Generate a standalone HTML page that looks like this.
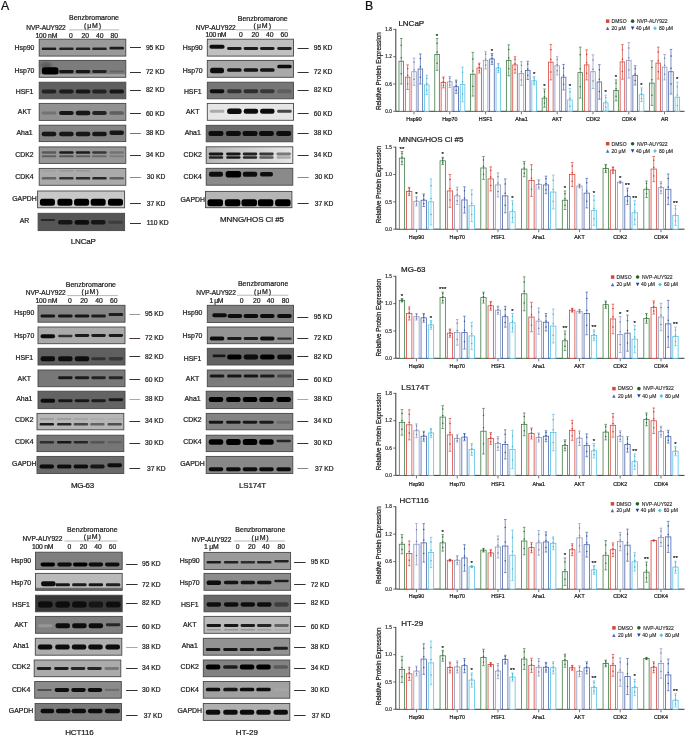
<!DOCTYPE html>
<html><head><meta charset="utf-8"><style>
html,body{margin:0;padding:0;background:#fff;width:685px;height:736px;overflow:hidden}
svg{display:block;font-family:"Liberation Sans", sans-serif;will-change:transform}
</style></head><body>
<svg width="685" height="736" viewBox="0 0 685 736">
<defs><filter id="bl" x="-30%" y="-80%" width="160%" height="260%"><feGaussianBlur stdDeviation="0.65"/></filter>
<filter id="bl2" x="-50%" y="-50%" width="200%" height="200%"><feGaussianBlur stdDeviation="1.6"/></filter>
<filter id="gb" x="0" y="0" width="100%" height="100%"><feGaussianBlur stdDeviation="0.2"/></filter></defs>
<rect width="685" height="736" fill="#fff"/>
<g filter="url(#gb)">
<rect width="685" height="736" fill="#fff"/>
<text x="1.00" y="10.10" font-size="12.3" text-anchor="start" fill="#111" stroke="#111" stroke-width="0.22" >A</text>
<text x="364.90" y="10.10" font-size="12.3" text-anchor="start" fill="#111" stroke="#111" stroke-width="0.22" >B</text>
<text x="69.00" y="19.80" font-size="7" text-anchor="start" fill="#1a1a1a" stroke="#1a1a1a" stroke-width="0.22" textLength="50.0">Benzbromarone</text>
<text x="84.00" y="27.60" font-size="7" text-anchor="start" fill="#1a1a1a" stroke="#1a1a1a" stroke-width="0.22" textLength="17.0">(μM)</text>
<text x="26.30" y="29.50" font-size="6.6" text-anchor="start" fill="#1a1a1a" stroke="#1a1a1a" stroke-width="0.22" textLength="39.4">NVP-AUY922</text>
<line x1="69.00" y1="29.90" x2="119.00" y2="29.90" stroke="#9a9a9a" stroke-width="0.7" />
<text x="35.50" y="37.90" font-size="6.8" text-anchor="start" fill="#1a1a1a" stroke="#1a1a1a" stroke-width="0.22" textLength="21.9">100 nM</text>
<text x="69.00" y="37.90" font-size="6.8" text-anchor="start" fill="#1a1a1a" stroke="#1a1a1a" stroke-width="0.22" >0</text>
<text x="81.60" y="37.90" font-size="6.8" text-anchor="start" fill="#1a1a1a" stroke="#1a1a1a" stroke-width="0.22" >20</text>
<text x="96.00" y="37.90" font-size="6.8" text-anchor="start" fill="#1a1a1a" stroke="#1a1a1a" stroke-width="0.22" >40</text>
<text x="110.50" y="37.90" font-size="6.8" text-anchor="start" fill="#1a1a1a" stroke="#1a1a1a" stroke-width="0.22" >80</text>
<text x="70.80" y="244.10" font-size="8" text-anchor="start" fill="#1a1a1a" stroke="#1a1a1a" stroke-width="0.22" textLength="25.1">LNCaP</text>
<text x="24.50" y="50.30" font-size="6.9" text-anchor="middle" fill="#1a1a1a" stroke="#1a1a1a" stroke-width="0.22" >Hsp90</text>
<text x="145.90" y="49.80" font-size="6.7" text-anchor="start" fill="#1a1a1a" stroke="#1a1a1a" stroke-width="0.22" >95 KD</text>
<line x1="130.00" y1="47.50" x2="140.90" y2="47.50" stroke="#333" stroke-width="1.0" />
<rect x="39.20" y="39.20" width="86.60" height="16.90" fill="#9a9a9a"/>
<rect x="39.20" y="39.20" width="86.60" height="16.90" fill="none" stroke="#474747" stroke-width="0.9"/>
<rect x="41.74" y="47.50" width="14.50" height="2.60" rx="1.18" fill="#1e1e1e" filter="url(#bl)"/>
<rect x="59.14" y="47.50" width="14.50" height="2.60" rx="1.18" fill="#232323" filter="url(#bl)"/>
<rect x="75.77" y="47.50" width="14.50" height="2.60" rx="1.18" fill="#232323" filter="url(#bl)"/>
<rect x="92.22" y="47.50" width="14.50" height="2.60" rx="1.18" fill="#232323" filter="url(#bl)"/>
<rect x="109.46" y="46.80" width="14.50" height="2.60" rx="1.18" fill="#1e1e1e" filter="url(#bl)"/>
<text x="24.50" y="72.60" font-size="6.9" text-anchor="middle" fill="#1a1a1a" stroke="#1a1a1a" stroke-width="0.22" >Hsp70</text>
<text x="145.90" y="74.00" font-size="6.7" text-anchor="start" fill="#1a1a1a" stroke="#1a1a1a" stroke-width="0.22" >72 KD</text>
<line x1="130.00" y1="72.50" x2="140.90" y2="72.50" stroke="#333" stroke-width="1.0" />
<rect x="39.20" y="60.40" width="86.60" height="16.90" fill="#7c7c7c"/>
<rect x="39.20" y="74.30" width="86.60" height="2.50" fill="#a8a8a8" filter="url(#bl)"/>
<ellipse cx="46.00" cy="65.50" rx="6.00" ry="3.50" fill="#3c3c3c" opacity="0.5" filter="url(#bl2)"/>
<rect x="39.20" y="60.40" width="86.60" height="16.90" fill="none" stroke="#474747" stroke-width="0.9"/>
<rect x="41.94" y="67.30" width="16.50" height="7.20" rx="2.50" fill="#060606" filter="url(#bl)"/>
<rect x="59.14" y="70.00" width="14.50" height="3.20" rx="1.45" fill="#161616" filter="url(#bl)"/>
<rect x="75.77" y="70.00" width="14.50" height="3.20" rx="1.45" fill="#191919" filter="url(#bl)"/>
<rect x="92.22" y="70.10" width="14.50" height="3.00" rx="1.36" fill="#232323" filter="url(#bl)"/>
<rect x="109.46" y="70.60" width="14.50" height="2.00" rx="0.91" fill="#646464" filter="url(#bl)"/>
<text x="24.50" y="94.30" font-size="6.9" text-anchor="middle" fill="#1a1a1a" stroke="#1a1a1a" stroke-width="0.22" >HSF1</text>
<text x="145.90" y="92.10" font-size="6.7" text-anchor="start" fill="#1a1a1a" stroke="#1a1a1a" stroke-width="0.22" >82 KD</text>
<line x1="130.00" y1="90.50" x2="140.90" y2="90.50" stroke="#333" stroke-width="1.0" />
<rect x="39.20" y="82.20" width="86.60" height="16.60" fill="#5f5f5f"/>
<rect x="39.20" y="82.20" width="86.60" height="16.60" fill="none" stroke="#474747" stroke-width="0.9"/>
<rect x="41.74" y="89.50" width="14.50" height="4.00" rx="1.82" fill="#232323" filter="url(#bl)"/>
<rect x="59.14" y="89.50" width="14.50" height="4.00" rx="1.82" fill="#1c1c1c" filter="url(#bl)"/>
<rect x="75.77" y="89.50" width="14.50" height="4.00" rx="1.82" fill="#191919" filter="url(#bl)"/>
<rect x="92.22" y="89.50" width="14.50" height="4.00" rx="1.82" fill="#232323" filter="url(#bl)"/>
<rect x="109.46" y="89.50" width="14.50" height="4.00" rx="1.82" fill="#161616" filter="url(#bl)"/>
<text x="24.50" y="113.80" font-size="6.9" text-anchor="middle" fill="#1a1a1a" stroke="#1a1a1a" stroke-width="0.22" >AKT</text>
<text x="145.90" y="115.80" font-size="6.7" text-anchor="start" fill="#1a1a1a" stroke="#1a1a1a" stroke-width="0.22" >60 KD</text>
<line x1="130.00" y1="113.50" x2="140.90" y2="113.50" stroke="#333" stroke-width="1.0" />
<rect x="39.20" y="103.40" width="86.60" height="17.00" fill="#919191"/>
<rect x="39.20" y="103.40" width="86.60" height="17.00" fill="none" stroke="#474747" stroke-width="0.9"/>
<rect x="41.74" y="111.50" width="14.50" height="3.00" rx="1.36" fill="#737373" filter="url(#bl)"/>
<rect x="59.14" y="111.00" width="14.50" height="4.00" rx="1.82" fill="#191919" filter="url(#bl)"/>
<rect x="75.77" y="110.75" width="14.50" height="4.50" rx="2.05" fill="#141414" filter="url(#bl)"/>
<rect x="92.22" y="111.00" width="14.50" height="4.00" rx="1.82" fill="#232323" filter="url(#bl)"/>
<rect x="109.46" y="111.25" width="14.50" height="3.50" rx="1.59" fill="#5f5f5f" filter="url(#bl)"/>
<text x="24.50" y="134.70" font-size="6.9" text-anchor="middle" fill="#1a1a1a" stroke="#1a1a1a" stroke-width="0.22" >Aha1</text>
<text x="145.90" y="134.70" font-size="6.7" text-anchor="start" fill="#1a1a1a" stroke="#1a1a1a" stroke-width="0.22" >38 KD</text>
<line x1="130.00" y1="133.50" x2="140.90" y2="133.50" stroke="#777" stroke-width="1.0" />
<rect x="39.20" y="125.20" width="86.60" height="16.40" fill="#848484"/>
<rect x="39.20" y="125.20" width="86.60" height="16.40" fill="none" stroke="#474747" stroke-width="0.9"/>
<rect x="41.74" y="131.75" width="14.50" height="4.50" rx="2.05" fill="#141414" filter="url(#bl)"/>
<rect x="59.14" y="131.75" width="14.50" height="4.50" rx="2.05" fill="#141414" filter="url(#bl)"/>
<rect x="75.77" y="131.75" width="14.50" height="4.50" rx="2.05" fill="#141414" filter="url(#bl)"/>
<rect x="92.22" y="131.75" width="14.50" height="4.50" rx="2.05" fill="#191919" filter="url(#bl)"/>
<rect x="109.46" y="130.55" width="14.50" height="4.50" rx="2.05" fill="#191919" filter="url(#bl)"/>
<text x="24.50" y="156.70" font-size="6.9" text-anchor="middle" fill="#1a1a1a" stroke="#1a1a1a" stroke-width="0.22" >CDK2</text>
<text x="145.90" y="157.00" font-size="6.7" text-anchor="start" fill="#1a1a1a" stroke="#1a1a1a" stroke-width="0.22" >34 KD</text>
<line x1="130.00" y1="155.50" x2="140.90" y2="155.50" stroke="#333" stroke-width="1.0" />
<rect x="39.20" y="146.90" width="86.60" height="16.50" fill="#969696"/>
<rect x="39.20" y="146.90" width="86.60" height="16.50" fill="none" stroke="#474747" stroke-width="0.9"/>
<rect x="41.74" y="151.20" width="14.50" height="2.60" rx="1.18" fill="#5a5a5a" filter="url(#bl)"/>
<rect x="59.14" y="151.20" width="14.50" height="2.60" rx="1.18" fill="#1e1e1e" filter="url(#bl)"/>
<rect x="75.77" y="151.20" width="14.50" height="2.60" rx="1.18" fill="#1e1e1e" filter="url(#bl)"/>
<rect x="92.22" y="151.20" width="14.50" height="2.60" rx="1.18" fill="#373737" filter="url(#bl)"/>
<rect x="109.46" y="151.20" width="14.50" height="2.60" rx="1.18" fill="#737373" filter="url(#bl)"/>
<rect x="41.74" y="155.30" width="14.50" height="2.00" rx="0.91" fill="#5f5f5f" filter="url(#bl)"/>
<rect x="59.14" y="155.30" width="14.50" height="2.00" rx="0.91" fill="#555555" filter="url(#bl)"/>
<rect x="75.77" y="155.30" width="14.50" height="2.00" rx="0.91" fill="#5f5f5f" filter="url(#bl)"/>
<rect x="92.22" y="155.30" width="14.50" height="2.00" rx="0.91" fill="#696969" filter="url(#bl)"/>
<rect x="109.46" y="155.30" width="14.50" height="2.00" rx="0.91" fill="#7d7d7d" filter="url(#bl)"/>
<text x="24.50" y="179.00" font-size="6.9" text-anchor="middle" fill="#1a1a1a" stroke="#1a1a1a" stroke-width="0.22" >CDK4</text>
<text x="146.70" y="179.00" font-size="6.7" text-anchor="start" fill="#1a1a1a" stroke="#1a1a1a" stroke-width="0.22" >30 KD</text>
<line x1="130.00" y1="177.50" x2="140.90" y2="177.50" stroke="#888" stroke-width="1.0" />
<rect x="39.20" y="168.40" width="86.60" height="16.90" fill="#aaaaaa"/>
<rect x="39.20" y="168.40" width="86.60" height="16.90" fill="none" stroke="#474747" stroke-width="0.9"/>
<rect x="41.74" y="177.00" width="14.50" height="2.60" rx="1.18" fill="#646464" filter="url(#bl)"/>
<rect x="59.14" y="177.00" width="14.50" height="2.60" rx="1.18" fill="#323232" filter="url(#bl)"/>
<rect x="75.77" y="177.00" width="14.50" height="2.60" rx="1.18" fill="#2d2d2d" filter="url(#bl)"/>
<rect x="92.22" y="177.00" width="14.50" height="2.60" rx="1.18" fill="#282828" filter="url(#bl)"/>
<rect x="109.46" y="177.00" width="14.50" height="2.60" rx="1.18" fill="#5f5f5f" filter="url(#bl)"/>
<rect x="41.74" y="170.05" width="14.50" height="1.50" rx="0.68" fill="#a0a0a0" filter="url(#bl)"/>
<rect x="59.14" y="170.05" width="14.50" height="1.50" rx="0.68" fill="#969696" filter="url(#bl)"/>
<rect x="75.77" y="170.05" width="14.50" height="1.50" rx="0.68" fill="#969696" filter="url(#bl)"/>
<text x="24.50" y="201.30" font-size="6.9" text-anchor="middle" fill="#1a1a1a" stroke="#1a1a1a" stroke-width="0.22" >GAPDH</text>
<text x="146.70" y="205.50" font-size="6.7" text-anchor="start" fill="#1a1a1a" stroke="#1a1a1a" stroke-width="0.22" >37 KD</text>
<line x1="130.00" y1="203.50" x2="140.90" y2="203.50" stroke="#333" stroke-width="1.0" />
<rect x="37.60" y="191.00" width="87.00" height="16.80" fill="#c8c8c8"/>
<rect x="37.60" y="191.00" width="87.00" height="16.80" fill="none" stroke="#474747" stroke-width="0.9"/>
<rect x="39.93" y="198.80" width="15.00" height="7.00" rx="2.50" fill="#050505" filter="url(#bl)"/>
<rect x="57.42" y="198.80" width="15.00" height="7.00" rx="2.50" fill="#050505" filter="url(#bl)"/>
<rect x="74.12" y="198.80" width="15.00" height="7.00" rx="2.50" fill="#050505" filter="url(#bl)"/>
<rect x="90.65" y="198.80" width="15.00" height="7.00" rx="2.50" fill="#050505" filter="url(#bl)"/>
<rect x="107.97" y="198.80" width="15.00" height="7.00" rx="2.50" fill="#050505" filter="url(#bl)"/>
<text x="24.50" y="223.30" font-size="6.9" text-anchor="middle" fill="#1a1a1a" stroke="#1a1a1a" stroke-width="0.22" >AR</text>
<text x="146.70" y="225.30" font-size="6.7" text-anchor="start" fill="#1a1a1a" stroke="#1a1a1a" stroke-width="0.22" >110 KD</text>
<line x1="130.00" y1="223.50" x2="140.90" y2="223.50" stroke="#333" stroke-width="1.0" />
<rect x="38.10" y="213.30" width="86.50" height="17.30" fill="#555555"/>
<rect x="38.10" y="213.30" width="86.50" height="17.30" fill="none" stroke="#474747" stroke-width="0.9"/>
<rect x="40.62" y="219.00" width="14.50" height="2.00" rx="0.91" fill="#282828" filter="url(#bl)"/>
<rect x="58.01" y="220.05" width="14.50" height="4.50" rx="2.05" fill="#191919" filter="url(#bl)"/>
<rect x="74.62" y="219.90" width="14.50" height="4.80" rx="2.18" fill="#0f0f0f" filter="url(#bl)"/>
<rect x="91.05" y="220.05" width="14.50" height="4.50" rx="2.05" fill="#141414" filter="url(#bl)"/>
<rect x="108.27" y="220.80" width="14.50" height="3.00" rx="1.36" fill="#3c3c3c" filter="url(#bl)"/>
<text x="237.80" y="20.50" font-size="7" text-anchor="start" fill="#1a1a1a" stroke="#1a1a1a" stroke-width="0.22" textLength="49.9">Benzbromarone</text>
<text x="253.60" y="28.00" font-size="7" text-anchor="start" fill="#1a1a1a" stroke="#1a1a1a" stroke-width="0.22" textLength="17.4">(μM)</text>
<text x="195.80" y="29.70" font-size="6.6" text-anchor="start" fill="#1a1a1a" stroke="#1a1a1a" stroke-width="0.22" textLength="39.9">NVP-AUY922</text>
<line x1="236.00" y1="29.90" x2="288.00" y2="29.90" stroke="#9a9a9a" stroke-width="0.7" />
<text x="205.50" y="37.30" font-size="6.8" text-anchor="start" fill="#1a1a1a" stroke="#1a1a1a" stroke-width="0.22" textLength="21.0">100 nM</text>
<text x="239.00" y="37.30" font-size="6.8" text-anchor="start" fill="#1a1a1a" stroke="#1a1a1a" stroke-width="0.22" >0</text>
<text x="251.50" y="37.30" font-size="6.8" text-anchor="start" fill="#1a1a1a" stroke="#1a1a1a" stroke-width="0.22" >20</text>
<text x="266.00" y="37.30" font-size="6.8" text-anchor="start" fill="#1a1a1a" stroke="#1a1a1a" stroke-width="0.22" >40</text>
<text x="280.50" y="37.30" font-size="6.8" text-anchor="start" fill="#1a1a1a" stroke="#1a1a1a" stroke-width="0.22" >60</text>
<text x="219.90" y="221.90" font-size="8" text-anchor="start" fill="#1a1a1a" stroke="#1a1a1a" stroke-width="0.22" textLength="64.1">MNNG/HOS Cl #5</text>
<text x="192.70" y="50.30" font-size="6.9" text-anchor="middle" fill="#1a1a1a" stroke="#1a1a1a" stroke-width="0.22" >Hsp90</text>
<text x="313.70" y="49.80" font-size="6.7" text-anchor="start" fill="#1a1a1a" stroke="#1a1a1a" stroke-width="0.22" >95 KD</text>
<line x1="297.60" y1="48.50" x2="308.70" y2="48.50" stroke="#333" stroke-width="1.0" />
<rect x="207.30" y="39.20" width="86.20" height="16.90" fill="#c0c0c0"/>
<rect x="207.30" y="39.20" width="86.20" height="16.90" fill="none" stroke="#474747" stroke-width="0.9"/>
<rect x="209.54" y="44.80" width="15.00" height="4.00" rx="1.82" fill="#0f0f0f" filter="url(#bl)"/>
<rect x="227.12" y="46.90" width="14.50" height="3.00" rx="1.36" fill="#1e1e1e" filter="url(#bl)"/>
<rect x="243.67" y="46.90" width="14.50" height="3.00" rx="1.36" fill="#1e1e1e" filter="url(#bl)"/>
<rect x="260.05" y="46.90" width="14.50" height="3.00" rx="1.36" fill="#1e1e1e" filter="url(#bl)"/>
<rect x="277.20" y="46.90" width="14.50" height="3.00" rx="1.36" fill="#232323" filter="url(#bl)"/>
<text x="192.70" y="72.60" font-size="6.9" text-anchor="middle" fill="#1a1a1a" stroke="#1a1a1a" stroke-width="0.22" >Hsp70</text>
<text x="313.70" y="74.00" font-size="6.7" text-anchor="start" fill="#1a1a1a" stroke="#1a1a1a" stroke-width="0.22" >72 KD</text>
<line x1="297.60" y1="72.50" x2="308.70" y2="72.50" stroke="#333" stroke-width="1.0" />
<rect x="207.30" y="60.40" width="86.20" height="16.90" fill="#a9a9a9"/>
<rect x="207.30" y="60.40" width="86.20" height="16.90" fill="none" stroke="#474747" stroke-width="0.9"/>
<rect x="210.04" y="67.65" width="14.00" height="5.50" rx="2.50" fill="#0a0a0a" filter="url(#bl)"/>
<rect x="227.12" y="68.25" width="14.50" height="3.50" rx="1.59" fill="#141414" filter="url(#bl)"/>
<rect x="243.67" y="68.25" width="14.50" height="3.50" rx="1.59" fill="#141414" filter="url(#bl)"/>
<rect x="260.05" y="68.25" width="14.50" height="3.50" rx="1.59" fill="#141414" filter="url(#bl)"/>
<rect x="277.20" y="64.85" width="14.50" height="3.50" rx="1.59" fill="#0f0f0f" filter="url(#bl)"/>
<text x="192.70" y="94.30" font-size="6.9" text-anchor="middle" fill="#1a1a1a" stroke="#1a1a1a" stroke-width="0.22" >HSF1</text>
<text x="313.70" y="92.10" font-size="6.7" text-anchor="start" fill="#1a1a1a" stroke="#1a1a1a" stroke-width="0.22" >82 KD</text>
<line x1="297.60" y1="90.50" x2="308.70" y2="90.50" stroke="#333" stroke-width="1.0" />
<rect x="207.30" y="82.20" width="86.20" height="16.60" fill="#767676"/>
<rect x="207.30" y="82.20" width="86.20" height="16.60" fill="none" stroke="#474747" stroke-width="0.9"/>
<rect x="209.79" y="89.20" width="14.50" height="4.00" rx="1.82" fill="#0f0f0f" filter="url(#bl)"/>
<rect x="227.12" y="89.20" width="14.50" height="4.00" rx="1.82" fill="#323232" filter="url(#bl)"/>
<rect x="243.67" y="89.20" width="14.50" height="4.00" rx="1.82" fill="#2d2d2d" filter="url(#bl)"/>
<rect x="260.05" y="89.20" width="14.50" height="4.00" rx="1.82" fill="#373737" filter="url(#bl)"/>
<rect x="277.20" y="89.20" width="14.50" height="4.00" rx="1.82" fill="#5f5f5f" filter="url(#bl)"/>
<text x="192.70" y="114.40" font-size="6.9" text-anchor="middle" fill="#1a1a1a" stroke="#1a1a1a" stroke-width="0.22" >AKT</text>
<text x="313.70" y="115.80" font-size="6.7" text-anchor="start" fill="#1a1a1a" stroke="#1a1a1a" stroke-width="0.22" >60 KD</text>
<line x1="297.60" y1="113.50" x2="308.70" y2="113.50" stroke="#333" stroke-width="1.0" />
<rect x="207.30" y="103.40" width="86.20" height="16.90" fill="#e6e6e6"/>
<rect x="207.30" y="103.40" width="86.20" height="16.90" fill="none" stroke="#474747" stroke-width="0.9"/>
<rect x="209.79" y="109.80" width="14.50" height="3.00" rx="1.36" fill="#aaaaaa" filter="url(#bl)"/>
<rect x="227.12" y="108.55" width="14.50" height="5.50" rx="2.50" fill="#0a0a0a" filter="url(#bl)"/>
<rect x="243.67" y="108.80" width="14.50" height="5.00" rx="2.27" fill="#0f0f0f" filter="url(#bl)"/>
<rect x="260.05" y="108.80" width="14.50" height="5.00" rx="2.27" fill="#0f0f0f" filter="url(#bl)"/>
<rect x="277.20" y="109.80" width="14.50" height="3.00" rx="1.36" fill="#464646" filter="url(#bl)"/>
<text x="192.70" y="134.70" font-size="6.9" text-anchor="middle" fill="#1a1a1a" stroke="#1a1a1a" stroke-width="0.22" >Aha1</text>
<text x="313.70" y="134.70" font-size="6.7" text-anchor="start" fill="#1a1a1a" stroke="#1a1a1a" stroke-width="0.22" >38 KD</text>
<line x1="297.60" y1="133.50" x2="308.70" y2="133.50" stroke="#333" stroke-width="1.0" />
<rect x="206.20" y="125.30" width="86.60" height="16.50" fill="#6a6a6a"/>
<rect x="206.20" y="125.30" width="86.60" height="16.50" fill="none" stroke="#474747" stroke-width="0.9"/>
<rect x="208.49" y="131.00" width="15.00" height="5.00" rx="2.27" fill="#0a0a0a" filter="url(#bl)"/>
<rect x="225.89" y="131.00" width="15.00" height="5.00" rx="2.27" fill="#0f0f0f" filter="url(#bl)"/>
<rect x="242.52" y="131.00" width="15.00" height="5.00" rx="2.27" fill="#0a0a0a" filter="url(#bl)"/>
<rect x="258.97" y="131.00" width="15.00" height="5.00" rx="2.27" fill="#0f0f0f" filter="url(#bl)"/>
<rect x="276.21" y="131.00" width="15.00" height="5.00" rx="2.27" fill="#0a0a0a" filter="url(#bl)"/>
<text x="192.70" y="156.70" font-size="6.9" text-anchor="middle" fill="#1a1a1a" stroke="#1a1a1a" stroke-width="0.22" >CDK2</text>
<text x="313.70" y="157.00" font-size="6.7" text-anchor="start" fill="#1a1a1a" stroke="#1a1a1a" stroke-width="0.22" >34 KD</text>
<line x1="297.60" y1="155.50" x2="308.70" y2="155.50" stroke="#333" stroke-width="1.0" />
<linearGradient id="gr175" x1="0" y1="0" x2="1" y2="0"><stop offset="0" stop-color="#b6b6b6"/><stop offset="1" stop-color="#e8e8e8"/></linearGradient>
<rect x="206.20" y="146.80" width="86.60" height="16.60" fill="url(#gr175)"/>
<rect x="206.20" y="146.80" width="86.60" height="16.60" fill="none" stroke="#474747" stroke-width="0.9"/>
<rect x="208.74" y="152.40" width="14.50" height="3.00" rx="1.36" fill="#191919" filter="url(#bl)"/>
<rect x="226.14" y="152.40" width="14.50" height="3.00" rx="1.36" fill="#191919" filter="url(#bl)"/>
<rect x="242.77" y="152.40" width="14.50" height="3.00" rx="1.36" fill="#232323" filter="url(#bl)"/>
<rect x="259.22" y="152.40" width="14.50" height="3.00" rx="1.36" fill="#373737" filter="url(#bl)"/>
<rect x="276.46" y="152.40" width="14.50" height="3.00" rx="1.36" fill="#787878" filter="url(#bl)"/>
<rect x="208.74" y="156.25" width="14.50" height="2.50" rx="1.14" fill="#232323" filter="url(#bl)"/>
<rect x="226.14" y="156.25" width="14.50" height="2.50" rx="1.14" fill="#191919" filter="url(#bl)"/>
<rect x="242.77" y="156.25" width="14.50" height="2.50" rx="1.14" fill="#282828" filter="url(#bl)"/>
<rect x="259.22" y="156.25" width="14.50" height="2.50" rx="1.14" fill="#5a5a5a" filter="url(#bl)"/>
<rect x="276.46" y="156.25" width="14.50" height="2.50" rx="1.14" fill="#aaaaaa" filter="url(#bl)"/>
<text x="192.70" y="179.00" font-size="6.9" text-anchor="middle" fill="#1a1a1a" stroke="#1a1a1a" stroke-width="0.22" >CDK4</text>
<text x="314.80" y="179.00" font-size="6.7" text-anchor="start" fill="#1a1a1a" stroke="#1a1a1a" stroke-width="0.22" >30 KD</text>
<line x1="297.60" y1="177.50" x2="308.70" y2="177.50" stroke="#888" stroke-width="1.0" />
<rect x="206.20" y="168.30" width="86.60" height="16.90" fill="#8a8a8a"/>
<rect x="206.20" y="168.30" width="86.60" height="16.90" fill="none" stroke="#474747" stroke-width="0.9"/>
<rect x="208.99" y="171.80" width="14.00" height="5.00" rx="2.27" fill="#0a0a0a" filter="url(#bl)"/>
<rect x="225.64" y="171.05" width="15.50" height="6.50" rx="2.50" fill="#050505" filter="url(#bl)"/>
<rect x="242.77" y="171.80" width="14.50" height="5.00" rx="2.27" fill="#0a0a0a" filter="url(#bl)"/>
<rect x="259.97" y="172.05" width="13.00" height="4.50" rx="2.05" fill="#0f0f0f" filter="url(#bl)"/>
<text x="192.70" y="201.60" font-size="6.9" text-anchor="middle" fill="#1a1a1a" stroke="#1a1a1a" stroke-width="0.22" >GAPDH</text>
<text x="314.80" y="205.50" font-size="6.7" text-anchor="start" fill="#1a1a1a" stroke="#1a1a1a" stroke-width="0.22" >37 KD</text>
<line x1="297.60" y1="203.50" x2="308.70" y2="203.50" stroke="#333" stroke-width="1.0" />
<rect x="205.50" y="191.40" width="86.40" height="16.30" fill="#b5b5b5"/>
<rect x="205.50" y="191.40" width="86.40" height="16.30" fill="none" stroke="#474747" stroke-width="0.9"/>
<rect x="207.51" y="199.30" width="15.50" height="7.00" rx="2.50" fill="#050505" filter="url(#bl)"/>
<rect x="224.88" y="199.30" width="15.50" height="7.00" rx="2.50" fill="#050505" filter="url(#bl)"/>
<rect x="241.47" y="199.30" width="15.50" height="7.00" rx="2.50" fill="#050505" filter="url(#bl)"/>
<rect x="257.88" y="199.30" width="15.50" height="7.00" rx="2.50" fill="#050505" filter="url(#bl)"/>
<rect x="275.08" y="199.30" width="15.50" height="7.00" rx="2.50" fill="#050505" filter="url(#bl)"/>
<text x="65.70" y="286.80" font-size="7" text-anchor="start" fill="#1a1a1a" stroke="#1a1a1a" stroke-width="0.22" textLength="50.3">Benzbromarone</text>
<text x="81.50" y="294.00" font-size="7" text-anchor="start" fill="#1a1a1a" stroke="#1a1a1a" stroke-width="0.22" textLength="17.1">(μM)</text>
<text x="25.80" y="295.30" font-size="6.6" text-anchor="start" fill="#1a1a1a" stroke="#1a1a1a" stroke-width="0.22" textLength="39.9">NVP-AUY922</text>
<line x1="67.00" y1="295.60" x2="118.00" y2="295.60" stroke="#9a9a9a" stroke-width="0.7" />
<text x="35.50" y="303.00" font-size="6.8" text-anchor="start" fill="#1a1a1a" stroke="#1a1a1a" stroke-width="0.22" textLength="21.9">100 nM</text>
<text x="67.90" y="303.00" font-size="6.8" text-anchor="start" fill="#1a1a1a" stroke="#1a1a1a" stroke-width="0.22" >0</text>
<text x="80.30" y="303.00" font-size="6.8" text-anchor="start" fill="#1a1a1a" stroke="#1a1a1a" stroke-width="0.22" >20</text>
<text x="95.30" y="303.00" font-size="6.8" text-anchor="start" fill="#1a1a1a" stroke="#1a1a1a" stroke-width="0.22" >40</text>
<text x="110.00" y="303.00" font-size="6.8" text-anchor="start" fill="#1a1a1a" stroke="#1a1a1a" stroke-width="0.22" >60</text>
<text x="70.90" y="488.00" font-size="8" text-anchor="start" fill="#1a1a1a" stroke="#1a1a1a" stroke-width="0.22" textLength="23.3">MG-63</text>
<text x="24.30" y="315.40" font-size="6.9" text-anchor="middle" fill="#1a1a1a" stroke="#1a1a1a" stroke-width="0.22" >Hsp90</text>
<text x="145.00" y="316.10" font-size="6.7" text-anchor="start" fill="#1a1a1a" stroke="#1a1a1a" stroke-width="0.22" >95 KD</text>
<line x1="129.40" y1="314.50" x2="140.20" y2="314.50" stroke="#999" stroke-width="1.0" />
<rect x="38.00" y="305.30" width="87.00" height="16.90" fill="#858585"/>
<rect x="38.00" y="305.30" width="87.00" height="16.90" fill="none" stroke="#474747" stroke-width="0.9"/>
<rect x="40.58" y="314.50" width="14.50" height="3.00" rx="1.36" fill="#191919" filter="url(#bl)"/>
<rect x="58.07" y="314.50" width="14.50" height="3.00" rx="1.36" fill="#191919" filter="url(#bl)"/>
<rect x="74.77" y="314.50" width="14.50" height="3.00" rx="1.36" fill="#191919" filter="url(#bl)"/>
<rect x="91.30" y="314.50" width="14.50" height="3.00" rx="1.36" fill="#1e1e1e" filter="url(#bl)"/>
<rect x="108.61" y="313.10" width="14.50" height="3.00" rx="1.36" fill="#1e1e1e" filter="url(#bl)"/>
<text x="24.30" y="337.90" font-size="6.9" text-anchor="middle" fill="#1a1a1a" stroke="#1a1a1a" stroke-width="0.22" >Hsp70</text>
<text x="145.00" y="340.40" font-size="6.7" text-anchor="start" fill="#1a1a1a" stroke="#1a1a1a" stroke-width="0.22" >72 KD</text>
<line x1="129.40" y1="338.50" x2="140.20" y2="338.50" stroke="#4a3a3a" stroke-width="1.0" />
<rect x="38.00" y="327.00" width="87.00" height="16.70" fill="#aaaaaa"/>
<rect x="38.00" y="327.00" width="87.00" height="16.70" fill="none" stroke="#474747" stroke-width="0.9"/>
<rect x="40.58" y="334.30" width="14.50" height="4.00" rx="1.82" fill="#0f0f0f" filter="url(#bl)"/>
<rect x="58.07" y="334.75" width="14.50" height="2.50" rx="1.14" fill="#323232" filter="url(#bl)"/>
<rect x="74.77" y="333.90" width="14.50" height="3.00" rx="1.36" fill="#1e1e1e" filter="url(#bl)"/>
<rect x="91.30" y="333.90" width="14.50" height="3.00" rx="1.36" fill="#1e1e1e" filter="url(#bl)"/>
<rect x="108.61" y="333.90" width="14.50" height="3.00" rx="1.36" fill="#1e1e1e" filter="url(#bl)"/>
<text x="24.30" y="360.40" font-size="6.9" text-anchor="middle" fill="#1a1a1a" stroke="#1a1a1a" stroke-width="0.22" >HSF1</text>
<text x="145.00" y="358.70" font-size="6.7" text-anchor="start" fill="#1a1a1a" stroke="#1a1a1a" stroke-width="0.22" >82 KD</text>
<line x1="129.40" y1="356.50" x2="140.20" y2="356.50" stroke="#333" stroke-width="1.0" />
<rect x="38.00" y="348.30" width="87.00" height="16.70" fill="#5e5e5e"/>
<rect x="38.00" y="348.30" width="87.00" height="16.70" fill="none" stroke="#474747" stroke-width="0.9"/>
<rect x="40.58" y="356.20" width="14.50" height="5.00" rx="2.27" fill="#0a0a0a" filter="url(#bl)"/>
<rect x="58.07" y="356.20" width="14.50" height="5.00" rx="2.27" fill="#0f0f0f" filter="url(#bl)"/>
<rect x="74.77" y="356.20" width="14.50" height="5.00" rx="2.27" fill="#0f0f0f" filter="url(#bl)"/>
<rect x="91.30" y="357.20" width="14.50" height="3.00" rx="1.36" fill="#323232" filter="url(#bl)"/>
<rect x="108.61" y="356.95" width="14.50" height="3.50" rx="1.59" fill="#373737" filter="url(#bl)"/>
<text x="24.30" y="380.70" font-size="6.9" text-anchor="middle" fill="#1a1a1a" stroke="#1a1a1a" stroke-width="0.22" >AKT</text>
<text x="145.00" y="381.90" font-size="6.7" text-anchor="start" fill="#1a1a1a" stroke="#1a1a1a" stroke-width="0.22" >60 KD</text>
<line x1="129.40" y1="379.50" x2="140.20" y2="379.50" stroke="#333" stroke-width="1.0" />
<rect x="38.00" y="370.00" width="87.00" height="16.70" fill="#787878"/>
<rect x="38.00" y="370.00" width="87.00" height="16.70" fill="none" stroke="#474747" stroke-width="0.9"/>
<rect x="58.07" y="376.20" width="14.50" height="3.00" rx="1.36" fill="#191919" filter="url(#bl)"/>
<rect x="74.77" y="376.20" width="14.50" height="3.00" rx="1.36" fill="#1e1e1e" filter="url(#bl)"/>
<rect x="91.30" y="376.20" width="14.50" height="3.00" rx="1.36" fill="#232323" filter="url(#bl)"/>
<rect x="108.61" y="376.20" width="14.50" height="3.00" rx="1.36" fill="#282828" filter="url(#bl)"/>
<text x="24.30" y="401.00" font-size="6.9" text-anchor="middle" fill="#1a1a1a" stroke="#1a1a1a" stroke-width="0.22" >Aha1</text>
<text x="145.00" y="401.20" font-size="6.7" text-anchor="start" fill="#1a1a1a" stroke="#1a1a1a" stroke-width="0.22" >38 KD</text>
<line x1="129.40" y1="399.50" x2="140.20" y2="399.50" stroke="#aaa" stroke-width="1.0" />
<rect x="38.00" y="391.20" width="87.00" height="17.40" fill="#646464"/>
<rect x="38.00" y="391.20" width="87.00" height="17.40" fill="none" stroke="#474747" stroke-width="0.9"/>
<rect x="40.58" y="398.70" width="14.50" height="4.00" rx="1.82" fill="#0a0a0a" filter="url(#bl)"/>
<rect x="58.07" y="399.20" width="14.50" height="3.00" rx="1.36" fill="#191919" filter="url(#bl)"/>
<rect x="74.77" y="399.20" width="14.50" height="3.00" rx="1.36" fill="#191919" filter="url(#bl)"/>
<rect x="91.30" y="399.20" width="14.50" height="3.00" rx="1.36" fill="#1e1e1e" filter="url(#bl)"/>
<rect x="108.61" y="398.20" width="14.50" height="3.00" rx="1.36" fill="#191919" filter="url(#bl)"/>
<text x="24.30" y="422.30" font-size="6.9" text-anchor="middle" fill="#1a1a1a" stroke="#1a1a1a" stroke-width="0.22" >CDK2</text>
<text x="145.00" y="423.00" font-size="6.7" text-anchor="start" fill="#1a1a1a" stroke="#1a1a1a" stroke-width="0.22" >34 KD</text>
<line x1="129.40" y1="421.50" x2="140.20" y2="421.50" stroke="#333" stroke-width="1.0" />
<rect x="37.00" y="413.40" width="86.80" height="16.40" fill="#b6b6b6"/>
<rect x="37.00" y="413.40" width="86.80" height="16.40" fill="none" stroke="#474747" stroke-width="0.9"/>
<rect x="39.56" y="418.25" width="14.50" height="1.50" rx="0.68" fill="#969696" filter="url(#bl)"/>
<rect x="57.01" y="418.25" width="14.50" height="1.50" rx="0.68" fill="#969696" filter="url(#bl)"/>
<rect x="73.67" y="418.25" width="14.50" height="1.50" rx="0.68" fill="#a0a0a0" filter="url(#bl)"/>
<rect x="90.16" y="418.25" width="14.50" height="1.50" rx="0.68" fill="#aaaaaa" filter="url(#bl)"/>
<rect x="107.44" y="418.25" width="14.50" height="1.50" rx="0.68" fill="#aaaaaa" filter="url(#bl)"/>
<rect x="39.56" y="423.05" width="14.50" height="2.50" rx="1.14" fill="#1e1e1e" filter="url(#bl)"/>
<rect x="57.01" y="423.05" width="14.50" height="2.50" rx="1.14" fill="#282828" filter="url(#bl)"/>
<rect x="73.67" y="423.05" width="14.50" height="2.50" rx="1.14" fill="#464646" filter="url(#bl)"/>
<rect x="90.16" y="423.05" width="14.50" height="2.50" rx="1.14" fill="#646464" filter="url(#bl)"/>
<rect x="107.44" y="423.05" width="14.50" height="2.50" rx="1.14" fill="#505050" filter="url(#bl)"/>
<text x="24.30" y="444.30" font-size="6.9" text-anchor="middle" fill="#1a1a1a" stroke="#1a1a1a" stroke-width="0.22" >CDK4</text>
<text x="145.00" y="444.80" font-size="6.7" text-anchor="start" fill="#1a1a1a" stroke="#1a1a1a" stroke-width="0.22" >30 KD</text>
<line x1="129.40" y1="443.50" x2="140.20" y2="443.50" stroke="#333" stroke-width="1.0" />
<rect x="37.00" y="435.20" width="86.80" height="16.40" fill="#767676"/>
<rect x="37.00" y="435.20" width="86.80" height="16.40" fill="none" stroke="#474747" stroke-width="0.9"/>
<rect x="39.56" y="441.05" width="14.50" height="2.50" rx="1.14" fill="#2d2d2d" filter="url(#bl)"/>
<rect x="57.01" y="441.05" width="14.50" height="2.50" rx="1.14" fill="#191919" filter="url(#bl)"/>
<rect x="73.67" y="441.05" width="14.50" height="2.50" rx="1.14" fill="#282828" filter="url(#bl)"/>
<rect x="90.16" y="441.05" width="14.50" height="2.50" rx="1.14" fill="#555555" filter="url(#bl)"/>
<rect x="107.44" y="441.05" width="14.50" height="2.50" rx="1.14" fill="#646464" filter="url(#bl)"/>
<text x="24.30" y="465.80" font-size="6.9" text-anchor="middle" fill="#1a1a1a" stroke="#1a1a1a" stroke-width="0.22" >GAPDH</text>
<text x="147.00" y="470.70" font-size="6.7" text-anchor="start" fill="#1a1a1a" stroke="#1a1a1a" stroke-width="0.22" >37 KD</text>
<line x1="129.40" y1="468.50" x2="140.20" y2="468.50" stroke="#333" stroke-width="1.0" />
<rect x="37.00" y="456.40" width="86.80" height="17.10" fill="#6a6a6a"/>
<rect x="37.00" y="456.40" width="86.80" height="17.10" fill="none" stroke="#474747" stroke-width="0.9"/>
<rect x="39.56" y="464.60" width="14.50" height="4.00" rx="1.82" fill="#0a0a0a" filter="url(#bl)"/>
<rect x="57.01" y="464.60" width="14.50" height="4.00" rx="1.82" fill="#0f0f0f" filter="url(#bl)"/>
<rect x="73.67" y="464.60" width="14.50" height="4.00" rx="1.82" fill="#0f0f0f" filter="url(#bl)"/>
<rect x="90.16" y="464.60" width="14.50" height="4.00" rx="1.82" fill="#141414" filter="url(#bl)"/>
<rect x="107.44" y="463.20" width="14.50" height="4.00" rx="1.82" fill="#0a0a0a" filter="url(#bl)"/>
<text x="237.90" y="285.80" font-size="7" text-anchor="start" fill="#1a1a1a" stroke="#1a1a1a" stroke-width="0.22" textLength="50.5">Benzbromarone</text>
<text x="254.00" y="293.70" font-size="7" text-anchor="start" fill="#1a1a1a" stroke="#1a1a1a" stroke-width="0.22" textLength="17.0">(μM)</text>
<text x="196.30" y="295.00" font-size="6.6" text-anchor="start" fill="#1a1a1a" stroke="#1a1a1a" stroke-width="0.22" textLength="39.5">NVP-AUY922</text>
<line x1="237.00" y1="295.20" x2="288.40" y2="295.20" stroke="#9a9a9a" stroke-width="0.7" />
<text x="209.50" y="303.00" font-size="6.8" text-anchor="start" fill="#1a1a1a" stroke="#1a1a1a" stroke-width="0.22" textLength="13.9">1 μM</text>
<text x="239.70" y="303.00" font-size="6.8" text-anchor="start" fill="#1a1a1a" stroke="#1a1a1a" stroke-width="0.22" >0</text>
<text x="252.90" y="303.00" font-size="6.8" text-anchor="start" fill="#1a1a1a" stroke="#1a1a1a" stroke-width="0.22" >20</text>
<text x="266.80" y="303.00" font-size="6.8" text-anchor="start" fill="#1a1a1a" stroke="#1a1a1a" stroke-width="0.22" >40</text>
<text x="281.80" y="303.00" font-size="6.8" text-anchor="start" fill="#1a1a1a" stroke="#1a1a1a" stroke-width="0.22" >80</text>
<text x="238.90" y="488.00" font-size="8" text-anchor="start" fill="#1a1a1a" stroke="#1a1a1a" stroke-width="0.22" textLength="27.3">LS174T</text>
<text x="192.50" y="315.40" font-size="6.9" text-anchor="middle" fill="#1a1a1a" stroke="#1a1a1a" stroke-width="0.22" >Hsp90</text>
<text x="313.70" y="318.80" font-size="6.7" text-anchor="start" fill="#1a1a1a" stroke="#1a1a1a" stroke-width="0.22" >95 KD</text>
<line x1="297.30" y1="317.50" x2="308.30" y2="317.50" stroke="#333" stroke-width="1.0" />
<rect x="207.30" y="305.30" width="86.20" height="17.20" fill="#808080"/>
<rect x="207.30" y="305.30" width="86.20" height="17.20" fill="none" stroke="#474747" stroke-width="0.9"/>
<rect x="212.29" y="313.30" width="14.50" height="4.00" rx="1.82" fill="#0f0f0f" filter="url(#bl)"/>
<rect x="227.62" y="314.00" width="14.50" height="4.00" rx="1.82" fill="#0f0f0f" filter="url(#bl)"/>
<rect x="243.67" y="314.00" width="14.50" height="4.00" rx="1.82" fill="#0a0a0a" filter="url(#bl)"/>
<rect x="260.05" y="314.00" width="14.50" height="4.00" rx="1.82" fill="#0f0f0f" filter="url(#bl)"/>
<rect x="277.20" y="314.00" width="14.50" height="4.00" rx="1.82" fill="#0f0f0f" filter="url(#bl)"/>
<text x="192.50" y="338.40" font-size="6.9" text-anchor="middle" fill="#1a1a1a" stroke="#1a1a1a" stroke-width="0.22" >Hsp70</text>
<text x="313.70" y="339.90" font-size="6.7" text-anchor="start" fill="#1a1a1a" stroke="#1a1a1a" stroke-width="0.22" >72 KD</text>
<line x1="297.30" y1="338.50" x2="308.30" y2="338.50" stroke="#333" stroke-width="1.0" />
<rect x="207.30" y="327.00" width="86.20" height="16.70" fill="#949494"/>
<rect x="207.30" y="327.00" width="86.20" height="16.70" fill="none" stroke="#474747" stroke-width="0.9"/>
<rect x="209.79" y="336.60" width="14.50" height="4.00" rx="1.82" fill="#0f0f0f" filter="url(#bl)"/>
<rect x="227.12" y="337.10" width="14.50" height="3.00" rx="1.36" fill="#1e1e1e" filter="url(#bl)"/>
<rect x="243.67" y="337.10" width="14.50" height="3.00" rx="1.36" fill="#1e1e1e" filter="url(#bl)"/>
<rect x="260.05" y="336.60" width="14.50" height="4.00" rx="1.82" fill="#0f0f0f" filter="url(#bl)"/>
<rect x="277.20" y="337.50" width="14.50" height="2.20" rx="1.00" fill="#323232" filter="url(#bl)"/>
<text x="192.50" y="360.60" font-size="6.9" text-anchor="middle" fill="#1a1a1a" stroke="#1a1a1a" stroke-width="0.22" >HSF1</text>
<text x="313.70" y="358.70" font-size="6.7" text-anchor="start" fill="#1a1a1a" stroke="#1a1a1a" stroke-width="0.22" >82 KD</text>
<line x1="297.30" y1="356.50" x2="308.30" y2="356.50" stroke="#333" stroke-width="1.0" />
<rect x="207.30" y="348.30" width="86.20" height="16.70" fill="#646464"/>
<rect x="207.30" y="348.30" width="86.20" height="16.70" fill="none" stroke="#474747" stroke-width="0.9"/>
<rect x="212.54" y="354.50" width="13.00" height="2.80" rx="1.27" fill="#191919" filter="url(#bl)"/>
<rect x="227.12" y="354.40" width="14.50" height="5.00" rx="2.27" fill="#050505" filter="url(#bl)"/>
<rect x="243.67" y="354.40" width="14.50" height="5.00" rx="2.27" fill="#0a0a0a" filter="url(#bl)"/>
<rect x="260.05" y="354.40" width="14.50" height="5.00" rx="2.27" fill="#050505" filter="url(#bl)"/>
<rect x="277.20" y="354.40" width="14.50" height="5.00" rx="2.27" fill="#0f0f0f" filter="url(#bl)"/>
<text x="192.50" y="380.70" font-size="6.9" text-anchor="middle" fill="#1a1a1a" stroke="#1a1a1a" stroke-width="0.22" >AKT</text>
<text x="313.70" y="381.90" font-size="6.7" text-anchor="start" fill="#1a1a1a" stroke="#1a1a1a" stroke-width="0.22" >60 KD</text>
<line x1="297.30" y1="379.50" x2="308.30" y2="379.50" stroke="#333" stroke-width="1.0" />
<rect x="207.30" y="370.00" width="86.20" height="16.70" fill="#7c7c7c"/>
<rect x="207.30" y="370.00" width="86.20" height="16.70" fill="none" stroke="#474747" stroke-width="0.9"/>
<rect x="209.79" y="374.50" width="14.50" height="3.00" rx="1.36" fill="#191919" filter="url(#bl)"/>
<rect x="227.12" y="374.50" width="14.50" height="3.00" rx="1.36" fill="#191919" filter="url(#bl)"/>
<rect x="243.67" y="374.50" width="14.50" height="3.00" rx="1.36" fill="#191919" filter="url(#bl)"/>
<rect x="260.05" y="374.50" width="14.50" height="3.00" rx="1.36" fill="#1e1e1e" filter="url(#bl)"/>
<rect x="277.20" y="374.50" width="14.50" height="3.00" rx="1.36" fill="#464646" filter="url(#bl)"/>
<rect x="209.79" y="379.05" width="14.50" height="1.50" rx="0.68" fill="#787878" filter="url(#bl)"/>
<rect x="227.12" y="379.05" width="14.50" height="1.50" rx="0.68" fill="#787878" filter="url(#bl)"/>
<rect x="243.67" y="379.05" width="14.50" height="1.50" rx="0.68" fill="#787878" filter="url(#bl)"/>
<rect x="260.05" y="379.05" width="14.50" height="1.50" rx="0.68" fill="#828282" filter="url(#bl)"/>
<text x="192.50" y="401.00" font-size="6.9" text-anchor="middle" fill="#1a1a1a" stroke="#1a1a1a" stroke-width="0.22" >Aha1</text>
<text x="313.70" y="401.20" font-size="6.7" text-anchor="start" fill="#1a1a1a" stroke="#1a1a1a" stroke-width="0.22" >38 KD</text>
<line x1="297.30" y1="399.50" x2="308.30" y2="399.50" stroke="#aaa" stroke-width="1.0" />
<rect x="206.20" y="391.20" width="86.60" height="17.40" fill="#767676"/>
<rect x="206.20" y="391.20" width="86.60" height="17.40" fill="none" stroke="#474747" stroke-width="0.9"/>
<rect x="208.74" y="397.10" width="14.50" height="5.00" rx="2.27" fill="#050505" filter="url(#bl)"/>
<rect x="226.14" y="397.10" width="14.50" height="5.00" rx="2.27" fill="#050505" filter="url(#bl)"/>
<rect x="242.77" y="397.10" width="14.50" height="5.00" rx="2.27" fill="#050505" filter="url(#bl)"/>
<rect x="259.22" y="397.10" width="14.50" height="5.00" rx="2.27" fill="#050505" filter="url(#bl)"/>
<rect x="276.46" y="397.10" width="14.50" height="5.00" rx="2.27" fill="#050505" filter="url(#bl)"/>
<text x="192.50" y="422.30" font-size="6.9" text-anchor="middle" fill="#1a1a1a" stroke="#1a1a1a" stroke-width="0.22" >CDK2</text>
<text x="313.70" y="422.80" font-size="6.7" text-anchor="start" fill="#1a1a1a" stroke="#1a1a1a" stroke-width="0.22" >34 KD</text>
<line x1="297.30" y1="421.50" x2="308.30" y2="421.50" stroke="#333" stroke-width="1.0" />
<rect x="206.20" y="413.40" width="86.60" height="16.40" fill="#838383"/>
<rect x="206.20" y="413.40" width="86.60" height="16.40" fill="none" stroke="#474747" stroke-width="0.9"/>
<rect x="208.74" y="420.70" width="14.50" height="3.00" rx="1.36" fill="#191919" filter="url(#bl)"/>
<rect x="226.14" y="420.70" width="14.50" height="3.00" rx="1.36" fill="#191919" filter="url(#bl)"/>
<rect x="242.77" y="420.70" width="14.50" height="3.00" rx="1.36" fill="#191919" filter="url(#bl)"/>
<rect x="259.22" y="420.70" width="14.50" height="3.00" rx="1.36" fill="#1e1e1e" filter="url(#bl)"/>
<rect x="276.46" y="420.70" width="14.50" height="3.00" rx="1.36" fill="#6e6e6e" filter="url(#bl)"/>
<text x="192.50" y="444.30" font-size="6.9" text-anchor="middle" fill="#1a1a1a" stroke="#1a1a1a" stroke-width="0.22" >CDK4</text>
<text x="313.70" y="444.80" font-size="6.7" text-anchor="start" fill="#1a1a1a" stroke="#1a1a1a" stroke-width="0.22" >30 KD</text>
<line x1="297.30" y1="443.50" x2="308.30" y2="443.50" stroke="#333" stroke-width="1.0" />
<rect x="206.20" y="435.20" width="86.60" height="16.40" fill="#808080"/>
<rect x="206.20" y="435.20" width="86.60" height="16.40" fill="none" stroke="#474747" stroke-width="0.9"/>
<rect x="208.74" y="439.15" width="14.50" height="5.50" rx="2.50" fill="#050505" filter="url(#bl)"/>
<rect x="226.14" y="438.90" width="14.50" height="6.00" rx="2.50" fill="#050505" filter="url(#bl)"/>
<rect x="242.77" y="438.90" width="14.50" height="6.00" rx="2.50" fill="#050505" filter="url(#bl)"/>
<rect x="259.22" y="439.15" width="14.50" height="5.50" rx="2.50" fill="#050505" filter="url(#bl)"/>
<rect x="276.46" y="439.65" width="14.50" height="2.50" rx="1.14" fill="#282828" filter="url(#bl)"/>
<text x="192.50" y="466.30" font-size="6.9" text-anchor="middle" fill="#1a1a1a" stroke="#1a1a1a" stroke-width="0.22" >GAPDH</text>
<text x="315.00" y="470.70" font-size="6.7" text-anchor="start" fill="#1a1a1a" stroke="#1a1a1a" stroke-width="0.22" >37 KD</text>
<line x1="297.30" y1="468.50" x2="308.30" y2="468.50" stroke="#888" stroke-width="1.0" />
<rect x="206.20" y="456.40" width="86.60" height="17.10" fill="#888888"/>
<rect x="206.20" y="456.40" width="86.60" height="17.10" fill="none" stroke="#474747" stroke-width="0.9"/>
<rect x="208.74" y="467.20" width="14.50" height="4.00" rx="1.82" fill="#0a0a0a" filter="url(#bl)"/>
<rect x="226.14" y="467.20" width="14.50" height="4.00" rx="1.82" fill="#0a0a0a" filter="url(#bl)"/>
<rect x="242.77" y="467.20" width="14.50" height="4.00" rx="1.82" fill="#0a0a0a" filter="url(#bl)"/>
<rect x="259.22" y="467.20" width="14.50" height="4.00" rx="1.82" fill="#0a0a0a" filter="url(#bl)"/>
<rect x="276.46" y="467.20" width="14.50" height="4.00" rx="1.82" fill="#0f0f0f" filter="url(#bl)"/>
<text x="67.00" y="531.60" font-size="7" text-anchor="start" fill="#1a1a1a" stroke="#1a1a1a" stroke-width="0.22" textLength="50.6">Benzbromarone</text>
<text x="83.70" y="539.00" font-size="7" text-anchor="start" fill="#1a1a1a" stroke="#1a1a1a" stroke-width="0.22" textLength="17.1">(μM)</text>
<text x="22.40" y="541.30" font-size="6.6" text-anchor="start" fill="#1a1a1a" stroke="#1a1a1a" stroke-width="0.22" textLength="40.0">NVP-AUY922</text>
<line x1="64.50" y1="541.00" x2="117.60" y2="541.00" stroke="#9a9a9a" stroke-width="0.7" />
<text x="32.00" y="548.70" font-size="6.8" text-anchor="start" fill="#1a1a1a" stroke="#1a1a1a" stroke-width="0.22" textLength="21.4">100 nM</text>
<text x="67.60" y="548.70" font-size="6.8" text-anchor="start" fill="#1a1a1a" stroke="#1a1a1a" stroke-width="0.22" >0</text>
<text x="79.70" y="548.70" font-size="6.8" text-anchor="start" fill="#1a1a1a" stroke="#1a1a1a" stroke-width="0.22" >20</text>
<text x="94.20" y="548.70" font-size="6.8" text-anchor="start" fill="#1a1a1a" stroke="#1a1a1a" stroke-width="0.22" >40</text>
<text x="108.70" y="548.70" font-size="6.8" text-anchor="start" fill="#1a1a1a" stroke="#1a1a1a" stroke-width="0.22" >60</text>
<text x="65.20" y="734.60" font-size="8" text-anchor="start" fill="#1a1a1a" stroke="#1a1a1a" stroke-width="0.22" textLength="28.5">HCT116</text>
<text x="21.10" y="562.90" font-size="6.9" text-anchor="middle" fill="#1a1a1a" stroke="#1a1a1a" stroke-width="0.22" >Hsp90</text>
<text x="142.00" y="566.30" font-size="6.7" text-anchor="start" fill="#1a1a1a" stroke="#1a1a1a" stroke-width="0.22" >95 KD</text>
<line x1="126.10" y1="564.50" x2="137.60" y2="564.50" stroke="#333" stroke-width="1.0" />
<rect x="35.50" y="552.20" width="86.70" height="17.30" fill="#7f7f7f"/>
<rect x="35.50" y="552.20" width="86.70" height="17.30" fill="none" stroke="#474747" stroke-width="0.9"/>
<rect x="40.55" y="562.40" width="14.50" height="4.00" rx="1.82" fill="#050505" filter="url(#bl)"/>
<rect x="57.27" y="562.40" width="14.50" height="4.00" rx="1.82" fill="#0a0a0a" filter="url(#bl)"/>
<rect x="73.02" y="562.40" width="14.50" height="4.00" rx="1.82" fill="#050505" filter="url(#bl)"/>
<rect x="88.59" y="562.40" width="14.50" height="4.00" rx="1.82" fill="#0a0a0a" filter="url(#bl)"/>
<rect x="105.05" y="562.40" width="14.50" height="4.00" rx="1.82" fill="#0f0f0f" filter="url(#bl)"/>
<text x="21.10" y="584.90" font-size="6.9" text-anchor="middle" fill="#1a1a1a" stroke="#1a1a1a" stroke-width="0.22" >Hsp70</text>
<text x="142.00" y="586.60" font-size="6.7" text-anchor="start" fill="#1a1a1a" stroke="#1a1a1a" stroke-width="0.22" >72 KD</text>
<line x1="126.10" y1="584.50" x2="137.60" y2="584.50" stroke="#333" stroke-width="1.0" />
<rect x="35.50" y="573.40" width="86.70" height="16.90" fill="#bababa"/>
<rect x="35.50" y="587.80" width="86.70" height="2.50" fill="#696969" filter="url(#bl)"/>
<rect x="35.50" y="573.40" width="86.70" height="16.90" fill="none" stroke="#474747" stroke-width="0.9"/>
<rect x="41.05" y="581.30" width="14.50" height="5.00" rx="2.27" fill="#0a0a0a" filter="url(#bl)"/>
<rect x="55.47" y="583.30" width="14.50" height="3.00" rx="1.36" fill="#191919" filter="url(#bl)"/>
<rect x="72.12" y="583.30" width="14.50" height="3.00" rx="1.36" fill="#1e1e1e" filter="url(#bl)"/>
<rect x="88.59" y="583.30" width="14.50" height="3.00" rx="1.36" fill="#191919" filter="url(#bl)"/>
<rect x="105.85" y="583.30" width="14.50" height="3.00" rx="1.36" fill="#232323" filter="url(#bl)"/>
<text x="21.10" y="606.60" font-size="6.9" text-anchor="middle" fill="#1a1a1a" stroke="#1a1a1a" stroke-width="0.22" >HSF1</text>
<text x="142.00" y="605.40" font-size="6.7" text-anchor="start" fill="#1a1a1a" stroke="#1a1a1a" stroke-width="0.22" >82 KD</text>
<line x1="126.10" y1="603.50" x2="137.60" y2="603.50" stroke="#333" stroke-width="1.0" />
<rect x="35.50" y="595.20" width="86.70" height="16.60" fill="#383838"/>
<rect x="35.50" y="595.20" width="86.70" height="16.60" fill="none" stroke="#474747" stroke-width="0.9"/>
<rect x="38.05" y="601.60" width="14.50" height="6.00" rx="2.50" fill="#0c0c0c" filter="url(#bl)"/>
<rect x="55.47" y="601.60" width="14.50" height="6.00" rx="2.50" fill="#0c0c0c" filter="url(#bl)"/>
<rect x="72.12" y="601.60" width="14.50" height="6.00" rx="2.50" fill="#0c0c0c" filter="url(#bl)"/>
<rect x="88.59" y="601.60" width="14.50" height="6.00" rx="2.50" fill="#141414" filter="url(#bl)"/>
<rect x="105.85" y="601.60" width="14.50" height="6.00" rx="2.50" fill="#101010" filter="url(#bl)"/>
<text x="21.10" y="626.90" font-size="6.9" text-anchor="middle" fill="#1a1a1a" stroke="#1a1a1a" stroke-width="0.22" >AKT</text>
<text x="142.00" y="628.60" font-size="6.7" text-anchor="start" fill="#1a1a1a" stroke="#1a1a1a" stroke-width="0.22" >60 KD</text>
<line x1="126.10" y1="626.50" x2="137.60" y2="626.50" stroke="#333" stroke-width="1.0" />
<rect x="35.50" y="616.40" width="86.70" height="16.90" fill="#808080"/>
<rect x="35.50" y="616.40" width="86.70" height="16.90" fill="none" stroke="#474747" stroke-width="0.9"/>
<rect x="38.05" y="624.20" width="14.50" height="3.00" rx="1.36" fill="#969696" filter="url(#bl)"/>
<rect x="55.47" y="623.20" width="14.50" height="5.00" rx="2.27" fill="#0a0a0a" filter="url(#bl)"/>
<rect x="72.12" y="623.20" width="14.50" height="5.00" rx="2.27" fill="#0a0a0a" filter="url(#bl)"/>
<rect x="88.59" y="623.20" width="14.50" height="5.00" rx="2.27" fill="#0f0f0f" filter="url(#bl)"/>
<rect x="105.85" y="623.20" width="14.50" height="3.00" rx="1.36" fill="#282828" filter="url(#bl)"/>
<text x="21.10" y="647.70" font-size="6.9" text-anchor="middle" fill="#1a1a1a" stroke="#1a1a1a" stroke-width="0.22" >Aha1</text>
<text x="142.00" y="649.40" font-size="6.7" text-anchor="start" fill="#1a1a1a" stroke="#1a1a1a" stroke-width="0.22" >38 KD</text>
<line x1="126.10" y1="647.50" x2="137.60" y2="647.50" stroke="#aaa" stroke-width="1.0" />
<rect x="35.30" y="638.30" width="86.50" height="16.90" fill="#adadad"/>
<rect x="35.30" y="638.30" width="86.50" height="16.90" fill="none" stroke="#474747" stroke-width="0.9"/>
<rect x="37.82" y="644.40" width="14.50" height="5.00" rx="2.27" fill="#0a0a0a" filter="url(#bl)"/>
<rect x="55.21" y="644.40" width="14.50" height="5.00" rx="2.27" fill="#0f0f0f" filter="url(#bl)"/>
<rect x="71.82" y="644.40" width="14.50" height="5.00" rx="2.27" fill="#0a0a0a" filter="url(#bl)"/>
<rect x="88.25" y="644.40" width="14.50" height="5.00" rx="2.27" fill="#0a0a0a" filter="url(#bl)"/>
<rect x="105.47" y="644.40" width="14.50" height="5.00" rx="2.27" fill="#0a0a0a" filter="url(#bl)"/>
<text x="21.10" y="669.00" font-size="6.9" text-anchor="middle" fill="#1a1a1a" stroke="#1a1a1a" stroke-width="0.22" >CDK2</text>
<text x="142.00" y="669.70" font-size="6.7" text-anchor="start" fill="#1a1a1a" stroke="#1a1a1a" stroke-width="0.22" >34 KD</text>
<line x1="126.10" y1="668.50" x2="137.60" y2="668.50" stroke="#333" stroke-width="1.0" />
<rect x="34.20" y="660.00" width="86.60" height="16.70" fill="#ababab"/>
<rect x="34.20" y="660.00" width="86.60" height="16.70" fill="none" stroke="#474747" stroke-width="0.9"/>
<rect x="36.74" y="666.90" width="14.50" height="3.00" rx="1.36" fill="#1e1e1e" filter="url(#bl)"/>
<rect x="54.14" y="666.90" width="14.50" height="3.00" rx="1.36" fill="#1e1e1e" filter="url(#bl)"/>
<rect x="70.77" y="666.90" width="14.50" height="3.00" rx="1.36" fill="#282828" filter="url(#bl)"/>
<rect x="87.22" y="666.90" width="14.50" height="3.00" rx="1.36" fill="#282828" filter="url(#bl)"/>
<rect x="104.46" y="666.90" width="14.50" height="3.00" rx="1.36" fill="#787878" filter="url(#bl)"/>
<text x="21.10" y="691.70" font-size="6.9" text-anchor="middle" fill="#1a1a1a" stroke="#1a1a1a" stroke-width="0.22" >CDK4</text>
<text x="142.00" y="692.20" font-size="6.7" text-anchor="start" fill="#1a1a1a" stroke="#1a1a1a" stroke-width="0.22" >30 KD</text>
<line x1="126.10" y1="690.50" x2="137.60" y2="690.50" stroke="#333" stroke-width="1.0" />
<rect x="34.70" y="681.50" width="86.60" height="16.70" fill="#8b8b8b"/>
<rect x="34.70" y="681.50" width="86.60" height="16.70" fill="none" stroke="#474747" stroke-width="0.9"/>
<rect x="37.24" y="688.90" width="14.50" height="2.00" rx="0.91" fill="#505050" filter="url(#bl)"/>
<rect x="54.64" y="687.90" width="14.50" height="4.00" rx="1.82" fill="#0a0a0a" filter="url(#bl)"/>
<rect x="71.27" y="687.90" width="14.50" height="4.00" rx="1.82" fill="#0f0f0f" filter="url(#bl)"/>
<rect x="87.72" y="687.90" width="14.50" height="4.00" rx="1.82" fill="#0f0f0f" filter="url(#bl)"/>
<rect x="104.96" y="688.80" width="14.50" height="2.20" rx="1.00" fill="#6e6e6e" filter="url(#bl)"/>
<text x="21.10" y="713.30" font-size="6.9" text-anchor="middle" fill="#1a1a1a" stroke="#1a1a1a" stroke-width="0.22" >GAPDH</text>
<text x="143.70" y="717.90" font-size="6.7" text-anchor="start" fill="#1a1a1a" stroke="#1a1a1a" stroke-width="0.22" >37 KD</text>
<line x1="126.10" y1="715.50" x2="137.60" y2="715.50" stroke="#333" stroke-width="1.0" />
<rect x="35.10" y="703.50" width="86.40" height="16.90" fill="#7a7a7a"/>
<rect x="35.10" y="703.50" width="86.40" height="16.90" fill="none" stroke="#474747" stroke-width="0.9"/>
<rect x="40.61" y="708.85" width="13.50" height="4.50" rx="2.05" fill="#0a0a0a" filter="url(#bl)"/>
<rect x="55.98" y="708.85" width="14.50" height="4.50" rx="2.05" fill="#0a0a0a" filter="url(#bl)"/>
<rect x="71.57" y="708.85" width="14.50" height="4.50" rx="2.05" fill="#0f0f0f" filter="url(#bl)"/>
<rect x="87.98" y="708.85" width="14.50" height="4.50" rx="2.05" fill="#0f0f0f" filter="url(#bl)"/>
<rect x="104.93" y="708.85" width="15.00" height="4.50" rx="2.05" fill="#0f0f0f" filter="url(#bl)"/>
<text x="235.30" y="531.60" font-size="7" text-anchor="start" fill="#1a1a1a" stroke="#1a1a1a" stroke-width="0.22" textLength="50.0">Benzbromarone</text>
<text x="251.60" y="539.50" font-size="7" text-anchor="start" fill="#1a1a1a" stroke="#1a1a1a" stroke-width="0.22" textLength="17.1">(μM)</text>
<text x="191.60" y="541.60" font-size="6.6" text-anchor="start" fill="#1a1a1a" stroke="#1a1a1a" stroke-width="0.22" textLength="39.7">NVP-AUY922</text>
<line x1="234.00" y1="541.00" x2="285.00" y2="541.00" stroke="#9a9a9a" stroke-width="0.7" />
<text x="204.00" y="548.70" font-size="6.8" text-anchor="start" fill="#1a1a1a" stroke="#1a1a1a" stroke-width="0.22" textLength="14.7">1 μM</text>
<text x="235.80" y="548.70" font-size="6.8" text-anchor="start" fill="#1a1a1a" stroke="#1a1a1a" stroke-width="0.22" >0</text>
<text x="248.00" y="548.70" font-size="6.8" text-anchor="start" fill="#1a1a1a" stroke="#1a1a1a" stroke-width="0.22" >20</text>
<text x="262.00" y="548.70" font-size="6.8" text-anchor="start" fill="#1a1a1a" stroke="#1a1a1a" stroke-width="0.22" >40</text>
<text x="277.40" y="548.70" font-size="6.8" text-anchor="start" fill="#1a1a1a" stroke="#1a1a1a" stroke-width="0.22" >80</text>
<text x="235.80" y="734.60" font-size="8" text-anchor="start" fill="#1a1a1a" stroke="#1a1a1a" stroke-width="0.22" textLength="22.2">HT-29</text>
<text x="189.70" y="562.90" font-size="6.9" text-anchor="middle" fill="#1a1a1a" stroke="#1a1a1a" stroke-width="0.22" >Hsp90</text>
<text x="310.70" y="564.10" font-size="6.7" text-anchor="start" fill="#1a1a1a" stroke="#1a1a1a" stroke-width="0.22" >95 KD</text>
<line x1="294.10" y1="562.50" x2="305.60" y2="562.50" stroke="#333" stroke-width="1.0" />
<rect x="204.00" y="552.40" width="86.60" height="17.10" fill="#9a9a9a"/>
<rect x="204.00" y="552.40" width="86.60" height="17.10" fill="none" stroke="#474747" stroke-width="0.9"/>
<rect x="206.54" y="561.05" width="14.50" height="2.50" rx="1.14" fill="#1e1e1e" filter="url(#bl)"/>
<rect x="223.94" y="561.05" width="14.50" height="2.50" rx="1.14" fill="#232323" filter="url(#bl)"/>
<rect x="240.57" y="561.05" width="14.50" height="2.50" rx="1.14" fill="#2d2d2d" filter="url(#bl)"/>
<rect x="257.02" y="561.05" width="14.50" height="2.50" rx="1.14" fill="#232323" filter="url(#bl)"/>
<rect x="274.26" y="559.95" width="14.50" height="2.50" rx="1.14" fill="#232323" filter="url(#bl)"/>
<text x="189.70" y="584.90" font-size="6.9" text-anchor="middle" fill="#1a1a1a" stroke="#1a1a1a" stroke-width="0.22" >Hsp70</text>
<text x="310.70" y="586.60" font-size="6.7" text-anchor="start" fill="#1a1a1a" stroke="#1a1a1a" stroke-width="0.22" >72 KD</text>
<line x1="294.10" y1="584.50" x2="305.60" y2="584.50" stroke="#333" stroke-width="1.0" />
<rect x="204.00" y="573.40" width="86.60" height="16.90" fill="#8b8b8b"/>
<rect x="204.00" y="573.40" width="86.60" height="16.90" fill="none" stroke="#474747" stroke-width="0.9"/>
<rect x="206.54" y="580.45" width="14.50" height="4.50" rx="2.05" fill="#0a0a0a" filter="url(#bl)"/>
<rect x="223.94" y="580.65" width="14.50" height="3.50" rx="1.59" fill="#141414" filter="url(#bl)"/>
<rect x="240.57" y="580.65" width="14.50" height="3.50" rx="1.59" fill="#141414" filter="url(#bl)"/>
<rect x="257.02" y="580.65" width="14.50" height="3.50" rx="1.59" fill="#141414" filter="url(#bl)"/>
<rect x="274.26" y="579.65" width="14.50" height="2.50" rx="1.14" fill="#1e1e1e" filter="url(#bl)"/>
<text x="189.70" y="606.60" font-size="6.9" text-anchor="middle" fill="#1a1a1a" stroke="#1a1a1a" stroke-width="0.22" >HSF1</text>
<text x="310.70" y="605.40" font-size="6.7" text-anchor="start" fill="#1a1a1a" stroke="#1a1a1a" stroke-width="0.22" >82 KD</text>
<line x1="294.10" y1="603.50" x2="305.60" y2="603.50" stroke="#333" stroke-width="1.0" />
<rect x="204.00" y="595.20" width="86.60" height="16.60" fill="#686868"/>
<rect x="204.00" y="595.20" width="86.60" height="16.60" fill="none" stroke="#474747" stroke-width="0.9"/>
<rect x="206.54" y="602.15" width="14.50" height="4.50" rx="2.05" fill="#0a0a0a" filter="url(#bl)"/>
<rect x="223.94" y="602.15" width="14.50" height="4.50" rx="2.05" fill="#0f0f0f" filter="url(#bl)"/>
<rect x="240.57" y="602.15" width="14.50" height="4.50" rx="2.05" fill="#0f0f0f" filter="url(#bl)"/>
<rect x="257.02" y="602.15" width="14.50" height="4.50" rx="2.05" fill="#0a0a0a" filter="url(#bl)"/>
<rect x="274.26" y="602.15" width="14.50" height="4.50" rx="2.05" fill="#3c3c3c" filter="url(#bl)"/>
<text x="189.70" y="626.90" font-size="6.9" text-anchor="middle" fill="#1a1a1a" stroke="#1a1a1a" stroke-width="0.22" >AKT</text>
<text x="310.70" y="628.60" font-size="6.7" text-anchor="start" fill="#1a1a1a" stroke="#1a1a1a" stroke-width="0.22" >60 KD</text>
<line x1="294.10" y1="626.50" x2="305.60" y2="626.50" stroke="#333" stroke-width="1.0" />
<rect x="204.00" y="616.40" width="86.60" height="16.90" fill="#bababa"/>
<rect x="204.00" y="616.40" width="86.60" height="16.90" fill="none" stroke="#474747" stroke-width="0.9"/>
<rect x="206.54" y="623.90" width="14.50" height="3.00" rx="1.36" fill="#141414" filter="url(#bl)"/>
<rect x="223.94" y="623.90" width="14.50" height="3.00" rx="1.36" fill="#191919" filter="url(#bl)"/>
<rect x="240.57" y="623.90" width="14.50" height="3.00" rx="1.36" fill="#1e1e1e" filter="url(#bl)"/>
<rect x="257.02" y="623.90" width="14.50" height="3.00" rx="1.36" fill="#282828" filter="url(#bl)"/>
<rect x="274.26" y="623.90" width="14.50" height="3.00" rx="1.36" fill="#646464" filter="url(#bl)"/>
<rect x="206.54" y="629.05" width="14.50" height="1.50" rx="0.68" fill="#969696" filter="url(#bl)"/>
<rect x="223.94" y="629.05" width="14.50" height="1.50" rx="0.68" fill="#969696" filter="url(#bl)"/>
<rect x="240.57" y="629.05" width="14.50" height="1.50" rx="0.68" fill="#969696" filter="url(#bl)"/>
<rect x="257.02" y="629.05" width="14.50" height="1.50" rx="0.68" fill="#a0a0a0" filter="url(#bl)"/>
<rect x="274.26" y="629.05" width="14.50" height="1.50" rx="0.68" fill="#aaaaaa" filter="url(#bl)"/>
<text x="189.70" y="647.70" font-size="6.9" text-anchor="middle" fill="#1a1a1a" stroke="#1a1a1a" stroke-width="0.22" >Aha1</text>
<text x="310.70" y="649.40" font-size="6.7" text-anchor="start" fill="#1a1a1a" stroke="#1a1a1a" stroke-width="0.22" >38 KD</text>
<line x1="294.10" y1="647.50" x2="305.60" y2="647.50" stroke="#333" stroke-width="1.0" />
<rect x="203.30" y="638.30" width="86.50" height="16.90" fill="#929292"/>
<rect x="203.30" y="638.30" width="86.50" height="16.90" fill="none" stroke="#474747" stroke-width="0.9"/>
<rect x="205.82" y="648.10" width="14.50" height="3.00" rx="1.36" fill="#141414" filter="url(#bl)"/>
<rect x="223.21" y="648.10" width="14.50" height="3.00" rx="1.36" fill="#191919" filter="url(#bl)"/>
<rect x="239.82" y="648.10" width="14.50" height="3.00" rx="1.36" fill="#191919" filter="url(#bl)"/>
<rect x="256.25" y="648.10" width="14.50" height="3.00" rx="1.36" fill="#191919" filter="url(#bl)"/>
<rect x="273.47" y="646.80" width="14.50" height="3.00" rx="1.36" fill="#1e1e1e" filter="url(#bl)"/>
<text x="189.70" y="669.00" font-size="6.9" text-anchor="middle" fill="#1a1a1a" stroke="#1a1a1a" stroke-width="0.22" >CDK2</text>
<text x="310.70" y="669.70" font-size="6.7" text-anchor="start" fill="#1a1a1a" stroke="#1a1a1a" stroke-width="0.22" >34 KD</text>
<line x1="294.10" y1="668.50" x2="305.60" y2="668.50" stroke="#333" stroke-width="1.0" />
<rect x="203.30" y="660.00" width="86.50" height="16.70" fill="#828282"/>
<rect x="203.30" y="660.00" width="86.50" height="16.70" fill="none" stroke="#474747" stroke-width="0.9"/>
<rect x="205.82" y="664.50" width="14.50" height="5.00" rx="2.27" fill="#050505" filter="url(#bl)"/>
<rect x="223.21" y="665.25" width="14.50" height="3.50" rx="1.59" fill="#1e1e1e" filter="url(#bl)"/>
<rect x="239.82" y="664.50" width="14.50" height="5.00" rx="2.27" fill="#050505" filter="url(#bl)"/>
<rect x="256.25" y="664.50" width="14.50" height="5.00" rx="2.27" fill="#050505" filter="url(#bl)"/>
<rect x="273.47" y="665.25" width="14.50" height="3.50" rx="1.59" fill="#5a5a5a" filter="url(#bl)"/>
<text x="189.70" y="691.70" font-size="6.9" text-anchor="middle" fill="#1a1a1a" stroke="#1a1a1a" stroke-width="0.22" >CDK4</text>
<text x="310.70" y="692.20" font-size="6.7" text-anchor="start" fill="#1a1a1a" stroke="#1a1a1a" stroke-width="0.22" >30 KD</text>
<line x1="294.10" y1="690.50" x2="305.60" y2="690.50" stroke="#333" stroke-width="1.0" />
<rect x="203.30" y="681.50" width="86.50" height="16.70" fill="#a0a0a0"/>
<rect x="203.30" y="681.50" width="86.50" height="16.70" fill="none" stroke="#474747" stroke-width="0.9"/>
<rect x="205.82" y="687.85" width="14.50" height="3.50" rx="1.59" fill="#0f0f0f" filter="url(#bl)"/>
<rect x="223.21" y="687.85" width="14.50" height="3.50" rx="1.59" fill="#141414" filter="url(#bl)"/>
<rect x="239.82" y="687.85" width="14.50" height="3.50" rx="1.59" fill="#0f0f0f" filter="url(#bl)"/>
<rect x="256.25" y="687.85" width="14.50" height="3.50" rx="1.59" fill="#0f0f0f" filter="url(#bl)"/>
<rect x="273.47" y="687.85" width="14.50" height="3.50" rx="1.59" fill="#a5a5a5" filter="url(#bl)"/>
<text x="189.70" y="713.30" font-size="6.9" text-anchor="middle" fill="#1a1a1a" stroke="#1a1a1a" stroke-width="0.22" >GAPDH</text>
<text x="311.70" y="717.90" font-size="6.7" text-anchor="start" fill="#1a1a1a" stroke="#1a1a1a" stroke-width="0.22" >37 KD</text>
<line x1="294.10" y1="715.50" x2="305.60" y2="715.50" stroke="#333" stroke-width="1.0" />
<rect x="203.30" y="703.50" width="86.50" height="16.90" fill="#b0b0b0"/>
<rect x="203.30" y="703.50" width="86.50" height="16.90" fill="none" stroke="#474747" stroke-width="0.9"/>
<rect x="205.82" y="709.80" width="14.50" height="5.00" rx="2.27" fill="#0a0a0a" filter="url(#bl)"/>
<rect x="223.21" y="709.80" width="14.50" height="5.00" rx="2.27" fill="#0a0a0a" filter="url(#bl)"/>
<rect x="239.82" y="709.80" width="14.50" height="5.00" rx="2.27" fill="#0a0a0a" filter="url(#bl)"/>
<rect x="256.25" y="709.80" width="14.50" height="5.00" rx="2.27" fill="#0a0a0a" filter="url(#bl)"/>
<rect x="273.47" y="709.80" width="14.50" height="5.00" rx="2.27" fill="#0a0a0a" filter="url(#bl)"/>
<text x="398.40" y="25.80" font-size="8.0" text-anchor="start" fill="#1a1a1a" stroke="#1a1a1a" stroke-width="0.22" >LNCaP</text>
<line x1="395.80" y1="28.90" x2="395.80" y2="111.30" stroke="#222" stroke-width="0.9" />
<line x1="395.80" y1="111.30" x2="684.50" y2="111.30" stroke="#222" stroke-width="0.9" />
<line x1="393.20" y1="111.30" x2="395.80" y2="111.30" stroke="#333" stroke-width="0.7" />
<text x="391.80" y="112.95" font-size="4.7" text-anchor="end" fill="#333" stroke="#333" stroke-width="0.22" >0.0</text>
<line x1="393.20" y1="84.00" x2="395.80" y2="84.00" stroke="#333" stroke-width="0.7" />
<text x="391.80" y="85.65" font-size="4.7" text-anchor="end" fill="#333" stroke="#333" stroke-width="0.22" >0.6</text>
<line x1="393.20" y1="56.70" x2="395.80" y2="56.70" stroke="#333" stroke-width="0.7" />
<text x="391.80" y="58.35" font-size="4.7" text-anchor="end" fill="#333" stroke="#333" stroke-width="0.22" >1.2</text>
<line x1="393.20" y1="29.40" x2="395.80" y2="29.40" stroke="#333" stroke-width="0.7" />
<text x="391.80" y="31.05" font-size="4.7" text-anchor="end" fill="#333" stroke="#333" stroke-width="0.22" >1.8</text>
<text x="0.00" y="0.00" font-size="6.33" text-anchor="middle" fill="#1a1a1a" stroke="#1a1a1a" stroke-width="0.22" transform="translate(380.7 71.2) rotate(-90)">Relative Protein Expression</text>
<line x1="414.00" y1="111.30" x2="414.00" y2="114.30" stroke="#333" stroke-width="0.7" />
<text x="414.00" y="120.60" font-size="5.3" text-anchor="middle" fill="#1a1a1a" stroke="#1a1a1a" stroke-width="0.22" >Hsp90</text>
<rect x="398.97" y="61.25" width="4.58" height="50.05" fill="#fff" stroke="#3f7d45" stroke-width="0.8"/>
<line x1="401.26" y1="38.50" x2="401.26" y2="84.00" stroke="#3f7d45" stroke-width="0.7" />
<line x1="399.96" y1="38.50" x2="402.56" y2="38.50" stroke="#3f7d45" stroke-width="0.7" />
<line x1="399.96" y1="84.00" x2="402.56" y2="84.00" stroke="#3f7d45" stroke-width="0.7" />
<circle cx="401.26" cy="73.76" r="0.75" fill="#2b6a33"/>
<circle cx="401.26" cy="57.84" r="0.75" fill="#2b6a33"/>
<circle cx="401.26" cy="45.32" r="0.75" fill="#2b6a33"/>
<rect x="405.34" y="77.17" width="4.58" height="34.12" fill="#fff" stroke="#d8473d" stroke-width="0.8"/>
<line x1="407.63" y1="64.89" x2="407.63" y2="89.46" stroke="#d8473d" stroke-width="0.7" />
<line x1="406.33" y1="64.89" x2="408.93" y2="64.89" stroke="#d8473d" stroke-width="0.7" />
<line x1="406.33" y1="89.46" x2="408.93" y2="89.46" stroke="#d8473d" stroke-width="0.7" />
<circle cx="407.63" cy="83.93" r="0.75" fill="#c7372e"/>
<circle cx="407.63" cy="75.33" r="0.75" fill="#c7372e"/>
<circle cx="407.63" cy="68.58" r="0.75" fill="#c7372e"/>
<rect x="411.71" y="71.72" width="4.58" height="39.58" fill="#fff" stroke="#8e97bd" stroke-width="0.8"/>
<line x1="414.00" y1="58.06" x2="414.00" y2="85.36" stroke="#8e97bd" stroke-width="0.7" />
<line x1="412.70" y1="58.06" x2="415.30" y2="58.06" stroke="#8e97bd" stroke-width="0.7" />
<line x1="412.70" y1="85.36" x2="415.30" y2="85.36" stroke="#8e97bd" stroke-width="0.7" />
<circle cx="414.00" cy="79.22" r="0.75" fill="#6f79a6"/>
<circle cx="414.00" cy="69.67" r="0.75" fill="#6f79a6"/>
<circle cx="414.00" cy="62.16" r="0.75" fill="#6f79a6"/>
<rect x="418.08" y="68.98" width="4.58" height="42.32" fill="#fff" stroke="#4865ae" stroke-width="0.8"/>
<line x1="420.37" y1="53.97" x2="420.37" y2="84.00" stroke="#4865ae" stroke-width="0.7" />
<line x1="419.07" y1="53.97" x2="421.67" y2="53.97" stroke="#4865ae" stroke-width="0.7" />
<line x1="419.07" y1="84.00" x2="421.67" y2="84.00" stroke="#4865ae" stroke-width="0.7" />
<circle cx="420.37" cy="77.24" r="0.75" fill="#2f4f9e"/>
<circle cx="420.37" cy="66.73" r="0.75" fill="#2f4f9e"/>
<circle cx="420.37" cy="58.47" r="0.75" fill="#2f4f9e"/>
<rect x="424.46" y="84.91" width="4.58" height="26.39" fill="#fff" stroke="#56c3e4" stroke-width="0.8"/>
<line x1="426.74" y1="75.36" x2="426.74" y2="94.47" stroke="#56c3e4" stroke-width="0.7" />
<line x1="425.44" y1="75.36" x2="428.04" y2="75.36" stroke="#56c3e4" stroke-width="0.7" />
<line x1="425.44" y1="94.47" x2="428.04" y2="94.47" stroke="#56c3e4" stroke-width="0.7" />
<circle cx="426.74" cy="90.17" r="0.75" fill="#3fb0d8"/>
<circle cx="426.74" cy="83.48" r="0.75" fill="#3fb0d8"/>
<circle cx="426.74" cy="78.22" r="0.75" fill="#3fb0d8"/>
<line x1="449.80" y1="111.30" x2="449.80" y2="114.30" stroke="#333" stroke-width="0.7" />
<text x="449.80" y="120.60" font-size="5.3" text-anchor="middle" fill="#1a1a1a" stroke="#1a1a1a" stroke-width="0.22" >Hsp70</text>
<rect x="434.77" y="54.42" width="4.58" height="56.88" fill="#fff" stroke="#3f7d45" stroke-width="0.8"/>
<line x1="437.06" y1="38.50" x2="437.06" y2="70.35" stroke="#3f7d45" stroke-width="0.7" />
<line x1="435.76" y1="38.50" x2="438.36" y2="38.50" stroke="#3f7d45" stroke-width="0.7" />
<line x1="435.76" y1="70.35" x2="438.36" y2="70.35" stroke="#3f7d45" stroke-width="0.7" />
<circle cx="437.06" cy="63.18" r="0.75" fill="#2b6a33"/>
<circle cx="437.06" cy="52.04" r="0.75" fill="#2b6a33"/>
<circle cx="437.06" cy="43.28" r="0.75" fill="#2b6a33"/>
<rect x="441.14" y="82.41" width="4.58" height="28.89" fill="#fff" stroke="#d8473d" stroke-width="0.8"/>
<line x1="443.43" y1="76.95" x2="443.43" y2="87.87" stroke="#d8473d" stroke-width="0.7" />
<line x1="442.13" y1="76.95" x2="444.73" y2="76.95" stroke="#d8473d" stroke-width="0.7" />
<line x1="442.13" y1="87.87" x2="444.73" y2="87.87" stroke="#d8473d" stroke-width="0.7" />
<circle cx="443.43" cy="85.41" r="0.75" fill="#c7372e"/>
<circle cx="443.43" cy="81.59" r="0.75" fill="#c7372e"/>
<circle cx="443.43" cy="78.59" r="0.75" fill="#c7372e"/>
<rect x="447.51" y="81.95" width="4.58" height="29.35" fill="#fff" stroke="#8e97bd" stroke-width="0.8"/>
<line x1="449.80" y1="76.49" x2="449.80" y2="87.41" stroke="#8e97bd" stroke-width="0.7" />
<line x1="448.50" y1="76.49" x2="451.10" y2="76.49" stroke="#8e97bd" stroke-width="0.7" />
<line x1="448.50" y1="87.41" x2="451.10" y2="87.41" stroke="#8e97bd" stroke-width="0.7" />
<circle cx="449.80" cy="84.96" r="0.75" fill="#6f79a6"/>
<circle cx="449.80" cy="81.13" r="0.75" fill="#6f79a6"/>
<circle cx="449.80" cy="78.13" r="0.75" fill="#6f79a6"/>
<rect x="453.88" y="86.73" width="4.58" height="24.57" fill="#fff" stroke="#4865ae" stroke-width="0.8"/>
<line x1="456.17" y1="80.13" x2="456.17" y2="93.33" stroke="#4865ae" stroke-width="0.7" />
<line x1="454.87" y1="80.13" x2="457.47" y2="80.13" stroke="#4865ae" stroke-width="0.7" />
<line x1="454.87" y1="93.33" x2="457.47" y2="93.33" stroke="#4865ae" stroke-width="0.7" />
<circle cx="456.17" cy="90.36" r="0.75" fill="#2f4f9e"/>
<circle cx="456.17" cy="85.74" r="0.75" fill="#2f4f9e"/>
<circle cx="456.17" cy="82.11" r="0.75" fill="#2f4f9e"/>
<rect x="460.26" y="84.45" width="4.58" height="26.84" fill="#fff" stroke="#56c3e4" stroke-width="0.8"/>
<line x1="462.54" y1="67.16" x2="462.54" y2="101.75" stroke="#56c3e4" stroke-width="0.7" />
<line x1="461.24" y1="67.16" x2="463.84" y2="67.16" stroke="#56c3e4" stroke-width="0.7" />
<line x1="461.24" y1="101.75" x2="463.84" y2="101.75" stroke="#56c3e4" stroke-width="0.7" />
<circle cx="462.54" cy="93.96" r="0.75" fill="#3fb0d8"/>
<circle cx="462.54" cy="81.86" r="0.75" fill="#3fb0d8"/>
<circle cx="462.54" cy="72.35" r="0.75" fill="#3fb0d8"/>
<line x1="485.60" y1="111.30" x2="485.60" y2="114.30" stroke="#333" stroke-width="0.7" />
<text x="485.60" y="120.60" font-size="5.3" text-anchor="middle" fill="#1a1a1a" stroke="#1a1a1a" stroke-width="0.22" >HSF1</text>
<rect x="470.57" y="74.22" width="4.58" height="37.08" fill="#fff" stroke="#3f7d45" stroke-width="0.8"/>
<line x1="472.86" y1="52.38" x2="472.86" y2="96.06" stroke="#3f7d45" stroke-width="0.7" />
<line x1="471.56" y1="52.38" x2="474.16" y2="52.38" stroke="#3f7d45" stroke-width="0.7" />
<line x1="471.56" y1="96.06" x2="474.16" y2="96.06" stroke="#3f7d45" stroke-width="0.7" />
<circle cx="472.86" cy="86.23" r="0.75" fill="#2b6a33"/>
<circle cx="472.86" cy="70.94" r="0.75" fill="#2b6a33"/>
<circle cx="472.86" cy="58.93" r="0.75" fill="#2b6a33"/>
<rect x="476.94" y="68.07" width="4.58" height="43.23" fill="#fff" stroke="#d8473d" stroke-width="0.8"/>
<line x1="479.23" y1="63.07" x2="479.23" y2="73.08" stroke="#d8473d" stroke-width="0.7" />
<line x1="477.93" y1="63.07" x2="480.53" y2="63.07" stroke="#d8473d" stroke-width="0.7" />
<line x1="477.93" y1="73.08" x2="480.53" y2="73.08" stroke="#d8473d" stroke-width="0.7" />
<circle cx="479.23" cy="70.83" r="0.75" fill="#c7372e"/>
<circle cx="479.23" cy="67.32" r="0.75" fill="#c7372e"/>
<circle cx="479.23" cy="64.57" r="0.75" fill="#c7372e"/>
<rect x="483.31" y="60.34" width="4.58" height="50.96" fill="#fff" stroke="#8e97bd" stroke-width="0.8"/>
<line x1="485.60" y1="51.69" x2="485.60" y2="68.98" stroke="#8e97bd" stroke-width="0.7" />
<line x1="484.30" y1="51.69" x2="486.90" y2="51.69" stroke="#8e97bd" stroke-width="0.7" />
<line x1="484.30" y1="68.98" x2="486.90" y2="68.98" stroke="#8e97bd" stroke-width="0.7" />
<circle cx="485.60" cy="65.09" r="0.75" fill="#6f79a6"/>
<circle cx="485.60" cy="59.04" r="0.75" fill="#6f79a6"/>
<circle cx="485.60" cy="54.29" r="0.75" fill="#6f79a6"/>
<rect x="489.68" y="58.98" width="4.58" height="52.32" fill="#fff" stroke="#4865ae" stroke-width="0.8"/>
<line x1="491.97" y1="53.51" x2="491.97" y2="64.44" stroke="#4865ae" stroke-width="0.7" />
<line x1="490.67" y1="53.51" x2="493.27" y2="53.51" stroke="#4865ae" stroke-width="0.7" />
<line x1="490.67" y1="64.44" x2="493.27" y2="64.44" stroke="#4865ae" stroke-width="0.7" />
<circle cx="491.97" cy="61.98" r="0.75" fill="#2f4f9e"/>
<circle cx="491.97" cy="58.16" r="0.75" fill="#2f4f9e"/>
<circle cx="491.97" cy="55.15" r="0.75" fill="#2f4f9e"/>
<rect x="496.06" y="68.07" width="4.58" height="43.23" fill="#fff" stroke="#56c3e4" stroke-width="0.8"/>
<line x1="498.34" y1="63.52" x2="498.34" y2="72.62" stroke="#56c3e4" stroke-width="0.7" />
<line x1="497.04" y1="63.52" x2="499.64" y2="63.52" stroke="#56c3e4" stroke-width="0.7" />
<line x1="497.04" y1="72.62" x2="499.64" y2="72.62" stroke="#56c3e4" stroke-width="0.7" />
<circle cx="498.34" cy="70.58" r="0.75" fill="#3fb0d8"/>
<circle cx="498.34" cy="67.39" r="0.75" fill="#3fb0d8"/>
<circle cx="498.34" cy="64.89" r="0.75" fill="#3fb0d8"/>
<line x1="521.40" y1="111.30" x2="521.40" y2="114.30" stroke="#333" stroke-width="0.7" />
<text x="521.40" y="120.60" font-size="5.3" text-anchor="middle" fill="#1a1a1a" stroke="#1a1a1a" stroke-width="0.22" >Aha1</text>
<rect x="506.37" y="60.34" width="4.58" height="50.96" fill="#fff" stroke="#3f7d45" stroke-width="0.8"/>
<line x1="508.66" y1="44.87" x2="508.66" y2="75.81" stroke="#3f7d45" stroke-width="0.7" />
<line x1="507.36" y1="44.87" x2="509.96" y2="44.87" stroke="#3f7d45" stroke-width="0.7" />
<line x1="507.36" y1="75.81" x2="509.96" y2="75.81" stroke="#3f7d45" stroke-width="0.7" />
<circle cx="508.66" cy="68.85" r="0.75" fill="#2b6a33"/>
<circle cx="508.66" cy="58.02" r="0.75" fill="#2b6a33"/>
<circle cx="508.66" cy="49.51" r="0.75" fill="#2b6a33"/>
<rect x="512.74" y="64.89" width="4.58" height="46.41" fill="#fff" stroke="#d8473d" stroke-width="0.8"/>
<line x1="515.03" y1="56.70" x2="515.03" y2="73.08" stroke="#d8473d" stroke-width="0.7" />
<line x1="513.73" y1="56.70" x2="516.33" y2="56.70" stroke="#d8473d" stroke-width="0.7" />
<line x1="513.73" y1="73.08" x2="516.33" y2="73.08" stroke="#d8473d" stroke-width="0.7" />
<circle cx="515.03" cy="69.39" r="0.75" fill="#c7372e"/>
<circle cx="515.03" cy="63.66" r="0.75" fill="#c7372e"/>
<circle cx="515.03" cy="59.16" r="0.75" fill="#c7372e"/>
<rect x="519.11" y="73.53" width="4.58" height="37.77" fill="#fff" stroke="#8e97bd" stroke-width="0.8"/>
<line x1="521.40" y1="61.71" x2="521.40" y2="85.36" stroke="#8e97bd" stroke-width="0.7" />
<line x1="520.10" y1="61.71" x2="522.70" y2="61.71" stroke="#8e97bd" stroke-width="0.7" />
<line x1="520.10" y1="85.36" x2="522.70" y2="85.36" stroke="#8e97bd" stroke-width="0.7" />
<circle cx="521.40" cy="80.04" r="0.75" fill="#6f79a6"/>
<circle cx="521.40" cy="71.76" r="0.75" fill="#6f79a6"/>
<circle cx="521.40" cy="65.25" r="0.75" fill="#6f79a6"/>
<rect x="525.48" y="70.35" width="4.58" height="40.95" fill="#fff" stroke="#4865ae" stroke-width="0.8"/>
<line x1="527.77" y1="61.25" x2="527.77" y2="79.45" stroke="#4865ae" stroke-width="0.7" />
<line x1="526.47" y1="61.25" x2="529.07" y2="61.25" stroke="#4865ae" stroke-width="0.7" />
<line x1="526.47" y1="79.45" x2="529.07" y2="79.45" stroke="#4865ae" stroke-width="0.7" />
<circle cx="527.77" cy="75.35" r="0.75" fill="#2f4f9e"/>
<circle cx="527.77" cy="68.98" r="0.75" fill="#2f4f9e"/>
<circle cx="527.77" cy="63.98" r="0.75" fill="#2f4f9e"/>
<rect x="531.86" y="80.81" width="4.58" height="30.48" fill="#fff" stroke="#56c3e4" stroke-width="0.8"/>
<line x1="534.14" y1="76.72" x2="534.14" y2="84.91" stroke="#56c3e4" stroke-width="0.7" />
<line x1="532.84" y1="76.72" x2="535.44" y2="76.72" stroke="#56c3e4" stroke-width="0.7" />
<line x1="532.84" y1="84.91" x2="535.44" y2="84.91" stroke="#56c3e4" stroke-width="0.7" />
<circle cx="534.14" cy="83.07" r="0.75" fill="#3fb0d8"/>
<circle cx="534.14" cy="80.20" r="0.75" fill="#3fb0d8"/>
<circle cx="534.14" cy="77.95" r="0.75" fill="#3fb0d8"/>
<line x1="557.20" y1="111.30" x2="557.20" y2="114.30" stroke="#333" stroke-width="0.7" />
<text x="557.20" y="120.60" font-size="5.3" text-anchor="middle" fill="#1a1a1a" stroke="#1a1a1a" stroke-width="0.22" >AKT</text>
<rect x="542.17" y="98.11" width="4.58" height="13.19" fill="#fff" stroke="#3f7d45" stroke-width="0.8"/>
<line x1="544.46" y1="89.00" x2="544.46" y2="107.20" stroke="#3f7d45" stroke-width="0.7" />
<line x1="543.16" y1="89.00" x2="545.76" y2="89.00" stroke="#3f7d45" stroke-width="0.7" />
<line x1="543.16" y1="107.20" x2="545.76" y2="107.20" stroke="#3f7d45" stroke-width="0.7" />
<circle cx="544.46" cy="103.11" r="0.75" fill="#2b6a33"/>
<circle cx="544.46" cy="96.74" r="0.75" fill="#2b6a33"/>
<circle cx="544.46" cy="91.73" r="0.75" fill="#2b6a33"/>
<rect x="548.54" y="62.16" width="4.58" height="49.14" fill="#fff" stroke="#d8473d" stroke-width="0.8"/>
<line x1="550.83" y1="44.41" x2="550.83" y2="79.91" stroke="#d8473d" stroke-width="0.7" />
<line x1="549.53" y1="44.41" x2="552.13" y2="44.41" stroke="#d8473d" stroke-width="0.7" />
<line x1="549.53" y1="79.91" x2="552.13" y2="79.91" stroke="#d8473d" stroke-width="0.7" />
<circle cx="550.83" cy="71.92" r="0.75" fill="#c7372e"/>
<circle cx="550.83" cy="59.50" r="0.75" fill="#c7372e"/>
<circle cx="550.83" cy="49.74" r="0.75" fill="#c7372e"/>
<rect x="554.91" y="65.80" width="4.58" height="45.50" fill="#fff" stroke="#8e97bd" stroke-width="0.8"/>
<line x1="557.20" y1="56.70" x2="557.20" y2="74.90" stroke="#8e97bd" stroke-width="0.7" />
<line x1="555.90" y1="56.70" x2="558.50" y2="56.70" stroke="#8e97bd" stroke-width="0.7" />
<line x1="555.90" y1="74.90" x2="558.50" y2="74.90" stroke="#8e97bd" stroke-width="0.7" />
<circle cx="557.20" cy="70.81" r="0.75" fill="#6f79a6"/>
<circle cx="557.20" cy="64.44" r="0.75" fill="#6f79a6"/>
<circle cx="557.20" cy="59.43" r="0.75" fill="#6f79a6"/>
<rect x="561.28" y="77.17" width="4.58" height="34.12" fill="#fff" stroke="#4865ae" stroke-width="0.8"/>
<line x1="563.57" y1="64.44" x2="563.57" y2="89.91" stroke="#4865ae" stroke-width="0.7" />
<line x1="562.27" y1="64.44" x2="564.87" y2="64.44" stroke="#4865ae" stroke-width="0.7" />
<line x1="562.27" y1="89.91" x2="564.87" y2="89.91" stroke="#4865ae" stroke-width="0.7" />
<circle cx="563.57" cy="84.18" r="0.75" fill="#2f4f9e"/>
<circle cx="563.57" cy="75.26" r="0.75" fill="#2f4f9e"/>
<circle cx="563.57" cy="68.26" r="0.75" fill="#2f4f9e"/>
<rect x="567.66" y="99.92" width="4.58" height="11.38" fill="#fff" stroke="#56c3e4" stroke-width="0.8"/>
<line x1="569.94" y1="88.55" x2="569.94" y2="111.30" stroke="#56c3e4" stroke-width="0.7" />
<line x1="568.64" y1="88.55" x2="571.24" y2="88.55" stroke="#56c3e4" stroke-width="0.7" />
<line x1="568.64" y1="111.30" x2="571.24" y2="111.30" stroke="#56c3e4" stroke-width="0.7" />
<circle cx="569.94" cy="106.18" r="0.75" fill="#3fb0d8"/>
<circle cx="569.94" cy="98.22" r="0.75" fill="#3fb0d8"/>
<circle cx="569.94" cy="91.96" r="0.75" fill="#3fb0d8"/>
<line x1="593.00" y1="111.30" x2="593.00" y2="114.30" stroke="#333" stroke-width="0.7" />
<text x="593.00" y="120.60" font-size="5.3" text-anchor="middle" fill="#1a1a1a" stroke="#1a1a1a" stroke-width="0.22" >CDK2</text>
<rect x="577.97" y="72.62" width="4.58" height="38.67" fill="#fff" stroke="#3f7d45" stroke-width="0.8"/>
<line x1="580.26" y1="47.14" x2="580.26" y2="98.11" stroke="#3f7d45" stroke-width="0.7" />
<line x1="578.96" y1="47.14" x2="581.56" y2="47.14" stroke="#3f7d45" stroke-width="0.7" />
<line x1="578.96" y1="98.11" x2="581.56" y2="98.11" stroke="#3f7d45" stroke-width="0.7" />
<circle cx="580.26" cy="86.64" r="0.75" fill="#2b6a33"/>
<circle cx="580.26" cy="68.80" r="0.75" fill="#2b6a33"/>
<circle cx="580.26" cy="54.79" r="0.75" fill="#2b6a33"/>
<rect x="584.34" y="64.89" width="4.58" height="46.41" fill="#fff" stroke="#d8473d" stroke-width="0.8"/>
<line x1="586.63" y1="49.87" x2="586.63" y2="79.91" stroke="#d8473d" stroke-width="0.7" />
<line x1="585.33" y1="49.87" x2="587.93" y2="49.87" stroke="#d8473d" stroke-width="0.7" />
<line x1="585.33" y1="79.91" x2="587.93" y2="79.91" stroke="#d8473d" stroke-width="0.7" />
<circle cx="586.63" cy="73.15" r="0.75" fill="#c7372e"/>
<circle cx="586.63" cy="62.64" r="0.75" fill="#c7372e"/>
<circle cx="586.63" cy="54.38" r="0.75" fill="#c7372e"/>
<rect x="590.71" y="71.72" width="4.58" height="39.58" fill="#fff" stroke="#8e97bd" stroke-width="0.8"/>
<line x1="593.00" y1="54.88" x2="593.00" y2="88.55" stroke="#8e97bd" stroke-width="0.7" />
<line x1="591.70" y1="54.88" x2="594.30" y2="54.88" stroke="#8e97bd" stroke-width="0.7" />
<line x1="591.70" y1="88.55" x2="594.30" y2="88.55" stroke="#8e97bd" stroke-width="0.7" />
<circle cx="593.00" cy="80.97" r="0.75" fill="#6f79a6"/>
<circle cx="593.00" cy="69.19" r="0.75" fill="#6f79a6"/>
<circle cx="593.00" cy="59.93" r="0.75" fill="#6f79a6"/>
<rect x="597.08" y="81.95" width="4.58" height="29.35" fill="#fff" stroke="#4865ae" stroke-width="0.8"/>
<line x1="599.37" y1="64.66" x2="599.37" y2="99.24" stroke="#4865ae" stroke-width="0.7" />
<line x1="598.07" y1="64.66" x2="600.67" y2="64.66" stroke="#4865ae" stroke-width="0.7" />
<line x1="598.07" y1="99.24" x2="600.67" y2="99.24" stroke="#4865ae" stroke-width="0.7" />
<circle cx="599.37" cy="91.46" r="0.75" fill="#2f4f9e"/>
<circle cx="599.37" cy="79.36" r="0.75" fill="#2f4f9e"/>
<circle cx="599.37" cy="69.85" r="0.75" fill="#2f4f9e"/>
<rect x="603.46" y="102.88" width="4.58" height="8.42" fill="#fff" stroke="#56c3e4" stroke-width="0.8"/>
<line x1="605.74" y1="95.15" x2="605.74" y2="110.62" stroke="#56c3e4" stroke-width="0.7" />
<line x1="604.44" y1="95.15" x2="607.04" y2="95.15" stroke="#56c3e4" stroke-width="0.7" />
<line x1="604.44" y1="110.62" x2="607.04" y2="110.62" stroke="#56c3e4" stroke-width="0.7" />
<circle cx="605.74" cy="107.14" r="0.75" fill="#3fb0d8"/>
<circle cx="605.74" cy="101.72" r="0.75" fill="#3fb0d8"/>
<circle cx="605.74" cy="97.47" r="0.75" fill="#3fb0d8"/>
<line x1="628.80" y1="111.30" x2="628.80" y2="114.30" stroke="#333" stroke-width="0.7" />
<text x="628.80" y="120.60" font-size="5.3" text-anchor="middle" fill="#1a1a1a" stroke="#1a1a1a" stroke-width="0.22" >CDK4</text>
<rect x="613.77" y="90.37" width="4.58" height="20.93" fill="#fff" stroke="#3f7d45" stroke-width="0.8"/>
<line x1="616.06" y1="79.91" x2="616.06" y2="100.83" stroke="#3f7d45" stroke-width="0.7" />
<line x1="614.76" y1="79.91" x2="617.36" y2="79.91" stroke="#3f7d45" stroke-width="0.7" />
<line x1="614.76" y1="100.83" x2="617.36" y2="100.83" stroke="#3f7d45" stroke-width="0.7" />
<circle cx="616.06" cy="96.13" r="0.75" fill="#2b6a33"/>
<circle cx="616.06" cy="88.80" r="0.75" fill="#2b6a33"/>
<circle cx="616.06" cy="83.04" r="0.75" fill="#2b6a33"/>
<rect x="620.14" y="61.93" width="4.58" height="49.37" fill="#fff" stroke="#d8473d" stroke-width="0.8"/>
<line x1="622.43" y1="44.64" x2="622.43" y2="79.22" stroke="#d8473d" stroke-width="0.7" />
<line x1="621.13" y1="44.64" x2="623.73" y2="44.64" stroke="#d8473d" stroke-width="0.7" />
<line x1="621.13" y1="79.22" x2="623.73" y2="79.22" stroke="#d8473d" stroke-width="0.7" />
<circle cx="622.43" cy="71.44" r="0.75" fill="#c7372e"/>
<circle cx="622.43" cy="59.34" r="0.75" fill="#c7372e"/>
<circle cx="622.43" cy="49.83" r="0.75" fill="#c7372e"/>
<rect x="626.51" y="60.34" width="4.58" height="50.96" fill="#fff" stroke="#8e97bd" stroke-width="0.8"/>
<line x1="628.80" y1="42.59" x2="628.80" y2="78.08" stroke="#8e97bd" stroke-width="0.7" />
<line x1="627.50" y1="42.59" x2="630.10" y2="42.59" stroke="#8e97bd" stroke-width="0.7" />
<line x1="627.50" y1="78.08" x2="630.10" y2="78.08" stroke="#8e97bd" stroke-width="0.7" />
<circle cx="628.80" cy="70.10" r="0.75" fill="#6f79a6"/>
<circle cx="628.80" cy="57.68" r="0.75" fill="#6f79a6"/>
<circle cx="628.80" cy="47.92" r="0.75" fill="#6f79a6"/>
<rect x="632.88" y="75.35" width="4.58" height="35.95" fill="#fff" stroke="#4865ae" stroke-width="0.8"/>
<line x1="635.17" y1="65.80" x2="635.17" y2="84.91" stroke="#4865ae" stroke-width="0.7" />
<line x1="633.87" y1="65.80" x2="636.47" y2="65.80" stroke="#4865ae" stroke-width="0.7" />
<line x1="633.87" y1="84.91" x2="636.47" y2="84.91" stroke="#4865ae" stroke-width="0.7" />
<circle cx="635.17" cy="80.61" r="0.75" fill="#2f4f9e"/>
<circle cx="635.17" cy="73.92" r="0.75" fill="#2f4f9e"/>
<circle cx="635.17" cy="68.67" r="0.75" fill="#2f4f9e"/>
<rect x="639.26" y="94.69" width="4.58" height="16.61" fill="#fff" stroke="#56c3e4" stroke-width="0.8"/>
<line x1="641.54" y1="87.87" x2="641.54" y2="101.52" stroke="#56c3e4" stroke-width="0.7" />
<line x1="640.24" y1="87.87" x2="642.84" y2="87.87" stroke="#56c3e4" stroke-width="0.7" />
<line x1="640.24" y1="101.52" x2="642.84" y2="101.52" stroke="#56c3e4" stroke-width="0.7" />
<circle cx="641.54" cy="98.45" r="0.75" fill="#3fb0d8"/>
<circle cx="641.54" cy="93.67" r="0.75" fill="#3fb0d8"/>
<circle cx="641.54" cy="89.91" r="0.75" fill="#3fb0d8"/>
<line x1="664.60" y1="111.30" x2="664.60" y2="114.30" stroke="#333" stroke-width="0.7" />
<text x="664.60" y="120.60" font-size="5.3" text-anchor="middle" fill="#1a1a1a" stroke="#1a1a1a" stroke-width="0.22" >AR</text>
<rect x="649.57" y="83.09" width="4.58" height="28.21" fill="#fff" stroke="#3f7d45" stroke-width="0.8"/>
<line x1="651.86" y1="60.80" x2="651.86" y2="105.38" stroke="#3f7d45" stroke-width="0.7" />
<line x1="650.56" y1="60.80" x2="653.16" y2="60.80" stroke="#3f7d45" stroke-width="0.7" />
<line x1="650.56" y1="105.38" x2="653.16" y2="105.38" stroke="#3f7d45" stroke-width="0.7" />
<circle cx="651.86" cy="95.35" r="0.75" fill="#2b6a33"/>
<circle cx="651.86" cy="79.75" r="0.75" fill="#2b6a33"/>
<circle cx="651.86" cy="67.48" r="0.75" fill="#2b6a33"/>
<rect x="655.94" y="63.07" width="4.58" height="48.23" fill="#fff" stroke="#d8473d" stroke-width="0.8"/>
<line x1="658.23" y1="47.14" x2="658.23" y2="78.99" stroke="#d8473d" stroke-width="0.7" />
<line x1="656.93" y1="47.14" x2="659.53" y2="47.14" stroke="#d8473d" stroke-width="0.7" />
<line x1="656.93" y1="78.99" x2="659.53" y2="78.99" stroke="#d8473d" stroke-width="0.7" />
<circle cx="658.23" cy="71.83" r="0.75" fill="#c7372e"/>
<circle cx="658.23" cy="60.68" r="0.75" fill="#c7372e"/>
<circle cx="658.23" cy="51.92" r="0.75" fill="#c7372e"/>
<rect x="662.31" y="67.16" width="4.58" height="44.14" fill="#fff" stroke="#8e97bd" stroke-width="0.8"/>
<line x1="664.60" y1="54.42" x2="664.60" y2="79.91" stroke="#8e97bd" stroke-width="0.7" />
<line x1="663.30" y1="54.42" x2="665.90" y2="54.42" stroke="#8e97bd" stroke-width="0.7" />
<line x1="663.30" y1="79.91" x2="665.90" y2="79.91" stroke="#8e97bd" stroke-width="0.7" />
<circle cx="664.60" cy="74.17" r="0.75" fill="#6f79a6"/>
<circle cx="664.60" cy="65.25" r="0.75" fill="#6f79a6"/>
<circle cx="664.60" cy="58.25" r="0.75" fill="#6f79a6"/>
<rect x="668.68" y="71.72" width="4.58" height="39.58" fill="#fff" stroke="#4865ae" stroke-width="0.8"/>
<line x1="670.97" y1="49.42" x2="670.97" y2="94.01" stroke="#4865ae" stroke-width="0.7" />
<line x1="669.67" y1="49.42" x2="672.27" y2="49.42" stroke="#4865ae" stroke-width="0.7" />
<line x1="669.67" y1="94.01" x2="672.27" y2="94.01" stroke="#4865ae" stroke-width="0.7" />
<circle cx="670.97" cy="83.98" r="0.75" fill="#2f4f9e"/>
<circle cx="670.97" cy="68.37" r="0.75" fill="#2f4f9e"/>
<circle cx="670.97" cy="56.11" r="0.75" fill="#2f4f9e"/>
<rect x="675.06" y="97.19" width="4.58" height="14.11" fill="#fff" stroke="#56c3e4" stroke-width="0.8"/>
<line x1="677.34" y1="82.18" x2="677.34" y2="111.30" stroke="#56c3e4" stroke-width="0.7" />
<line x1="676.04" y1="82.18" x2="678.64" y2="82.18" stroke="#56c3e4" stroke-width="0.7" />
<line x1="676.04" y1="111.30" x2="678.64" y2="111.30" stroke="#56c3e4" stroke-width="0.7" />
<circle cx="677.34" cy="105.45" r="0.75" fill="#3fb0d8"/>
<circle cx="677.34" cy="94.94" r="0.75" fill="#3fb0d8"/>
<circle cx="677.34" cy="86.68" r="0.75" fill="#3fb0d8"/>
<text x="437.06" y="37.70" font-size="6.0" text-anchor="middle" fill="#222" stroke="#222" stroke-width="0.22" letter-spacing="0.15">*</text>
<text x="491.97" y="52.71" font-size="6.0" text-anchor="middle" fill="#222" stroke="#222" stroke-width="0.22" letter-spacing="0.15">*</text>
<text x="534.14" y="75.92" font-size="6.0" text-anchor="middle" fill="#222" stroke="#222" stroke-width="0.22" letter-spacing="0.15">*</text>
<text x="544.46" y="88.20" font-size="6.0" text-anchor="middle" fill="#222" stroke="#222" stroke-width="0.22" letter-spacing="0.15">*</text>
<text x="569.94" y="87.75" font-size="6.0" text-anchor="middle" fill="#222" stroke="#222" stroke-width="0.22" letter-spacing="0.15">*</text>
<text x="605.74" y="94.35" font-size="6.0" text-anchor="middle" fill="#222" stroke="#222" stroke-width="0.22" letter-spacing="0.15">*</text>
<text x="616.06" y="79.11" font-size="6.0" text-anchor="middle" fill="#222" stroke="#222" stroke-width="0.22" letter-spacing="0.15">*</text>
<text x="641.54" y="87.07" font-size="6.0" text-anchor="middle" fill="#222" stroke="#222" stroke-width="0.22" letter-spacing="0.15">*</text>
<text x="677.34" y="81.38" font-size="6.0" text-anchor="middle" fill="#222" stroke="#222" stroke-width="0.22" letter-spacing="0.15">*</text>
<rect x="605.90" y="19.40" width="3.5" height="3.5" fill="#d4473d"/>
<text x="611.60" y="22.90" font-size="5.0" text-anchor="start" fill="#222" stroke="#222" stroke-width="0.12" >DMSO</text>
<circle cx="632.60" cy="21.15" r="1.8" fill="#24602c"/>
<text x="637.00" y="22.90" font-size="5.0" text-anchor="start" fill="#222" stroke="#222" stroke-width="0.12" >NVP-AUY922</text>
<path d="M605.90 30.00 L607.60 26.40 L609.30 30.00Z" fill="#5266a8"/>
<text x="611.60" y="29.80" font-size="5.0" text-anchor="start" fill="#222" stroke="#222" stroke-width="0.12" >20 μM</text>
<path d="M630.80 26.40 L634.40 26.40 L632.60 30.00Z" fill="#233f96"/>
<text x="636.00" y="29.80" font-size="5.0" text-anchor="start" fill="#222" stroke="#222" stroke-width="0.12" >40 μM</text>
<path d="M655.00 26.20 L656.90 28.20 L655.00 30.20 L653.10 28.20Z" fill="#55c2e8"/>
<text x="659.00" y="29.80" font-size="5.0" text-anchor="start" fill="#222" stroke="#222" stroke-width="0.12" >80 μM</text>
<text x="398.60" y="141.70" font-size="8.0" text-anchor="start" fill="#1a1a1a" stroke="#1a1a1a" stroke-width="0.22" >MNNG/HOS Cl #5</text>
<line x1="395.80" y1="146.70" x2="395.80" y2="229.20" stroke="#222" stroke-width="0.9" />
<line x1="395.80" y1="229.20" x2="684.50" y2="229.20" stroke="#222" stroke-width="0.9" />
<line x1="393.20" y1="229.20" x2="395.80" y2="229.20" stroke="#333" stroke-width="0.7" />
<text x="391.80" y="230.85" font-size="4.7" text-anchor="end" fill="#333" stroke="#333" stroke-width="0.22" >0.0</text>
<line x1="393.20" y1="201.87" x2="395.80" y2="201.87" stroke="#333" stroke-width="0.7" />
<text x="391.80" y="203.52" font-size="4.7" text-anchor="end" fill="#333" stroke="#333" stroke-width="0.22" >0.5</text>
<line x1="393.20" y1="174.53" x2="395.80" y2="174.53" stroke="#333" stroke-width="0.7" />
<text x="391.80" y="176.18" font-size="4.7" text-anchor="end" fill="#333" stroke="#333" stroke-width="0.22" >1.0</text>
<line x1="393.20" y1="147.20" x2="395.80" y2="147.20" stroke="#333" stroke-width="0.7" />
<text x="391.80" y="148.85" font-size="4.7" text-anchor="end" fill="#333" stroke="#333" stroke-width="0.22" >1.5</text>
<text x="0.00" y="0.00" font-size="6.33" text-anchor="middle" fill="#1a1a1a" stroke="#1a1a1a" stroke-width="0.22" transform="translate(380.7 184.5) rotate(-90)">Relative Protein Expression</text>
<line x1="416.48" y1="229.20" x2="416.48" y2="232.20" stroke="#333" stroke-width="0.7" />
<text x="416.48" y="238.60" font-size="5.3" text-anchor="middle" fill="#1a1a1a" stroke="#1a1a1a" stroke-width="0.22" >Hsp90</text>
<rect x="399.30" y="158.13" width="5.33" height="71.07" fill="#fff" stroke="#3f7d45" stroke-width="0.8"/>
<line x1="401.97" y1="151.57" x2="401.97" y2="164.69" stroke="#3f7d45" stroke-width="0.7" />
<line x1="400.67" y1="151.57" x2="403.27" y2="151.57" stroke="#3f7d45" stroke-width="0.7" />
<line x1="400.67" y1="164.69" x2="403.27" y2="164.69" stroke="#3f7d45" stroke-width="0.7" />
<circle cx="401.97" cy="161.74" r="0.75" fill="#2b6a33"/>
<circle cx="401.97" cy="157.15" r="0.75" fill="#2b6a33"/>
<circle cx="401.97" cy="153.54" r="0.75" fill="#2b6a33"/>
<rect x="406.55" y="191.48" width="5.33" height="37.72" fill="#fff" stroke="#d8473d" stroke-width="0.8"/>
<line x1="409.22" y1="187.38" x2="409.22" y2="195.58" stroke="#d8473d" stroke-width="0.7" />
<line x1="407.92" y1="187.38" x2="410.52" y2="187.38" stroke="#d8473d" stroke-width="0.7" />
<line x1="407.92" y1="195.58" x2="410.52" y2="195.58" stroke="#d8473d" stroke-width="0.7" />
<circle cx="409.22" cy="193.73" r="0.75" fill="#c7372e"/>
<circle cx="409.22" cy="190.87" r="0.75" fill="#c7372e"/>
<circle cx="409.22" cy="188.61" r="0.75" fill="#c7372e"/>
<rect x="413.81" y="201.32" width="5.33" height="27.88" fill="#fff" stroke="#8e97bd" stroke-width="0.8"/>
<line x1="416.48" y1="196.67" x2="416.48" y2="205.97" stroke="#8e97bd" stroke-width="0.7" />
<line x1="415.18" y1="196.67" x2="417.78" y2="196.67" stroke="#8e97bd" stroke-width="0.7" />
<line x1="415.18" y1="205.97" x2="417.78" y2="205.97" stroke="#8e97bd" stroke-width="0.7" />
<circle cx="416.48" cy="203.88" r="0.75" fill="#6f79a6"/>
<circle cx="416.48" cy="200.62" r="0.75" fill="#6f79a6"/>
<circle cx="416.48" cy="198.07" r="0.75" fill="#6f79a6"/>
<rect x="421.06" y="200.23" width="5.33" height="28.97" fill="#fff" stroke="#4865ae" stroke-width="0.8"/>
<line x1="423.73" y1="193.94" x2="423.73" y2="206.51" stroke="#4865ae" stroke-width="0.7" />
<line x1="422.43" y1="193.94" x2="425.03" y2="193.94" stroke="#4865ae" stroke-width="0.7" />
<line x1="422.43" y1="206.51" x2="425.03" y2="206.51" stroke="#4865ae" stroke-width="0.7" />
<circle cx="423.73" cy="203.68" r="0.75" fill="#2f4f9e"/>
<circle cx="423.73" cy="199.28" r="0.75" fill="#2f4f9e"/>
<circle cx="423.73" cy="195.83" r="0.75" fill="#2f4f9e"/>
<rect x="428.31" y="201.87" width="5.33" height="27.33" fill="#fff" stroke="#56c3e4" stroke-width="0.8"/>
<line x1="430.98" y1="178.91" x2="430.98" y2="224.83" stroke="#56c3e4" stroke-width="0.7" />
<line x1="429.68" y1="178.91" x2="432.28" y2="178.91" stroke="#56c3e4" stroke-width="0.7" />
<line x1="429.68" y1="224.83" x2="432.28" y2="224.83" stroke="#56c3e4" stroke-width="0.7" />
<circle cx="430.98" cy="214.49" r="0.75" fill="#3fb0d8"/>
<circle cx="430.98" cy="198.42" r="0.75" fill="#3fb0d8"/>
<circle cx="430.98" cy="185.79" r="0.75" fill="#3fb0d8"/>
<line x1="457.23" y1="229.20" x2="457.23" y2="232.20" stroke="#333" stroke-width="0.7" />
<text x="457.23" y="238.60" font-size="5.3" text-anchor="middle" fill="#1a1a1a" stroke="#1a1a1a" stroke-width="0.22" >Hsp70</text>
<rect x="440.05" y="160.87" width="5.33" height="68.33" fill="#fff" stroke="#3f7d45" stroke-width="0.8"/>
<line x1="442.72" y1="157.26" x2="442.72" y2="164.47" stroke="#3f7d45" stroke-width="0.7" />
<line x1="441.42" y1="157.26" x2="444.02" y2="157.26" stroke="#3f7d45" stroke-width="0.7" />
<line x1="441.42" y1="164.47" x2="444.02" y2="164.47" stroke="#3f7d45" stroke-width="0.7" />
<circle cx="442.72" cy="162.85" r="0.75" fill="#2b6a33"/>
<circle cx="442.72" cy="160.33" r="0.75" fill="#2b6a33"/>
<circle cx="442.72" cy="158.34" r="0.75" fill="#2b6a33"/>
<rect x="447.30" y="190.93" width="5.33" height="38.27" fill="#fff" stroke="#d8473d" stroke-width="0.8"/>
<line x1="449.97" y1="174.53" x2="449.97" y2="207.33" stroke="#d8473d" stroke-width="0.7" />
<line x1="448.67" y1="174.53" x2="451.27" y2="174.53" stroke="#d8473d" stroke-width="0.7" />
<line x1="448.67" y1="207.33" x2="451.27" y2="207.33" stroke="#d8473d" stroke-width="0.7" />
<circle cx="449.97" cy="199.95" r="0.75" fill="#c7372e"/>
<circle cx="449.97" cy="188.47" r="0.75" fill="#c7372e"/>
<circle cx="449.97" cy="179.45" r="0.75" fill="#c7372e"/>
<rect x="454.56" y="195.85" width="5.33" height="33.35" fill="#fff" stroke="#8e97bd" stroke-width="0.8"/>
<line x1="457.23" y1="187.11" x2="457.23" y2="204.60" stroke="#8e97bd" stroke-width="0.7" />
<line x1="455.93" y1="187.11" x2="458.53" y2="187.11" stroke="#8e97bd" stroke-width="0.7" />
<line x1="455.93" y1="204.60" x2="458.53" y2="204.60" stroke="#8e97bd" stroke-width="0.7" />
<circle cx="457.23" cy="200.66" r="0.75" fill="#6f79a6"/>
<circle cx="457.23" cy="194.54" r="0.75" fill="#6f79a6"/>
<circle cx="457.23" cy="189.73" r="0.75" fill="#6f79a6"/>
<rect x="461.81" y="199.95" width="5.33" height="29.25" fill="#fff" stroke="#4865ae" stroke-width="0.8"/>
<line x1="464.48" y1="186.83" x2="464.48" y2="213.07" stroke="#4865ae" stroke-width="0.7" />
<line x1="463.18" y1="186.83" x2="465.78" y2="186.83" stroke="#4865ae" stroke-width="0.7" />
<line x1="463.18" y1="213.07" x2="465.78" y2="213.07" stroke="#4865ae" stroke-width="0.7" />
<circle cx="464.48" cy="207.17" r="0.75" fill="#2f4f9e"/>
<circle cx="464.48" cy="197.99" r="0.75" fill="#2f4f9e"/>
<circle cx="464.48" cy="190.77" r="0.75" fill="#2f4f9e"/>
<rect x="469.06" y="205.69" width="5.33" height="23.51" fill="#fff" stroke="#56c3e4" stroke-width="0.8"/>
<line x1="471.73" y1="189.84" x2="471.73" y2="221.55" stroke="#56c3e4" stroke-width="0.7" />
<line x1="470.43" y1="189.84" x2="473.03" y2="189.84" stroke="#56c3e4" stroke-width="0.7" />
<line x1="470.43" y1="221.55" x2="473.03" y2="221.55" stroke="#56c3e4" stroke-width="0.7" />
<circle cx="471.73" cy="214.41" r="0.75" fill="#3fb0d8"/>
<circle cx="471.73" cy="203.32" r="0.75" fill="#3fb0d8"/>
<circle cx="471.73" cy="194.60" r="0.75" fill="#3fb0d8"/>
<line x1="497.98" y1="229.20" x2="497.98" y2="232.20" stroke="#333" stroke-width="0.7" />
<text x="497.98" y="238.60" font-size="5.3" text-anchor="middle" fill="#1a1a1a" stroke="#1a1a1a" stroke-width="0.22" >HSF1</text>
<rect x="480.80" y="167.97" width="5.33" height="61.23" fill="#fff" stroke="#3f7d45" stroke-width="0.8"/>
<line x1="483.47" y1="156.49" x2="483.47" y2="179.45" stroke="#3f7d45" stroke-width="0.7" />
<line x1="482.17" y1="156.49" x2="484.77" y2="156.49" stroke="#3f7d45" stroke-width="0.7" />
<line x1="482.17" y1="179.45" x2="484.77" y2="179.45" stroke="#3f7d45" stroke-width="0.7" />
<circle cx="483.47" cy="174.29" r="0.75" fill="#2b6a33"/>
<circle cx="483.47" cy="166.25" r="0.75" fill="#2b6a33"/>
<circle cx="483.47" cy="159.94" r="0.75" fill="#2b6a33"/>
<rect x="488.05" y="178.91" width="5.33" height="50.29" fill="#fff" stroke="#d8473d" stroke-width="0.8"/>
<line x1="490.72" y1="166.88" x2="490.72" y2="190.93" stroke="#d8473d" stroke-width="0.7" />
<line x1="489.42" y1="166.88" x2="492.02" y2="166.88" stroke="#d8473d" stroke-width="0.7" />
<line x1="489.42" y1="190.93" x2="492.02" y2="190.93" stroke="#d8473d" stroke-width="0.7" />
<circle cx="490.72" cy="185.52" r="0.75" fill="#c7372e"/>
<circle cx="490.72" cy="177.10" r="0.75" fill="#c7372e"/>
<circle cx="490.72" cy="170.49" r="0.75" fill="#c7372e"/>
<rect x="495.31" y="184.92" width="5.33" height="44.28" fill="#fff" stroke="#8e97bd" stroke-width="0.8"/>
<line x1="497.98" y1="172.89" x2="497.98" y2="196.95" stroke="#8e97bd" stroke-width="0.7" />
<line x1="496.68" y1="172.89" x2="499.28" y2="172.89" stroke="#8e97bd" stroke-width="0.7" />
<line x1="496.68" y1="196.95" x2="499.28" y2="196.95" stroke="#8e97bd" stroke-width="0.7" />
<circle cx="497.98" cy="191.53" r="0.75" fill="#6f79a6"/>
<circle cx="497.98" cy="183.12" r="0.75" fill="#6f79a6"/>
<circle cx="497.98" cy="176.50" r="0.75" fill="#6f79a6"/>
<rect x="502.56" y="195.85" width="5.33" height="33.35" fill="#fff" stroke="#4865ae" stroke-width="0.8"/>
<line x1="505.23" y1="178.91" x2="505.23" y2="212.80" stroke="#4865ae" stroke-width="0.7" />
<line x1="503.93" y1="178.91" x2="506.53" y2="178.91" stroke="#4865ae" stroke-width="0.7" />
<line x1="503.93" y1="212.80" x2="506.53" y2="212.80" stroke="#4865ae" stroke-width="0.7" />
<circle cx="505.23" cy="205.17" r="0.75" fill="#2f4f9e"/>
<circle cx="505.23" cy="193.31" r="0.75" fill="#2f4f9e"/>
<circle cx="505.23" cy="183.99" r="0.75" fill="#2f4f9e"/>
<rect x="509.81" y="211.71" width="5.33" height="17.49" fill="#fff" stroke="#56c3e4" stroke-width="0.8"/>
<line x1="512.48" y1="200.77" x2="512.48" y2="222.64" stroke="#56c3e4" stroke-width="0.7" />
<line x1="511.18" y1="200.77" x2="513.78" y2="200.77" stroke="#56c3e4" stroke-width="0.7" />
<line x1="511.18" y1="222.64" x2="513.78" y2="222.64" stroke="#56c3e4" stroke-width="0.7" />
<circle cx="512.48" cy="217.72" r="0.75" fill="#3fb0d8"/>
<circle cx="512.48" cy="210.07" r="0.75" fill="#3fb0d8"/>
<circle cx="512.48" cy="204.05" r="0.75" fill="#3fb0d8"/>
<line x1="538.73" y1="229.20" x2="538.73" y2="232.20" stroke="#333" stroke-width="0.7" />
<text x="538.73" y="238.60" font-size="5.3" text-anchor="middle" fill="#1a1a1a" stroke="#1a1a1a" stroke-width="0.22" >Aha1</text>
<rect x="521.55" y="169.07" width="5.33" height="60.13" fill="#fff" stroke="#3f7d45" stroke-width="0.8"/>
<line x1="524.22" y1="161.41" x2="524.22" y2="176.72" stroke="#3f7d45" stroke-width="0.7" />
<line x1="522.92" y1="161.41" x2="525.52" y2="161.41" stroke="#3f7d45" stroke-width="0.7" />
<line x1="522.92" y1="176.72" x2="525.52" y2="176.72" stroke="#3f7d45" stroke-width="0.7" />
<circle cx="524.22" cy="173.28" r="0.75" fill="#2b6a33"/>
<circle cx="524.22" cy="167.92" r="0.75" fill="#2b6a33"/>
<circle cx="524.22" cy="163.71" r="0.75" fill="#2b6a33"/>
<rect x="528.80" y="180.55" width="5.33" height="48.65" fill="#fff" stroke="#d8473d" stroke-width="0.8"/>
<line x1="531.47" y1="164.69" x2="531.47" y2="196.40" stroke="#d8473d" stroke-width="0.7" />
<line x1="530.17" y1="164.69" x2="532.77" y2="164.69" stroke="#d8473d" stroke-width="0.7" />
<line x1="530.17" y1="196.40" x2="532.77" y2="196.40" stroke="#d8473d" stroke-width="0.7" />
<circle cx="531.47" cy="189.27" r="0.75" fill="#c7372e"/>
<circle cx="531.47" cy="178.17" r="0.75" fill="#c7372e"/>
<circle cx="531.47" cy="169.45" r="0.75" fill="#c7372e"/>
<rect x="536.06" y="184.37" width="5.33" height="44.83" fill="#fff" stroke="#8e97bd" stroke-width="0.8"/>
<line x1="538.73" y1="179.73" x2="538.73" y2="189.02" stroke="#8e97bd" stroke-width="0.7" />
<line x1="537.43" y1="179.73" x2="540.02" y2="179.73" stroke="#8e97bd" stroke-width="0.7" />
<line x1="537.43" y1="189.02" x2="540.02" y2="189.02" stroke="#8e97bd" stroke-width="0.7" />
<circle cx="538.73" cy="186.93" r="0.75" fill="#6f79a6"/>
<circle cx="538.73" cy="183.68" r="0.75" fill="#6f79a6"/>
<circle cx="538.73" cy="181.12" r="0.75" fill="#6f79a6"/>
<rect x="543.31" y="184.92" width="5.33" height="44.28" fill="#fff" stroke="#4865ae" stroke-width="0.8"/>
<line x1="545.98" y1="176.17" x2="545.98" y2="193.67" stroke="#4865ae" stroke-width="0.7" />
<line x1="544.68" y1="176.17" x2="547.28" y2="176.17" stroke="#4865ae" stroke-width="0.7" />
<line x1="544.68" y1="193.67" x2="547.28" y2="193.67" stroke="#4865ae" stroke-width="0.7" />
<circle cx="545.98" cy="189.73" r="0.75" fill="#2f4f9e"/>
<circle cx="545.98" cy="183.61" r="0.75" fill="#2f4f9e"/>
<circle cx="545.98" cy="178.80" r="0.75" fill="#2f4f9e"/>
<rect x="550.56" y="192.03" width="5.33" height="37.17" fill="#fff" stroke="#56c3e4" stroke-width="0.8"/>
<line x1="553.23" y1="175.08" x2="553.23" y2="208.97" stroke="#56c3e4" stroke-width="0.7" />
<line x1="551.93" y1="175.08" x2="554.53" y2="175.08" stroke="#56c3e4" stroke-width="0.7" />
<line x1="551.93" y1="208.97" x2="554.53" y2="208.97" stroke="#56c3e4" stroke-width="0.7" />
<circle cx="553.23" cy="201.35" r="0.75" fill="#3fb0d8"/>
<circle cx="553.23" cy="189.48" r="0.75" fill="#3fb0d8"/>
<circle cx="553.23" cy="180.16" r="0.75" fill="#3fb0d8"/>
<line x1="579.48" y1="229.20" x2="579.48" y2="232.20" stroke="#333" stroke-width="0.7" />
<text x="579.48" y="238.60" font-size="5.3" text-anchor="middle" fill="#1a1a1a" stroke="#1a1a1a" stroke-width="0.22" >AKT</text>
<rect x="562.30" y="200.23" width="5.33" height="28.97" fill="#fff" stroke="#3f7d45" stroke-width="0.8"/>
<line x1="564.97" y1="190.93" x2="564.97" y2="209.52" stroke="#3f7d45" stroke-width="0.7" />
<line x1="563.67" y1="190.93" x2="566.27" y2="190.93" stroke="#3f7d45" stroke-width="0.7" />
<line x1="563.67" y1="209.52" x2="566.27" y2="209.52" stroke="#3f7d45" stroke-width="0.7" />
<circle cx="564.97" cy="205.34" r="0.75" fill="#2b6a33"/>
<circle cx="564.97" cy="198.83" r="0.75" fill="#2b6a33"/>
<circle cx="564.97" cy="193.72" r="0.75" fill="#2b6a33"/>
<rect x="569.55" y="174.53" width="5.33" height="54.67" fill="#fff" stroke="#d8473d" stroke-width="0.8"/>
<line x1="572.22" y1="162.51" x2="572.22" y2="186.56" stroke="#d8473d" stroke-width="0.7" />
<line x1="570.92" y1="162.51" x2="573.52" y2="162.51" stroke="#d8473d" stroke-width="0.7" />
<line x1="570.92" y1="186.56" x2="573.52" y2="186.56" stroke="#d8473d" stroke-width="0.7" />
<circle cx="572.22" cy="181.15" r="0.75" fill="#c7372e"/>
<circle cx="572.22" cy="172.73" r="0.75" fill="#c7372e"/>
<circle cx="572.22" cy="166.11" r="0.75" fill="#c7372e"/>
<rect x="576.81" y="186.01" width="5.33" height="43.19" fill="#fff" stroke="#8e97bd" stroke-width="0.8"/>
<line x1="579.48" y1="184.10" x2="579.48" y2="187.93" stroke="#8e97bd" stroke-width="0.7" />
<line x1="578.18" y1="184.10" x2="580.77" y2="184.10" stroke="#8e97bd" stroke-width="0.7" />
<line x1="578.18" y1="187.93" x2="580.77" y2="187.93" stroke="#8e97bd" stroke-width="0.7" />
<circle cx="579.48" cy="187.07" r="0.75" fill="#6f79a6"/>
<circle cx="579.48" cy="185.73" r="0.75" fill="#6f79a6"/>
<circle cx="579.48" cy="184.67" r="0.75" fill="#6f79a6"/>
<rect x="584.06" y="193.12" width="5.33" height="36.08" fill="#fff" stroke="#4865ae" stroke-width="0.8"/>
<line x1="586.73" y1="178.36" x2="586.73" y2="207.88" stroke="#4865ae" stroke-width="0.7" />
<line x1="585.43" y1="178.36" x2="588.03" y2="178.36" stroke="#4865ae" stroke-width="0.7" />
<line x1="585.43" y1="207.88" x2="588.03" y2="207.88" stroke="#4865ae" stroke-width="0.7" />
<circle cx="586.73" cy="201.24" r="0.75" fill="#2f4f9e"/>
<circle cx="586.73" cy="190.91" r="0.75" fill="#2f4f9e"/>
<circle cx="586.73" cy="182.79" r="0.75" fill="#2f4f9e"/>
<rect x="591.31" y="210.61" width="5.33" height="18.59" fill="#fff" stroke="#56c3e4" stroke-width="0.8"/>
<line x1="593.98" y1="195.85" x2="593.98" y2="225.37" stroke="#56c3e4" stroke-width="0.7" />
<line x1="592.68" y1="195.85" x2="595.28" y2="195.85" stroke="#56c3e4" stroke-width="0.7" />
<line x1="592.68" y1="225.37" x2="595.28" y2="225.37" stroke="#56c3e4" stroke-width="0.7" />
<circle cx="593.98" cy="218.73" r="0.75" fill="#3fb0d8"/>
<circle cx="593.98" cy="208.40" r="0.75" fill="#3fb0d8"/>
<circle cx="593.98" cy="200.28" r="0.75" fill="#3fb0d8"/>
<line x1="620.23" y1="229.20" x2="620.23" y2="232.20" stroke="#333" stroke-width="0.7" />
<text x="620.23" y="238.60" font-size="5.3" text-anchor="middle" fill="#1a1a1a" stroke="#1a1a1a" stroke-width="0.22" >CDK2</text>
<rect x="603.05" y="168.52" width="5.33" height="60.68" fill="#fff" stroke="#3f7d45" stroke-width="0.8"/>
<line x1="605.72" y1="164.42" x2="605.72" y2="172.62" stroke="#3f7d45" stroke-width="0.7" />
<line x1="604.42" y1="164.42" x2="607.02" y2="164.42" stroke="#3f7d45" stroke-width="0.7" />
<line x1="604.42" y1="172.62" x2="607.02" y2="172.62" stroke="#3f7d45" stroke-width="0.7" />
<circle cx="605.72" cy="170.77" r="0.75" fill="#2b6a33"/>
<circle cx="605.72" cy="167.90" r="0.75" fill="#2b6a33"/>
<circle cx="605.72" cy="165.65" r="0.75" fill="#2b6a33"/>
<rect x="610.30" y="170.16" width="5.33" height="59.04" fill="#fff" stroke="#d8473d" stroke-width="0.8"/>
<line x1="612.97" y1="166.88" x2="612.97" y2="173.44" stroke="#d8473d" stroke-width="0.7" />
<line x1="611.67" y1="166.88" x2="614.27" y2="166.88" stroke="#d8473d" stroke-width="0.7" />
<line x1="611.67" y1="173.44" x2="614.27" y2="173.44" stroke="#d8473d" stroke-width="0.7" />
<circle cx="612.97" cy="171.96" r="0.75" fill="#c7372e"/>
<circle cx="612.97" cy="169.67" r="0.75" fill="#c7372e"/>
<circle cx="612.97" cy="167.86" r="0.75" fill="#c7372e"/>
<rect x="617.56" y="182.19" width="5.33" height="47.01" fill="#fff" stroke="#8e97bd" stroke-width="0.8"/>
<line x1="620.23" y1="181.09" x2="620.23" y2="183.28" stroke="#8e97bd" stroke-width="0.7" />
<line x1="618.93" y1="181.09" x2="621.52" y2="181.09" stroke="#8e97bd" stroke-width="0.7" />
<line x1="618.93" y1="183.28" x2="621.52" y2="183.28" stroke="#8e97bd" stroke-width="0.7" />
<circle cx="620.23" cy="182.79" r="0.75" fill="#6f79a6"/>
<circle cx="620.23" cy="182.02" r="0.75" fill="#6f79a6"/>
<circle cx="620.23" cy="181.42" r="0.75" fill="#6f79a6"/>
<rect x="624.81" y="196.40" width="5.33" height="32.80" fill="#fff" stroke="#4865ae" stroke-width="0.8"/>
<line x1="627.48" y1="188.20" x2="627.48" y2="204.60" stroke="#4865ae" stroke-width="0.7" />
<line x1="626.18" y1="188.20" x2="628.78" y2="188.20" stroke="#4865ae" stroke-width="0.7" />
<line x1="626.18" y1="204.60" x2="628.78" y2="204.60" stroke="#4865ae" stroke-width="0.7" />
<circle cx="627.48" cy="200.91" r="0.75" fill="#2f4f9e"/>
<circle cx="627.48" cy="195.17" r="0.75" fill="#2f4f9e"/>
<circle cx="627.48" cy="190.66" r="0.75" fill="#2f4f9e"/>
<rect x="632.06" y="212.80" width="5.33" height="16.40" fill="#fff" stroke="#56c3e4" stroke-width="0.8"/>
<line x1="634.73" y1="200.77" x2="634.73" y2="224.83" stroke="#56c3e4" stroke-width="0.7" />
<line x1="633.43" y1="200.77" x2="636.03" y2="200.77" stroke="#56c3e4" stroke-width="0.7" />
<line x1="633.43" y1="224.83" x2="636.03" y2="224.83" stroke="#56c3e4" stroke-width="0.7" />
<circle cx="634.73" cy="219.41" r="0.75" fill="#3fb0d8"/>
<circle cx="634.73" cy="211.00" r="0.75" fill="#3fb0d8"/>
<circle cx="634.73" cy="204.38" r="0.75" fill="#3fb0d8"/>
<line x1="660.98" y1="229.20" x2="660.98" y2="232.20" stroke="#333" stroke-width="0.7" />
<text x="660.98" y="238.60" font-size="5.3" text-anchor="middle" fill="#1a1a1a" stroke="#1a1a1a" stroke-width="0.22" >CDK4</text>
<rect x="643.80" y="189.29" width="5.33" height="39.91" fill="#fff" stroke="#3f7d45" stroke-width="0.8"/>
<line x1="646.47" y1="181.09" x2="646.47" y2="197.49" stroke="#3f7d45" stroke-width="0.7" />
<line x1="645.17" y1="181.09" x2="647.77" y2="181.09" stroke="#3f7d45" stroke-width="0.7" />
<line x1="645.17" y1="197.49" x2="647.77" y2="197.49" stroke="#3f7d45" stroke-width="0.7" />
<circle cx="646.47" cy="193.80" r="0.75" fill="#2b6a33"/>
<circle cx="646.47" cy="188.06" r="0.75" fill="#2b6a33"/>
<circle cx="646.47" cy="183.55" r="0.75" fill="#2b6a33"/>
<rect x="651.05" y="169.07" width="5.33" height="60.13" fill="#fff" stroke="#d8473d" stroke-width="0.8"/>
<line x1="653.72" y1="156.49" x2="653.72" y2="181.64" stroke="#d8473d" stroke-width="0.7" />
<line x1="652.42" y1="156.49" x2="655.02" y2="156.49" stroke="#d8473d" stroke-width="0.7" />
<line x1="652.42" y1="181.64" x2="655.02" y2="181.64" stroke="#d8473d" stroke-width="0.7" />
<circle cx="653.72" cy="175.98" r="0.75" fill="#c7372e"/>
<circle cx="653.72" cy="167.18" r="0.75" fill="#c7372e"/>
<circle cx="653.72" cy="160.27" r="0.75" fill="#c7372e"/>
<rect x="658.31" y="187.65" width="5.33" height="41.55" fill="#fff" stroke="#8e97bd" stroke-width="0.8"/>
<line x1="660.98" y1="181.64" x2="660.98" y2="193.67" stroke="#8e97bd" stroke-width="0.7" />
<line x1="659.68" y1="181.64" x2="662.27" y2="181.64" stroke="#8e97bd" stroke-width="0.7" />
<line x1="659.68" y1="193.67" x2="662.27" y2="193.67" stroke="#8e97bd" stroke-width="0.7" />
<circle cx="660.98" cy="190.96" r="0.75" fill="#6f79a6"/>
<circle cx="660.98" cy="186.75" r="0.75" fill="#6f79a6"/>
<circle cx="660.98" cy="183.44" r="0.75" fill="#6f79a6"/>
<rect x="665.56" y="189.29" width="5.33" height="39.91" fill="#fff" stroke="#4865ae" stroke-width="0.8"/>
<line x1="668.23" y1="173.99" x2="668.23" y2="204.60" stroke="#4865ae" stroke-width="0.7" />
<line x1="666.93" y1="173.99" x2="669.53" y2="173.99" stroke="#4865ae" stroke-width="0.7" />
<line x1="666.93" y1="204.60" x2="669.53" y2="204.60" stroke="#4865ae" stroke-width="0.7" />
<circle cx="668.23" cy="197.71" r="0.75" fill="#2f4f9e"/>
<circle cx="668.23" cy="187.00" r="0.75" fill="#2f4f9e"/>
<circle cx="668.23" cy="178.58" r="0.75" fill="#2f4f9e"/>
<rect x="672.81" y="215.53" width="5.33" height="13.67" fill="#fff" stroke="#56c3e4" stroke-width="0.8"/>
<line x1="675.48" y1="205.69" x2="675.48" y2="225.37" stroke="#56c3e4" stroke-width="0.7" />
<line x1="674.18" y1="205.69" x2="676.78" y2="205.69" stroke="#56c3e4" stroke-width="0.7" />
<line x1="674.18" y1="225.37" x2="676.78" y2="225.37" stroke="#56c3e4" stroke-width="0.7" />
<circle cx="675.48" cy="220.95" r="0.75" fill="#3fb0d8"/>
<circle cx="675.48" cy="214.06" r="0.75" fill="#3fb0d8"/>
<circle cx="675.48" cy="208.65" r="0.75" fill="#3fb0d8"/>
<text x="401.97" y="150.77" font-size="6.0" text-anchor="middle" fill="#222" stroke="#222" stroke-width="0.22" letter-spacing="0.15">**</text>
<text x="416.48" y="195.87" font-size="6.0" text-anchor="middle" fill="#222" stroke="#222" stroke-width="0.22" letter-spacing="0.15">*</text>
<text x="442.72" y="156.46" font-size="6.0" text-anchor="middle" fill="#222" stroke="#222" stroke-width="0.22" letter-spacing="0.15">*</text>
<text x="512.48" y="199.97" font-size="6.0" text-anchor="middle" fill="#222" stroke="#222" stroke-width="0.22" letter-spacing="0.15">*</text>
<text x="564.97" y="190.13" font-size="6.0" text-anchor="middle" fill="#222" stroke="#222" stroke-width="0.22" letter-spacing="0.15">*</text>
<text x="593.98" y="195.05" font-size="6.0" text-anchor="middle" fill="#222" stroke="#222" stroke-width="0.22" letter-spacing="0.15">*</text>
<text x="620.23" y="180.29" font-size="6.0" text-anchor="middle" fill="#222" stroke="#222" stroke-width="0.22" letter-spacing="0.15">*</text>
<text x="627.48" y="187.40" font-size="6.0" text-anchor="middle" fill="#222" stroke="#222" stroke-width="0.22" letter-spacing="0.15">**</text>
<text x="634.73" y="199.97" font-size="6.0" text-anchor="middle" fill="#222" stroke="#222" stroke-width="0.22" letter-spacing="0.15">**</text>
<text x="675.48" y="204.89" font-size="6.0" text-anchor="middle" fill="#222" stroke="#222" stroke-width="0.22" letter-spacing="0.15">**</text>
<rect x="605.90" y="142.00" width="3.5" height="3.5" fill="#d4473d"/>
<text x="611.60" y="145.50" font-size="5.0" text-anchor="start" fill="#222" stroke="#222" stroke-width="0.12" >DMSO</text>
<circle cx="632.60" cy="143.75" r="1.8" fill="#24602c"/>
<text x="637.00" y="145.50" font-size="5.0" text-anchor="start" fill="#222" stroke="#222" stroke-width="0.12" >NVP-AUY922</text>
<path d="M605.90 152.80 L607.60 149.20 L609.30 152.80Z" fill="#5266a8"/>
<text x="611.60" y="152.60" font-size="5.0" text-anchor="start" fill="#222" stroke="#222" stroke-width="0.12" >20 μM</text>
<path d="M630.80 149.20 L634.40 149.20 L632.60 152.80Z" fill="#233f96"/>
<text x="636.00" y="152.60" font-size="5.0" text-anchor="start" fill="#222" stroke="#222" stroke-width="0.12" >40 μM</text>
<path d="M655.00 149.00 L656.90 151.00 L655.00 153.00 L653.10 151.00Z" fill="#55c2e8"/>
<text x="659.00" y="152.60" font-size="5.0" text-anchor="start" fill="#222" stroke="#222" stroke-width="0.12" >80 μM</text>
<text x="401.10" y="272.00" font-size="8.0" text-anchor="start" fill="#1a1a1a" stroke="#1a1a1a" stroke-width="0.22" >MG-63</text>
<line x1="395.80" y1="275.80" x2="395.80" y2="358.30" stroke="#222" stroke-width="0.9" />
<line x1="395.80" y1="358.30" x2="684.50" y2="358.30" stroke="#222" stroke-width="0.9" />
<line x1="393.20" y1="358.30" x2="395.80" y2="358.30" stroke="#333" stroke-width="0.7" />
<text x="391.80" y="359.95" font-size="4.7" text-anchor="end" fill="#333" stroke="#333" stroke-width="0.22" >0.0</text>
<line x1="393.20" y1="330.97" x2="395.80" y2="330.97" stroke="#333" stroke-width="0.7" />
<text x="391.80" y="332.62" font-size="4.7" text-anchor="end" fill="#333" stroke="#333" stroke-width="0.22" >0.5</text>
<line x1="393.20" y1="303.63" x2="395.80" y2="303.63" stroke="#333" stroke-width="0.7" />
<text x="391.80" y="305.28" font-size="4.7" text-anchor="end" fill="#333" stroke="#333" stroke-width="0.22" >1.0</text>
<line x1="393.20" y1="276.30" x2="395.80" y2="276.30" stroke="#333" stroke-width="0.7" />
<text x="391.80" y="277.95" font-size="4.7" text-anchor="end" fill="#333" stroke="#333" stroke-width="0.22" >1.5</text>
<text x="0.00" y="0.00" font-size="6.33" text-anchor="middle" fill="#1a1a1a" stroke="#1a1a1a" stroke-width="0.22" transform="translate(380.7 317.6) rotate(-90)">Relative Protein Expression</text>
<line x1="416.48" y1="358.30" x2="416.48" y2="361.30" stroke="#333" stroke-width="0.7" />
<text x="416.48" y="367.50" font-size="5.3" text-anchor="middle" fill="#1a1a1a" stroke="#1a1a1a" stroke-width="0.22" >Hsp90</text>
<rect x="399.30" y="300.35" width="5.33" height="57.95" fill="#fff" stroke="#3f7d45" stroke-width="0.8"/>
<line x1="401.97" y1="298.71" x2="401.97" y2="301.99" stroke="#3f7d45" stroke-width="0.7" />
<line x1="400.67" y1="298.71" x2="403.27" y2="298.71" stroke="#3f7d45" stroke-width="0.7" />
<line x1="400.67" y1="301.99" x2="403.27" y2="301.99" stroke="#3f7d45" stroke-width="0.7" />
<circle cx="401.97" cy="301.26" r="0.75" fill="#2b6a33"/>
<circle cx="401.97" cy="300.11" r="0.75" fill="#2b6a33"/>
<circle cx="401.97" cy="299.21" r="0.75" fill="#2b6a33"/>
<rect x="406.55" y="313.47" width="5.33" height="44.83" fill="#fff" stroke="#d8473d" stroke-width="0.8"/>
<line x1="409.22" y1="306.91" x2="409.22" y2="320.03" stroke="#d8473d" stroke-width="0.7" />
<line x1="407.92" y1="306.91" x2="410.52" y2="306.91" stroke="#d8473d" stroke-width="0.7" />
<line x1="407.92" y1="320.03" x2="410.52" y2="320.03" stroke="#d8473d" stroke-width="0.7" />
<circle cx="409.22" cy="317.08" r="0.75" fill="#c7372e"/>
<circle cx="409.22" cy="312.49" r="0.75" fill="#c7372e"/>
<circle cx="409.22" cy="308.88" r="0.75" fill="#c7372e"/>
<rect x="413.81" y="316.75" width="5.33" height="41.55" fill="#fff" stroke="#8e97bd" stroke-width="0.8"/>
<line x1="416.48" y1="313.47" x2="416.48" y2="320.03" stroke="#8e97bd" stroke-width="0.7" />
<line x1="415.18" y1="313.47" x2="417.78" y2="313.47" stroke="#8e97bd" stroke-width="0.7" />
<line x1="415.18" y1="320.03" x2="417.78" y2="320.03" stroke="#8e97bd" stroke-width="0.7" />
<circle cx="416.48" cy="318.56" r="0.75" fill="#6f79a6"/>
<circle cx="416.48" cy="316.26" r="0.75" fill="#6f79a6"/>
<circle cx="416.48" cy="314.46" r="0.75" fill="#6f79a6"/>
<rect x="421.06" y="317.85" width="5.33" height="40.45" fill="#fff" stroke="#4865ae" stroke-width="0.8"/>
<line x1="423.73" y1="313.47" x2="423.73" y2="322.22" stroke="#4865ae" stroke-width="0.7" />
<line x1="422.43" y1="313.47" x2="425.03" y2="313.47" stroke="#4865ae" stroke-width="0.7" />
<line x1="422.43" y1="322.22" x2="425.03" y2="322.22" stroke="#4865ae" stroke-width="0.7" />
<circle cx="423.73" cy="320.25" r="0.75" fill="#2f4f9e"/>
<circle cx="423.73" cy="317.19" r="0.75" fill="#2f4f9e"/>
<circle cx="423.73" cy="314.79" r="0.75" fill="#2f4f9e"/>
<rect x="428.31" y="324.95" width="5.33" height="33.35" fill="#fff" stroke="#56c3e4" stroke-width="0.8"/>
<line x1="430.98" y1="320.58" x2="430.98" y2="329.33" stroke="#56c3e4" stroke-width="0.7" />
<line x1="429.68" y1="320.58" x2="432.28" y2="320.58" stroke="#56c3e4" stroke-width="0.7" />
<line x1="429.68" y1="329.33" x2="432.28" y2="329.33" stroke="#56c3e4" stroke-width="0.7" />
<circle cx="430.98" cy="327.36" r="0.75" fill="#3fb0d8"/>
<circle cx="430.98" cy="324.30" r="0.75" fill="#3fb0d8"/>
<circle cx="430.98" cy="321.89" r="0.75" fill="#3fb0d8"/>
<line x1="457.23" y1="358.30" x2="457.23" y2="361.30" stroke="#333" stroke-width="0.7" />
<text x="457.23" y="367.50" font-size="5.3" text-anchor="middle" fill="#1a1a1a" stroke="#1a1a1a" stroke-width="0.22" >Hsp70</text>
<rect x="440.05" y="297.62" width="5.33" height="60.68" fill="#fff" stroke="#3f7d45" stroke-width="0.8"/>
<line x1="442.72" y1="292.15" x2="442.72" y2="303.09" stroke="#3f7d45" stroke-width="0.7" />
<line x1="441.42" y1="292.15" x2="444.02" y2="292.15" stroke="#3f7d45" stroke-width="0.7" />
<line x1="441.42" y1="303.09" x2="444.02" y2="303.09" stroke="#3f7d45" stroke-width="0.7" />
<circle cx="442.72" cy="300.63" r="0.75" fill="#2b6a33"/>
<circle cx="442.72" cy="296.80" r="0.75" fill="#2b6a33"/>
<circle cx="442.72" cy="293.79" r="0.75" fill="#2b6a33"/>
<rect x="447.30" y="333.15" width="5.33" height="25.15" fill="#fff" stroke="#d8473d" stroke-width="0.8"/>
<line x1="449.97" y1="329.05" x2="449.97" y2="337.25" stroke="#d8473d" stroke-width="0.7" />
<line x1="448.67" y1="329.05" x2="451.27" y2="329.05" stroke="#d8473d" stroke-width="0.7" />
<line x1="448.67" y1="337.25" x2="451.27" y2="337.25" stroke="#d8473d" stroke-width="0.7" />
<circle cx="449.97" cy="335.41" r="0.75" fill="#c7372e"/>
<circle cx="449.97" cy="332.54" r="0.75" fill="#c7372e"/>
<circle cx="449.97" cy="330.28" r="0.75" fill="#c7372e"/>
<rect x="454.56" y="332.33" width="5.33" height="25.97" fill="#fff" stroke="#8e97bd" stroke-width="0.8"/>
<line x1="457.23" y1="319.49" x2="457.23" y2="345.18" stroke="#8e97bd" stroke-width="0.7" />
<line x1="455.93" y1="319.49" x2="458.53" y2="319.49" stroke="#8e97bd" stroke-width="0.7" />
<line x1="455.93" y1="345.18" x2="458.53" y2="345.18" stroke="#8e97bd" stroke-width="0.7" />
<circle cx="457.23" cy="339.40" r="0.75" fill="#6f79a6"/>
<circle cx="457.23" cy="330.41" r="0.75" fill="#6f79a6"/>
<circle cx="457.23" cy="323.34" r="0.75" fill="#6f79a6"/>
<rect x="461.81" y="332.61" width="5.33" height="25.69" fill="#fff" stroke="#4865ae" stroke-width="0.8"/>
<line x1="464.48" y1="316.21" x2="464.48" y2="349.01" stroke="#4865ae" stroke-width="0.7" />
<line x1="463.18" y1="316.21" x2="465.78" y2="316.21" stroke="#4865ae" stroke-width="0.7" />
<line x1="463.18" y1="349.01" x2="465.78" y2="349.01" stroke="#4865ae" stroke-width="0.7" />
<circle cx="464.48" cy="341.63" r="0.75" fill="#2f4f9e"/>
<circle cx="464.48" cy="330.15" r="0.75" fill="#2f4f9e"/>
<circle cx="464.48" cy="321.13" r="0.75" fill="#2f4f9e"/>
<rect x="469.06" y="335.89" width="5.33" height="22.41" fill="#fff" stroke="#56c3e4" stroke-width="0.8"/>
<line x1="471.73" y1="322.22" x2="471.73" y2="349.55" stroke="#56c3e4" stroke-width="0.7" />
<line x1="470.43" y1="322.22" x2="473.03" y2="322.22" stroke="#56c3e4" stroke-width="0.7" />
<line x1="470.43" y1="349.55" x2="473.03" y2="349.55" stroke="#56c3e4" stroke-width="0.7" />
<circle cx="471.73" cy="343.40" r="0.75" fill="#3fb0d8"/>
<circle cx="471.73" cy="333.84" r="0.75" fill="#3fb0d8"/>
<circle cx="471.73" cy="326.32" r="0.75" fill="#3fb0d8"/>
<line x1="497.98" y1="358.30" x2="497.98" y2="361.30" stroke="#333" stroke-width="0.7" />
<text x="497.98" y="367.50" font-size="5.3" text-anchor="middle" fill="#1a1a1a" stroke="#1a1a1a" stroke-width="0.22" >HSF1</text>
<rect x="480.80" y="297.62" width="5.33" height="60.68" fill="#fff" stroke="#3f7d45" stroke-width="0.8"/>
<line x1="483.47" y1="292.15" x2="483.47" y2="303.09" stroke="#3f7d45" stroke-width="0.7" />
<line x1="482.17" y1="292.15" x2="484.77" y2="292.15" stroke="#3f7d45" stroke-width="0.7" />
<line x1="482.17" y1="303.09" x2="484.77" y2="303.09" stroke="#3f7d45" stroke-width="0.7" />
<circle cx="483.47" cy="300.63" r="0.75" fill="#2b6a33"/>
<circle cx="483.47" cy="296.80" r="0.75" fill="#2b6a33"/>
<circle cx="483.47" cy="293.79" r="0.75" fill="#2b6a33"/>
<rect x="488.05" y="305.82" width="5.33" height="52.48" fill="#fff" stroke="#d8473d" stroke-width="0.8"/>
<line x1="490.72" y1="301.45" x2="490.72" y2="310.19" stroke="#d8473d" stroke-width="0.7" />
<line x1="489.42" y1="301.45" x2="492.02" y2="301.45" stroke="#d8473d" stroke-width="0.7" />
<line x1="489.42" y1="310.19" x2="492.02" y2="310.19" stroke="#d8473d" stroke-width="0.7" />
<circle cx="490.72" cy="308.23" r="0.75" fill="#c7372e"/>
<circle cx="490.72" cy="305.16" r="0.75" fill="#c7372e"/>
<circle cx="490.72" cy="302.76" r="0.75" fill="#c7372e"/>
<rect x="495.31" y="310.19" width="5.33" height="48.11" fill="#fff" stroke="#8e97bd" stroke-width="0.8"/>
<line x1="497.98" y1="306.09" x2="497.98" y2="314.29" stroke="#8e97bd" stroke-width="0.7" />
<line x1="496.68" y1="306.09" x2="499.28" y2="306.09" stroke="#8e97bd" stroke-width="0.7" />
<line x1="496.68" y1="314.29" x2="499.28" y2="314.29" stroke="#8e97bd" stroke-width="0.7" />
<circle cx="497.98" cy="312.45" r="0.75" fill="#6f79a6"/>
<circle cx="497.98" cy="309.58" r="0.75" fill="#6f79a6"/>
<circle cx="497.98" cy="307.32" r="0.75" fill="#6f79a6"/>
<rect x="502.56" y="316.75" width="5.33" height="41.55" fill="#fff" stroke="#4865ae" stroke-width="0.8"/>
<line x1="505.23" y1="306.37" x2="505.23" y2="327.14" stroke="#4865ae" stroke-width="0.7" />
<line x1="503.93" y1="306.37" x2="506.53" y2="306.37" stroke="#4865ae" stroke-width="0.7" />
<line x1="503.93" y1="327.14" x2="506.53" y2="327.14" stroke="#4865ae" stroke-width="0.7" />
<circle cx="505.23" cy="322.47" r="0.75" fill="#2f4f9e"/>
<circle cx="505.23" cy="315.20" r="0.75" fill="#2f4f9e"/>
<circle cx="505.23" cy="309.48" r="0.75" fill="#2f4f9e"/>
<rect x="509.81" y="322.77" width="5.33" height="35.53" fill="#fff" stroke="#56c3e4" stroke-width="0.8"/>
<line x1="512.48" y1="313.47" x2="512.48" y2="332.06" stroke="#56c3e4" stroke-width="0.7" />
<line x1="511.18" y1="313.47" x2="513.78" y2="313.47" stroke="#56c3e4" stroke-width="0.7" />
<line x1="511.18" y1="332.06" x2="513.78" y2="332.06" stroke="#56c3e4" stroke-width="0.7" />
<circle cx="512.48" cy="327.88" r="0.75" fill="#3fb0d8"/>
<circle cx="512.48" cy="321.37" r="0.75" fill="#3fb0d8"/>
<circle cx="512.48" cy="316.26" r="0.75" fill="#3fb0d8"/>
<line x1="538.73" y1="358.30" x2="538.73" y2="361.30" stroke="#333" stroke-width="0.7" />
<text x="538.73" y="367.50" font-size="5.3" text-anchor="middle" fill="#1a1a1a" stroke="#1a1a1a" stroke-width="0.22" >Aha1</text>
<rect x="521.55" y="293.79" width="5.33" height="64.51" fill="#fff" stroke="#3f7d45" stroke-width="0.8"/>
<line x1="524.22" y1="276.85" x2="524.22" y2="310.74" stroke="#3f7d45" stroke-width="0.7" />
<line x1="522.92" y1="276.85" x2="525.52" y2="276.85" stroke="#3f7d45" stroke-width="0.7" />
<line x1="522.92" y1="310.74" x2="525.52" y2="310.74" stroke="#3f7d45" stroke-width="0.7" />
<circle cx="524.22" cy="303.11" r="0.75" fill="#2b6a33"/>
<circle cx="524.22" cy="291.25" r="0.75" fill="#2b6a33"/>
<circle cx="524.22" cy="281.93" r="0.75" fill="#2b6a33"/>
<rect x="528.80" y="317.03" width="5.33" height="41.27" fill="#fff" stroke="#d8473d" stroke-width="0.8"/>
<line x1="531.47" y1="302.27" x2="531.47" y2="331.79" stroke="#d8473d" stroke-width="0.7" />
<line x1="530.17" y1="302.27" x2="532.77" y2="302.27" stroke="#d8473d" stroke-width="0.7" />
<line x1="530.17" y1="331.79" x2="532.77" y2="331.79" stroke="#d8473d" stroke-width="0.7" />
<circle cx="531.47" cy="325.14" r="0.75" fill="#c7372e"/>
<circle cx="531.47" cy="314.81" r="0.75" fill="#c7372e"/>
<circle cx="531.47" cy="306.69" r="0.75" fill="#c7372e"/>
<rect x="536.06" y="321.13" width="5.33" height="37.17" fill="#fff" stroke="#8e97bd" stroke-width="0.8"/>
<line x1="538.73" y1="308.01" x2="538.73" y2="334.25" stroke="#8e97bd" stroke-width="0.7" />
<line x1="537.43" y1="308.01" x2="540.02" y2="308.01" stroke="#8e97bd" stroke-width="0.7" />
<line x1="537.43" y1="334.25" x2="540.02" y2="334.25" stroke="#8e97bd" stroke-width="0.7" />
<circle cx="538.73" cy="328.34" r="0.75" fill="#6f79a6"/>
<circle cx="538.73" cy="319.16" r="0.75" fill="#6f79a6"/>
<circle cx="538.73" cy="311.94" r="0.75" fill="#6f79a6"/>
<rect x="543.31" y="322.22" width="5.33" height="36.08" fill="#fff" stroke="#4865ae" stroke-width="0.8"/>
<line x1="545.98" y1="313.47" x2="545.98" y2="330.97" stroke="#4865ae" stroke-width="0.7" />
<line x1="544.68" y1="313.47" x2="547.28" y2="313.47" stroke="#4865ae" stroke-width="0.7" />
<line x1="544.68" y1="330.97" x2="547.28" y2="330.97" stroke="#4865ae" stroke-width="0.7" />
<circle cx="545.98" cy="327.03" r="0.75" fill="#2f4f9e"/>
<circle cx="545.98" cy="320.91" r="0.75" fill="#2f4f9e"/>
<circle cx="545.98" cy="316.10" r="0.75" fill="#2f4f9e"/>
<rect x="550.56" y="326.05" width="5.33" height="32.25" fill="#fff" stroke="#56c3e4" stroke-width="0.8"/>
<line x1="553.23" y1="309.10" x2="553.23" y2="342.99" stroke="#56c3e4" stroke-width="0.7" />
<line x1="551.93" y1="309.10" x2="554.53" y2="309.10" stroke="#56c3e4" stroke-width="0.7" />
<line x1="551.93" y1="342.99" x2="554.53" y2="342.99" stroke="#56c3e4" stroke-width="0.7" />
<circle cx="553.23" cy="335.37" r="0.75" fill="#3fb0d8"/>
<circle cx="553.23" cy="323.50" r="0.75" fill="#3fb0d8"/>
<circle cx="553.23" cy="314.18" r="0.75" fill="#3fb0d8"/>
<line x1="579.48" y1="358.30" x2="579.48" y2="361.30" stroke="#333" stroke-width="0.7" />
<text x="579.48" y="367.50" font-size="5.3" text-anchor="middle" fill="#1a1a1a" stroke="#1a1a1a" stroke-width="0.22" >AKT</text>
<rect x="562.30" y="340.81" width="5.33" height="17.49" fill="#fff" stroke="#3f7d45" stroke-width="0.8"/>
<line x1="564.97" y1="330.97" x2="564.97" y2="350.65" stroke="#3f7d45" stroke-width="0.7" />
<line x1="563.67" y1="330.97" x2="566.27" y2="330.97" stroke="#3f7d45" stroke-width="0.7" />
<line x1="563.67" y1="350.65" x2="566.27" y2="350.65" stroke="#3f7d45" stroke-width="0.7" />
<circle cx="564.97" cy="346.22" r="0.75" fill="#2b6a33"/>
<circle cx="564.97" cy="339.33" r="0.75" fill="#2b6a33"/>
<circle cx="564.97" cy="333.92" r="0.75" fill="#2b6a33"/>
<rect x="569.55" y="310.19" width="5.33" height="48.11" fill="#fff" stroke="#d8473d" stroke-width="0.8"/>
<line x1="572.22" y1="308.28" x2="572.22" y2="312.11" stroke="#d8473d" stroke-width="0.7" />
<line x1="570.92" y1="308.28" x2="573.52" y2="308.28" stroke="#d8473d" stroke-width="0.7" />
<line x1="570.92" y1="312.11" x2="573.52" y2="312.11" stroke="#d8473d" stroke-width="0.7" />
<circle cx="572.22" cy="311.25" r="0.75" fill="#c7372e"/>
<circle cx="572.22" cy="309.91" r="0.75" fill="#c7372e"/>
<circle cx="572.22" cy="308.85" r="0.75" fill="#c7372e"/>
<rect x="576.81" y="311.29" width="5.33" height="47.01" fill="#fff" stroke="#8e97bd" stroke-width="0.8"/>
<line x1="579.48" y1="309.37" x2="579.48" y2="313.20" stroke="#8e97bd" stroke-width="0.7" />
<line x1="578.18" y1="309.37" x2="580.77" y2="309.37" stroke="#8e97bd" stroke-width="0.7" />
<line x1="578.18" y1="313.20" x2="580.77" y2="313.20" stroke="#8e97bd" stroke-width="0.7" />
<circle cx="579.48" cy="312.34" r="0.75" fill="#6f79a6"/>
<circle cx="579.48" cy="311.00" r="0.75" fill="#6f79a6"/>
<circle cx="579.48" cy="309.95" r="0.75" fill="#6f79a6"/>
<rect x="584.06" y="313.47" width="5.33" height="44.83" fill="#fff" stroke="#4865ae" stroke-width="0.8"/>
<line x1="586.73" y1="292.15" x2="586.73" y2="334.79" stroke="#4865ae" stroke-width="0.7" />
<line x1="585.43" y1="292.15" x2="588.03" y2="292.15" stroke="#4865ae" stroke-width="0.7" />
<line x1="585.43" y1="334.79" x2="588.03" y2="334.79" stroke="#4865ae" stroke-width="0.7" />
<circle cx="586.73" cy="325.20" r="0.75" fill="#2f4f9e"/>
<circle cx="586.73" cy="310.28" r="0.75" fill="#2f4f9e"/>
<circle cx="586.73" cy="298.55" r="0.75" fill="#2f4f9e"/>
<rect x="591.31" y="335.34" width="5.33" height="22.96" fill="#fff" stroke="#56c3e4" stroke-width="0.8"/>
<line x1="593.98" y1="329.87" x2="593.98" y2="340.81" stroke="#56c3e4" stroke-width="0.7" />
<line x1="592.68" y1="329.87" x2="595.28" y2="329.87" stroke="#56c3e4" stroke-width="0.7" />
<line x1="592.68" y1="340.81" x2="595.28" y2="340.81" stroke="#56c3e4" stroke-width="0.7" />
<circle cx="593.98" cy="338.35" r="0.75" fill="#3fb0d8"/>
<circle cx="593.98" cy="334.52" r="0.75" fill="#3fb0d8"/>
<circle cx="593.98" cy="331.51" r="0.75" fill="#3fb0d8"/>
<line x1="620.23" y1="358.30" x2="620.23" y2="361.30" stroke="#333" stroke-width="0.7" />
<text x="620.23" y="367.50" font-size="5.3" text-anchor="middle" fill="#1a1a1a" stroke="#1a1a1a" stroke-width="0.22" >CDK2</text>
<rect x="603.05" y="304.73" width="5.33" height="53.57" fill="#fff" stroke="#3f7d45" stroke-width="0.8"/>
<line x1="605.72" y1="301.06" x2="605.72" y2="308.39" stroke="#3f7d45" stroke-width="0.7" />
<line x1="604.42" y1="301.06" x2="607.02" y2="301.06" stroke="#3f7d45" stroke-width="0.7" />
<line x1="604.42" y1="308.39" x2="607.02" y2="308.39" stroke="#3f7d45" stroke-width="0.7" />
<circle cx="605.72" cy="306.74" r="0.75" fill="#2b6a33"/>
<circle cx="605.72" cy="304.18" r="0.75" fill="#2b6a33"/>
<circle cx="605.72" cy="302.16" r="0.75" fill="#2b6a33"/>
<rect x="610.30" y="318.94" width="5.33" height="39.36" fill="#fff" stroke="#d8473d" stroke-width="0.8"/>
<line x1="612.97" y1="304.18" x2="612.97" y2="333.70" stroke="#d8473d" stroke-width="0.7" />
<line x1="611.67" y1="304.18" x2="614.27" y2="304.18" stroke="#d8473d" stroke-width="0.7" />
<line x1="611.67" y1="333.70" x2="614.27" y2="333.70" stroke="#d8473d" stroke-width="0.7" />
<circle cx="612.97" cy="327.06" r="0.75" fill="#c7372e"/>
<circle cx="612.97" cy="316.73" r="0.75" fill="#c7372e"/>
<circle cx="612.97" cy="308.61" r="0.75" fill="#c7372e"/>
<rect x="617.56" y="334.52" width="5.33" height="23.78" fill="#fff" stroke="#8e97bd" stroke-width="0.8"/>
<line x1="620.23" y1="316.48" x2="620.23" y2="352.56" stroke="#8e97bd" stroke-width="0.7" />
<line x1="618.93" y1="316.48" x2="621.52" y2="316.48" stroke="#8e97bd" stroke-width="0.7" />
<line x1="618.93" y1="352.56" x2="621.52" y2="352.56" stroke="#8e97bd" stroke-width="0.7" />
<circle cx="620.23" cy="344.44" r="0.75" fill="#6f79a6"/>
<circle cx="620.23" cy="331.81" r="0.75" fill="#6f79a6"/>
<circle cx="620.23" cy="321.89" r="0.75" fill="#6f79a6"/>
<rect x="624.81" y="333.15" width="5.33" height="25.15" fill="#fff" stroke="#4865ae" stroke-width="0.8"/>
<line x1="627.48" y1="315.11" x2="627.48" y2="351.19" stroke="#4865ae" stroke-width="0.7" />
<line x1="626.18" y1="315.11" x2="628.78" y2="315.11" stroke="#4865ae" stroke-width="0.7" />
<line x1="626.18" y1="351.19" x2="628.78" y2="351.19" stroke="#4865ae" stroke-width="0.7" />
<circle cx="627.48" cy="343.08" r="0.75" fill="#2f4f9e"/>
<circle cx="627.48" cy="330.45" r="0.75" fill="#2f4f9e"/>
<circle cx="627.48" cy="320.53" r="0.75" fill="#2f4f9e"/>
<rect x="632.06" y="339.17" width="5.33" height="19.13" fill="#fff" stroke="#56c3e4" stroke-width="0.8"/>
<line x1="634.73" y1="325.50" x2="634.73" y2="352.83" stroke="#56c3e4" stroke-width="0.7" />
<line x1="633.43" y1="325.50" x2="636.03" y2="325.50" stroke="#56c3e4" stroke-width="0.7" />
<line x1="633.43" y1="352.83" x2="636.03" y2="352.83" stroke="#56c3e4" stroke-width="0.7" />
<circle cx="634.73" cy="346.68" r="0.75" fill="#3fb0d8"/>
<circle cx="634.73" cy="337.12" r="0.75" fill="#3fb0d8"/>
<circle cx="634.73" cy="329.60" r="0.75" fill="#3fb0d8"/>
<line x1="660.98" y1="358.30" x2="660.98" y2="361.30" stroke="#333" stroke-width="0.7" />
<text x="660.98" y="367.50" font-size="5.3" text-anchor="middle" fill="#1a1a1a" stroke="#1a1a1a" stroke-width="0.22" >CDK4</text>
<rect x="643.80" y="318.39" width="5.33" height="39.91" fill="#fff" stroke="#3f7d45" stroke-width="0.8"/>
<line x1="646.47" y1="313.47" x2="646.47" y2="323.31" stroke="#3f7d45" stroke-width="0.7" />
<line x1="645.17" y1="313.47" x2="647.77" y2="313.47" stroke="#3f7d45" stroke-width="0.7" />
<line x1="645.17" y1="323.31" x2="647.77" y2="323.31" stroke="#3f7d45" stroke-width="0.7" />
<circle cx="646.47" cy="321.10" r="0.75" fill="#2b6a33"/>
<circle cx="646.47" cy="317.66" r="0.75" fill="#2b6a33"/>
<circle cx="646.47" cy="314.95" r="0.75" fill="#2b6a33"/>
<rect x="651.05" y="307.46" width="5.33" height="50.84" fill="#fff" stroke="#d8473d" stroke-width="0.8"/>
<line x1="653.72" y1="300.90" x2="653.72" y2="314.02" stroke="#d8473d" stroke-width="0.7" />
<line x1="652.42" y1="300.90" x2="655.02" y2="300.90" stroke="#d8473d" stroke-width="0.7" />
<line x1="652.42" y1="314.02" x2="655.02" y2="314.02" stroke="#d8473d" stroke-width="0.7" />
<circle cx="653.72" cy="311.07" r="0.75" fill="#c7372e"/>
<circle cx="653.72" cy="306.48" r="0.75" fill="#c7372e"/>
<circle cx="653.72" cy="302.87" r="0.75" fill="#c7372e"/>
<rect x="658.31" y="317.03" width="5.33" height="41.27" fill="#fff" stroke="#8e97bd" stroke-width="0.8"/>
<line x1="660.98" y1="303.36" x2="660.98" y2="330.69" stroke="#8e97bd" stroke-width="0.7" />
<line x1="659.68" y1="303.36" x2="662.27" y2="303.36" stroke="#8e97bd" stroke-width="0.7" />
<line x1="659.68" y1="330.69" x2="662.27" y2="330.69" stroke="#8e97bd" stroke-width="0.7" />
<circle cx="660.98" cy="324.54" r="0.75" fill="#6f79a6"/>
<circle cx="660.98" cy="314.98" r="0.75" fill="#6f79a6"/>
<circle cx="660.98" cy="307.46" r="0.75" fill="#6f79a6"/>
<rect x="665.56" y="323.86" width="5.33" height="34.44" fill="#fff" stroke="#4865ae" stroke-width="0.8"/>
<line x1="668.23" y1="300.35" x2="668.23" y2="347.37" stroke="#4865ae" stroke-width="0.7" />
<line x1="666.93" y1="300.35" x2="669.53" y2="300.35" stroke="#4865ae" stroke-width="0.7" />
<line x1="666.93" y1="347.37" x2="669.53" y2="347.37" stroke="#4865ae" stroke-width="0.7" />
<circle cx="668.23" cy="336.79" r="0.75" fill="#2f4f9e"/>
<circle cx="668.23" cy="320.33" r="0.75" fill="#2f4f9e"/>
<circle cx="668.23" cy="307.41" r="0.75" fill="#2f4f9e"/>
<rect x="672.81" y="336.43" width="5.33" height="21.87" fill="#fff" stroke="#56c3e4" stroke-width="0.8"/>
<line x1="675.48" y1="327.14" x2="675.48" y2="345.73" stroke="#56c3e4" stroke-width="0.7" />
<line x1="674.18" y1="327.14" x2="676.78" y2="327.14" stroke="#56c3e4" stroke-width="0.7" />
<line x1="674.18" y1="345.73" x2="676.78" y2="345.73" stroke="#56c3e4" stroke-width="0.7" />
<circle cx="675.48" cy="341.54" r="0.75" fill="#3fb0d8"/>
<circle cx="675.48" cy="335.04" r="0.75" fill="#3fb0d8"/>
<circle cx="675.48" cy="329.93" r="0.75" fill="#3fb0d8"/>
<text x="401.97" y="297.91" font-size="6.0" text-anchor="middle" fill="#222" stroke="#222" stroke-width="0.22" letter-spacing="0.15">*</text>
<text x="430.98" y="319.78" font-size="6.0" text-anchor="middle" fill="#222" stroke="#222" stroke-width="0.22" letter-spacing="0.15">*</text>
<text x="442.72" y="291.35" font-size="6.0" text-anchor="middle" fill="#222" stroke="#222" stroke-width="0.22" letter-spacing="0.15">***</text>
<text x="512.48" y="312.67" font-size="6.0" text-anchor="middle" fill="#222" stroke="#222" stroke-width="0.22" letter-spacing="0.15">*</text>
<text x="564.97" y="330.17" font-size="6.0" text-anchor="middle" fill="#222" stroke="#222" stroke-width="0.22" letter-spacing="0.15">**</text>
<text x="593.98" y="329.07" font-size="6.0" text-anchor="middle" fill="#222" stroke="#222" stroke-width="0.22" letter-spacing="0.15">**</text>
<text x="620.23" y="315.68" font-size="6.0" text-anchor="middle" fill="#222" stroke="#222" stroke-width="0.22" letter-spacing="0.15">*</text>
<text x="627.48" y="314.31" font-size="6.0" text-anchor="middle" fill="#222" stroke="#222" stroke-width="0.22" letter-spacing="0.15">*</text>
<text x="634.73" y="324.70" font-size="6.0" text-anchor="middle" fill="#222" stroke="#222" stroke-width="0.22" letter-spacing="0.15">*</text>
<text x="675.48" y="326.34" font-size="6.0" text-anchor="middle" fill="#222" stroke="#222" stroke-width="0.22" letter-spacing="0.15">**</text>
<rect x="610.90" y="275.30" width="3.5" height="3.5" fill="#d4473d"/>
<text x="616.60" y="278.80" font-size="5.0" text-anchor="start" fill="#222" stroke="#222" stroke-width="0.12" >DMSO</text>
<circle cx="637.60" cy="277.05" r="1.8" fill="#24602c"/>
<text x="642.00" y="278.80" font-size="5.0" text-anchor="start" fill="#222" stroke="#222" stroke-width="0.12" >NVP-AUY922</text>
<path d="M610.90 286.30 L612.60 282.70 L614.30 286.30Z" fill="#5266a8"/>
<text x="616.60" y="286.10" font-size="5.0" text-anchor="start" fill="#222" stroke="#222" stroke-width="0.12" >20 μM</text>
<path d="M635.80 282.70 L639.40 282.70 L637.60 286.30Z" fill="#233f96"/>
<text x="641.00" y="286.10" font-size="5.0" text-anchor="start" fill="#222" stroke="#222" stroke-width="0.12" >40 μM</text>
<path d="M660.00 282.50 L661.90 284.50 L660.00 286.50 L658.10 284.50Z" fill="#55c2e8"/>
<text x="664.00" y="286.10" font-size="5.0" text-anchor="start" fill="#222" stroke="#222" stroke-width="0.12" >60 μM</text>
<text x="401.30" y="389.80" font-size="8.0" text-anchor="start" fill="#1a1a1a" stroke="#1a1a1a" stroke-width="0.22" >LS174T</text>
<line x1="395.80" y1="392.90" x2="395.80" y2="475.40" stroke="#222" stroke-width="0.9" />
<line x1="395.80" y1="475.40" x2="684.50" y2="475.40" stroke="#222" stroke-width="0.9" />
<line x1="393.20" y1="475.40" x2="395.80" y2="475.40" stroke="#333" stroke-width="0.7" />
<text x="391.80" y="477.05" font-size="4.7" text-anchor="end" fill="#333" stroke="#333" stroke-width="0.22" >0.0</text>
<line x1="393.20" y1="448.07" x2="395.80" y2="448.07" stroke="#333" stroke-width="0.7" />
<text x="391.80" y="449.72" font-size="4.7" text-anchor="end" fill="#333" stroke="#333" stroke-width="0.22" >0.6</text>
<line x1="393.20" y1="420.73" x2="395.80" y2="420.73" stroke="#333" stroke-width="0.7" />
<text x="391.80" y="422.38" font-size="4.7" text-anchor="end" fill="#333" stroke="#333" stroke-width="0.22" >1.2</text>
<line x1="393.20" y1="393.40" x2="395.80" y2="393.40" stroke="#333" stroke-width="0.7" />
<text x="391.80" y="395.05" font-size="4.7" text-anchor="end" fill="#333" stroke="#333" stroke-width="0.22" >1.8</text>
<text x="0.00" y="0.00" font-size="6.33" text-anchor="middle" fill="#1a1a1a" stroke="#1a1a1a" stroke-width="0.22" transform="translate(380.7 431.5) rotate(-90)">Relative Protein Expression</text>
<line x1="416.48" y1="475.40" x2="416.48" y2="478.40" stroke="#333" stroke-width="0.7" />
<text x="416.48" y="485.60" font-size="5.3" text-anchor="middle" fill="#1a1a1a" stroke="#1a1a1a" stroke-width="0.22" >Hsp90</text>
<rect x="399.30" y="422.33" width="5.33" height="53.07" fill="#fff" stroke="#3f7d45" stroke-width="0.8"/>
<line x1="401.97" y1="409.57" x2="401.97" y2="435.08" stroke="#3f7d45" stroke-width="0.7" />
<line x1="400.67" y1="409.57" x2="403.27" y2="409.57" stroke="#3f7d45" stroke-width="0.7" />
<line x1="400.67" y1="435.08" x2="403.27" y2="435.08" stroke="#3f7d45" stroke-width="0.7" />
<circle cx="401.97" cy="429.34" r="0.75" fill="#2b6a33"/>
<circle cx="401.97" cy="420.41" r="0.75" fill="#2b6a33"/>
<circle cx="401.97" cy="413.40" r="0.75" fill="#2b6a33"/>
<rect x="406.55" y="424.83" width="5.33" height="50.57" fill="#fff" stroke="#d8473d" stroke-width="0.8"/>
<line x1="409.22" y1="409.80" x2="409.22" y2="439.87" stroke="#d8473d" stroke-width="0.7" />
<line x1="407.92" y1="409.80" x2="410.52" y2="409.80" stroke="#d8473d" stroke-width="0.7" />
<line x1="407.92" y1="439.87" x2="410.52" y2="439.87" stroke="#d8473d" stroke-width="0.7" />
<circle cx="409.22" cy="433.10" r="0.75" fill="#c7372e"/>
<circle cx="409.22" cy="422.58" r="0.75" fill="#c7372e"/>
<circle cx="409.22" cy="414.31" r="0.75" fill="#c7372e"/>
<rect x="413.81" y="430.76" width="5.33" height="44.64" fill="#fff" stroke="#8e97bd" stroke-width="0.8"/>
<line x1="416.48" y1="423.92" x2="416.48" y2="437.59" stroke="#8e97bd" stroke-width="0.7" />
<line x1="415.18" y1="423.92" x2="417.78" y2="423.92" stroke="#8e97bd" stroke-width="0.7" />
<line x1="415.18" y1="437.59" x2="417.78" y2="437.59" stroke="#8e97bd" stroke-width="0.7" />
<circle cx="416.48" cy="434.51" r="0.75" fill="#6f79a6"/>
<circle cx="416.48" cy="429.73" r="0.75" fill="#6f79a6"/>
<circle cx="416.48" cy="425.97" r="0.75" fill="#6f79a6"/>
<rect x="421.06" y="436.22" width="5.33" height="39.18" fill="#fff" stroke="#4865ae" stroke-width="0.8"/>
<line x1="423.73" y1="431.21" x2="423.73" y2="441.23" stroke="#4865ae" stroke-width="0.7" />
<line x1="422.43" y1="431.21" x2="425.03" y2="431.21" stroke="#4865ae" stroke-width="0.7" />
<line x1="422.43" y1="441.23" x2="425.03" y2="441.23" stroke="#4865ae" stroke-width="0.7" />
<circle cx="423.73" cy="438.98" r="0.75" fill="#2f4f9e"/>
<circle cx="423.73" cy="435.47" r="0.75" fill="#2f4f9e"/>
<circle cx="423.73" cy="432.71" r="0.75" fill="#2f4f9e"/>
<rect x="428.31" y="433.03" width="5.33" height="42.37" fill="#fff" stroke="#56c3e4" stroke-width="0.8"/>
<line x1="430.98" y1="428.48" x2="430.98" y2="437.59" stroke="#56c3e4" stroke-width="0.7" />
<line x1="429.68" y1="428.48" x2="432.28" y2="428.48" stroke="#56c3e4" stroke-width="0.7" />
<line x1="429.68" y1="437.59" x2="432.28" y2="437.59" stroke="#56c3e4" stroke-width="0.7" />
<circle cx="430.98" cy="435.54" r="0.75" fill="#3fb0d8"/>
<circle cx="430.98" cy="432.35" r="0.75" fill="#3fb0d8"/>
<circle cx="430.98" cy="429.84" r="0.75" fill="#3fb0d8"/>
<line x1="457.23" y1="475.40" x2="457.23" y2="478.40" stroke="#333" stroke-width="0.7" />
<text x="457.23" y="485.60" font-size="5.3" text-anchor="middle" fill="#1a1a1a" stroke="#1a1a1a" stroke-width="0.22" >Hsp70</text>
<rect x="440.05" y="417.09" width="5.33" height="58.31" fill="#fff" stroke="#3f7d45" stroke-width="0.8"/>
<line x1="442.72" y1="405.70" x2="442.72" y2="428.48" stroke="#3f7d45" stroke-width="0.7" />
<line x1="441.42" y1="405.70" x2="444.02" y2="405.70" stroke="#3f7d45" stroke-width="0.7" />
<line x1="441.42" y1="428.48" x2="444.02" y2="428.48" stroke="#3f7d45" stroke-width="0.7" />
<circle cx="442.72" cy="423.35" r="0.75" fill="#2b6a33"/>
<circle cx="442.72" cy="415.38" r="0.75" fill="#2b6a33"/>
<circle cx="442.72" cy="409.12" r="0.75" fill="#2b6a33"/>
<rect x="447.30" y="434.86" width="5.33" height="40.54" fill="#fff" stroke="#d8473d" stroke-width="0.8"/>
<line x1="449.97" y1="418.46" x2="449.97" y2="451.26" stroke="#d8473d" stroke-width="0.7" />
<line x1="448.67" y1="418.46" x2="451.27" y2="418.46" stroke="#d8473d" stroke-width="0.7" />
<line x1="448.67" y1="451.26" x2="451.27" y2="451.26" stroke="#d8473d" stroke-width="0.7" />
<circle cx="449.97" cy="443.88" r="0.75" fill="#c7372e"/>
<circle cx="449.97" cy="432.40" r="0.75" fill="#c7372e"/>
<circle cx="449.97" cy="423.38" r="0.75" fill="#c7372e"/>
<rect x="454.56" y="438.50" width="5.33" height="36.90" fill="#fff" stroke="#8e97bd" stroke-width="0.8"/>
<line x1="457.23" y1="434.86" x2="457.23" y2="442.14" stroke="#8e97bd" stroke-width="0.7" />
<line x1="455.93" y1="434.86" x2="458.53" y2="434.86" stroke="#8e97bd" stroke-width="0.7" />
<line x1="455.93" y1="442.14" x2="458.53" y2="442.14" stroke="#8e97bd" stroke-width="0.7" />
<circle cx="457.23" cy="440.50" r="0.75" fill="#6f79a6"/>
<circle cx="457.23" cy="437.95" r="0.75" fill="#6f79a6"/>
<circle cx="457.23" cy="435.95" r="0.75" fill="#6f79a6"/>
<rect x="461.81" y="437.13" width="5.33" height="38.27" fill="#fff" stroke="#4865ae" stroke-width="0.8"/>
<line x1="464.48" y1="433.49" x2="464.48" y2="440.78" stroke="#4865ae" stroke-width="0.7" />
<line x1="463.18" y1="433.49" x2="465.78" y2="433.49" stroke="#4865ae" stroke-width="0.7" />
<line x1="463.18" y1="440.78" x2="465.78" y2="440.78" stroke="#4865ae" stroke-width="0.7" />
<circle cx="464.48" cy="439.14" r="0.75" fill="#2f4f9e"/>
<circle cx="464.48" cy="436.59" r="0.75" fill="#2f4f9e"/>
<circle cx="464.48" cy="434.58" r="0.75" fill="#2f4f9e"/>
<rect x="469.06" y="449.43" width="5.33" height="25.97" fill="#fff" stroke="#56c3e4" stroke-width="0.8"/>
<line x1="471.73" y1="443.51" x2="471.73" y2="455.36" stroke="#56c3e4" stroke-width="0.7" />
<line x1="470.43" y1="443.51" x2="473.03" y2="443.51" stroke="#56c3e4" stroke-width="0.7" />
<line x1="470.43" y1="455.36" x2="473.03" y2="455.36" stroke="#56c3e4" stroke-width="0.7" />
<circle cx="471.73" cy="452.69" r="0.75" fill="#3fb0d8"/>
<circle cx="471.73" cy="448.54" r="0.75" fill="#3fb0d8"/>
<circle cx="471.73" cy="445.29" r="0.75" fill="#3fb0d8"/>
<line x1="497.98" y1="475.40" x2="497.98" y2="478.40" stroke="#333" stroke-width="0.7" />
<text x="497.98" y="485.60" font-size="5.3" text-anchor="middle" fill="#1a1a1a" stroke="#1a1a1a" stroke-width="0.22" >HSF1</text>
<rect x="480.80" y="431.21" width="5.33" height="44.19" fill="#fff" stroke="#3f7d45" stroke-width="0.8"/>
<line x1="483.47" y1="408.43" x2="483.47" y2="453.99" stroke="#3f7d45" stroke-width="0.7" />
<line x1="482.17" y1="408.43" x2="484.77" y2="408.43" stroke="#3f7d45" stroke-width="0.7" />
<line x1="482.17" y1="453.99" x2="484.77" y2="453.99" stroke="#3f7d45" stroke-width="0.7" />
<circle cx="483.47" cy="443.74" r="0.75" fill="#2b6a33"/>
<circle cx="483.47" cy="427.79" r="0.75" fill="#2b6a33"/>
<circle cx="483.47" cy="415.27" r="0.75" fill="#2b6a33"/>
<rect x="488.05" y="438.50" width="5.33" height="36.90" fill="#fff" stroke="#d8473d" stroke-width="0.8"/>
<line x1="490.72" y1="432.58" x2="490.72" y2="444.42" stroke="#d8473d" stroke-width="0.7" />
<line x1="489.42" y1="432.58" x2="492.02" y2="432.58" stroke="#d8473d" stroke-width="0.7" />
<line x1="489.42" y1="444.42" x2="492.02" y2="444.42" stroke="#d8473d" stroke-width="0.7" />
<circle cx="490.72" cy="441.76" r="0.75" fill="#c7372e"/>
<circle cx="490.72" cy="437.61" r="0.75" fill="#c7372e"/>
<circle cx="490.72" cy="434.35" r="0.75" fill="#c7372e"/>
<rect x="495.31" y="443.51" width="5.33" height="31.89" fill="#fff" stroke="#8e97bd" stroke-width="0.8"/>
<line x1="497.98" y1="436.68" x2="497.98" y2="450.34" stroke="#8e97bd" stroke-width="0.7" />
<line x1="496.68" y1="436.68" x2="499.28" y2="436.68" stroke="#8e97bd" stroke-width="0.7" />
<line x1="496.68" y1="450.34" x2="499.28" y2="450.34" stroke="#8e97bd" stroke-width="0.7" />
<circle cx="497.98" cy="447.27" r="0.75" fill="#6f79a6"/>
<circle cx="497.98" cy="442.49" r="0.75" fill="#6f79a6"/>
<circle cx="497.98" cy="438.73" r="0.75" fill="#6f79a6"/>
<rect x="502.56" y="444.42" width="5.33" height="30.98" fill="#fff" stroke="#4865ae" stroke-width="0.8"/>
<line x1="505.23" y1="429.84" x2="505.23" y2="459.00" stroke="#4865ae" stroke-width="0.7" />
<line x1="503.93" y1="429.84" x2="506.53" y2="429.84" stroke="#4865ae" stroke-width="0.7" />
<line x1="503.93" y1="459.00" x2="506.53" y2="459.00" stroke="#4865ae" stroke-width="0.7" />
<circle cx="505.23" cy="452.44" r="0.75" fill="#2f4f9e"/>
<circle cx="505.23" cy="442.24" r="0.75" fill="#2f4f9e"/>
<circle cx="505.23" cy="434.22" r="0.75" fill="#2f4f9e"/>
<rect x="509.81" y="449.43" width="5.33" height="25.97" fill="#fff" stroke="#56c3e4" stroke-width="0.8"/>
<line x1="512.48" y1="430.30" x2="512.48" y2="468.57" stroke="#56c3e4" stroke-width="0.7" />
<line x1="511.18" y1="430.30" x2="513.78" y2="430.30" stroke="#56c3e4" stroke-width="0.7" />
<line x1="511.18" y1="468.57" x2="513.78" y2="468.57" stroke="#56c3e4" stroke-width="0.7" />
<circle cx="512.48" cy="459.96" r="0.75" fill="#3fb0d8"/>
<circle cx="512.48" cy="446.56" r="0.75" fill="#3fb0d8"/>
<circle cx="512.48" cy="436.04" r="0.75" fill="#3fb0d8"/>
<line x1="538.73" y1="475.40" x2="538.73" y2="478.40" stroke="#333" stroke-width="0.7" />
<text x="538.73" y="485.60" font-size="5.3" text-anchor="middle" fill="#1a1a1a" stroke="#1a1a1a" stroke-width="0.22" >Aha1</text>
<rect x="521.55" y="424.38" width="5.33" height="51.02" fill="#fff" stroke="#3f7d45" stroke-width="0.8"/>
<line x1="524.22" y1="412.99" x2="524.22" y2="435.77" stroke="#3f7d45" stroke-width="0.7" />
<line x1="522.92" y1="412.99" x2="525.52" y2="412.99" stroke="#3f7d45" stroke-width="0.7" />
<line x1="522.92" y1="435.77" x2="525.52" y2="435.77" stroke="#3f7d45" stroke-width="0.7" />
<circle cx="524.22" cy="430.64" r="0.75" fill="#2b6a33"/>
<circle cx="524.22" cy="422.67" r="0.75" fill="#2b6a33"/>
<circle cx="524.22" cy="416.41" r="0.75" fill="#2b6a33"/>
<rect x="528.80" y="433.49" width="5.33" height="41.91" fill="#fff" stroke="#d8473d" stroke-width="0.8"/>
<line x1="531.47" y1="428.02" x2="531.47" y2="438.96" stroke="#d8473d" stroke-width="0.7" />
<line x1="530.17" y1="428.02" x2="532.77" y2="428.02" stroke="#d8473d" stroke-width="0.7" />
<line x1="530.17" y1="438.96" x2="532.77" y2="438.96" stroke="#d8473d" stroke-width="0.7" />
<circle cx="531.47" cy="436.50" r="0.75" fill="#c7372e"/>
<circle cx="531.47" cy="432.67" r="0.75" fill="#c7372e"/>
<circle cx="531.47" cy="429.66" r="0.75" fill="#c7372e"/>
<rect x="536.06" y="437.59" width="5.33" height="37.81" fill="#fff" stroke="#8e97bd" stroke-width="0.8"/>
<line x1="538.73" y1="433.03" x2="538.73" y2="442.14" stroke="#8e97bd" stroke-width="0.7" />
<line x1="537.43" y1="433.03" x2="540.02" y2="433.03" stroke="#8e97bd" stroke-width="0.7" />
<line x1="537.43" y1="442.14" x2="540.02" y2="442.14" stroke="#8e97bd" stroke-width="0.7" />
<circle cx="538.73" cy="440.09" r="0.75" fill="#6f79a6"/>
<circle cx="538.73" cy="436.91" r="0.75" fill="#6f79a6"/>
<circle cx="538.73" cy="434.40" r="0.75" fill="#6f79a6"/>
<rect x="543.31" y="436.22" width="5.33" height="39.18" fill="#fff" stroke="#4865ae" stroke-width="0.8"/>
<line x1="545.98" y1="430.76" x2="545.98" y2="441.69" stroke="#4865ae" stroke-width="0.7" />
<line x1="544.68" y1="430.76" x2="547.28" y2="430.76" stroke="#4865ae" stroke-width="0.7" />
<line x1="544.68" y1="441.69" x2="547.28" y2="441.69" stroke="#4865ae" stroke-width="0.7" />
<circle cx="545.98" cy="439.23" r="0.75" fill="#2f4f9e"/>
<circle cx="545.98" cy="435.40" r="0.75" fill="#2f4f9e"/>
<circle cx="545.98" cy="432.40" r="0.75" fill="#2f4f9e"/>
<rect x="550.56" y="432.58" width="5.33" height="42.82" fill="#fff" stroke="#56c3e4" stroke-width="0.8"/>
<line x1="553.23" y1="414.36" x2="553.23" y2="450.80" stroke="#56c3e4" stroke-width="0.7" />
<line x1="551.93" y1="414.36" x2="554.53" y2="414.36" stroke="#56c3e4" stroke-width="0.7" />
<line x1="551.93" y1="450.80" x2="554.53" y2="450.80" stroke="#56c3e4" stroke-width="0.7" />
<circle cx="553.23" cy="442.60" r="0.75" fill="#3fb0d8"/>
<circle cx="553.23" cy="429.84" r="0.75" fill="#3fb0d8"/>
<circle cx="553.23" cy="419.82" r="0.75" fill="#3fb0d8"/>
<line x1="579.48" y1="475.40" x2="579.48" y2="478.40" stroke="#333" stroke-width="0.7" />
<text x="579.48" y="485.60" font-size="5.3" text-anchor="middle" fill="#1a1a1a" stroke="#1a1a1a" stroke-width="0.22" >AKT</text>
<rect x="562.30" y="445.33" width="5.33" height="30.07" fill="#fff" stroke="#3f7d45" stroke-width="0.8"/>
<line x1="564.97" y1="439.87" x2="564.97" y2="450.80" stroke="#3f7d45" stroke-width="0.7" />
<line x1="563.67" y1="439.87" x2="566.27" y2="439.87" stroke="#3f7d45" stroke-width="0.7" />
<line x1="563.67" y1="450.80" x2="566.27" y2="450.80" stroke="#3f7d45" stroke-width="0.7" />
<circle cx="564.97" cy="448.34" r="0.75" fill="#2b6a33"/>
<circle cx="564.97" cy="444.51" r="0.75" fill="#2b6a33"/>
<circle cx="564.97" cy="441.51" r="0.75" fill="#2b6a33"/>
<rect x="569.55" y="430.30" width="5.33" height="45.10" fill="#fff" stroke="#d8473d" stroke-width="0.8"/>
<line x1="572.22" y1="420.28" x2="572.22" y2="440.32" stroke="#d8473d" stroke-width="0.7" />
<line x1="570.92" y1="420.28" x2="573.52" y2="420.28" stroke="#d8473d" stroke-width="0.7" />
<line x1="570.92" y1="440.32" x2="573.52" y2="440.32" stroke="#d8473d" stroke-width="0.7" />
<circle cx="572.22" cy="435.81" r="0.75" fill="#c7372e"/>
<circle cx="572.22" cy="428.80" r="0.75" fill="#c7372e"/>
<circle cx="572.22" cy="423.28" r="0.75" fill="#c7372e"/>
<rect x="576.81" y="438.27" width="5.33" height="37.13" fill="#fff" stroke="#8e97bd" stroke-width="0.8"/>
<line x1="579.48" y1="430.98" x2="579.48" y2="445.56" stroke="#8e97bd" stroke-width="0.7" />
<line x1="578.18" y1="430.98" x2="580.77" y2="430.98" stroke="#8e97bd" stroke-width="0.7" />
<line x1="578.18" y1="445.56" x2="580.77" y2="445.56" stroke="#8e97bd" stroke-width="0.7" />
<circle cx="579.48" cy="442.28" r="0.75" fill="#6f79a6"/>
<circle cx="579.48" cy="437.18" r="0.75" fill="#6f79a6"/>
<circle cx="579.48" cy="433.17" r="0.75" fill="#6f79a6"/>
<rect x="584.06" y="445.33" width="5.33" height="30.07" fill="#fff" stroke="#4865ae" stroke-width="0.8"/>
<line x1="586.73" y1="433.94" x2="586.73" y2="456.72" stroke="#4865ae" stroke-width="0.7" />
<line x1="585.43" y1="433.94" x2="588.03" y2="433.94" stroke="#4865ae" stroke-width="0.7" />
<line x1="585.43" y1="456.72" x2="588.03" y2="456.72" stroke="#4865ae" stroke-width="0.7" />
<circle cx="586.73" cy="451.60" r="0.75" fill="#2f4f9e"/>
<circle cx="586.73" cy="443.62" r="0.75" fill="#2f4f9e"/>
<circle cx="586.73" cy="437.36" r="0.75" fill="#2f4f9e"/>
<rect x="591.31" y="450.80" width="5.33" height="24.60" fill="#fff" stroke="#56c3e4" stroke-width="0.8"/>
<line x1="593.98" y1="443.51" x2="593.98" y2="458.09" stroke="#56c3e4" stroke-width="0.7" />
<line x1="592.68" y1="443.51" x2="595.28" y2="443.51" stroke="#56c3e4" stroke-width="0.7" />
<line x1="592.68" y1="458.09" x2="595.28" y2="458.09" stroke="#56c3e4" stroke-width="0.7" />
<circle cx="593.98" cy="454.81" r="0.75" fill="#3fb0d8"/>
<circle cx="593.98" cy="449.71" r="0.75" fill="#3fb0d8"/>
<circle cx="593.98" cy="445.70" r="0.75" fill="#3fb0d8"/>
<line x1="620.23" y1="475.40" x2="620.23" y2="478.40" stroke="#333" stroke-width="0.7" />
<text x="620.23" y="485.60" font-size="5.3" text-anchor="middle" fill="#1a1a1a" stroke="#1a1a1a" stroke-width="0.22" >CDK2</text>
<rect x="603.05" y="432.12" width="5.33" height="43.28" fill="#fff" stroke="#3f7d45" stroke-width="0.8"/>
<line x1="605.72" y1="424.38" x2="605.72" y2="439.87" stroke="#3f7d45" stroke-width="0.7" />
<line x1="604.42" y1="424.38" x2="607.02" y2="424.38" stroke="#3f7d45" stroke-width="0.7" />
<line x1="604.42" y1="439.87" x2="607.02" y2="439.87" stroke="#3f7d45" stroke-width="0.7" />
<circle cx="605.72" cy="436.38" r="0.75" fill="#2b6a33"/>
<circle cx="605.72" cy="430.96" r="0.75" fill="#2b6a33"/>
<circle cx="605.72" cy="426.70" r="0.75" fill="#2b6a33"/>
<rect x="610.30" y="425.29" width="5.33" height="50.11" fill="#fff" stroke="#d8473d" stroke-width="0.8"/>
<line x1="612.97" y1="413.44" x2="612.97" y2="437.13" stroke="#d8473d" stroke-width="0.7" />
<line x1="611.67" y1="413.44" x2="614.27" y2="413.44" stroke="#d8473d" stroke-width="0.7" />
<line x1="611.67" y1="437.13" x2="614.27" y2="437.13" stroke="#d8473d" stroke-width="0.7" />
<circle cx="612.97" cy="431.80" r="0.75" fill="#c7372e"/>
<circle cx="612.97" cy="423.51" r="0.75" fill="#c7372e"/>
<circle cx="612.97" cy="417.00" r="0.75" fill="#c7372e"/>
<rect x="617.56" y="436.22" width="5.33" height="39.18" fill="#fff" stroke="#8e97bd" stroke-width="0.8"/>
<line x1="620.23" y1="430.76" x2="620.23" y2="441.69" stroke="#8e97bd" stroke-width="0.7" />
<line x1="618.93" y1="430.76" x2="621.52" y2="430.76" stroke="#8e97bd" stroke-width="0.7" />
<line x1="618.93" y1="441.69" x2="621.52" y2="441.69" stroke="#8e97bd" stroke-width="0.7" />
<circle cx="620.23" cy="439.23" r="0.75" fill="#6f79a6"/>
<circle cx="620.23" cy="435.40" r="0.75" fill="#6f79a6"/>
<circle cx="620.23" cy="432.40" r="0.75" fill="#6f79a6"/>
<rect x="624.81" y="444.42" width="5.33" height="30.98" fill="#fff" stroke="#4865ae" stroke-width="0.8"/>
<line x1="627.48" y1="436.68" x2="627.48" y2="452.17" stroke="#4865ae" stroke-width="0.7" />
<line x1="626.18" y1="436.68" x2="628.78" y2="436.68" stroke="#4865ae" stroke-width="0.7" />
<line x1="626.18" y1="452.17" x2="628.78" y2="452.17" stroke="#4865ae" stroke-width="0.7" />
<circle cx="627.48" cy="448.68" r="0.75" fill="#2f4f9e"/>
<circle cx="627.48" cy="443.26" r="0.75" fill="#2f4f9e"/>
<circle cx="627.48" cy="439.00" r="0.75" fill="#2f4f9e"/>
<rect x="632.06" y="461.73" width="5.33" height="13.67" fill="#fff" stroke="#56c3e4" stroke-width="0.8"/>
<line x1="634.73" y1="453.99" x2="634.73" y2="469.48" stroke="#56c3e4" stroke-width="0.7" />
<line x1="633.43" y1="453.99" x2="636.03" y2="453.99" stroke="#56c3e4" stroke-width="0.7" />
<line x1="633.43" y1="469.48" x2="636.03" y2="469.48" stroke="#56c3e4" stroke-width="0.7" />
<circle cx="634.73" cy="465.99" r="0.75" fill="#3fb0d8"/>
<circle cx="634.73" cy="460.57" r="0.75" fill="#3fb0d8"/>
<circle cx="634.73" cy="456.31" r="0.75" fill="#3fb0d8"/>
<line x1="660.98" y1="475.40" x2="660.98" y2="478.40" stroke="#333" stroke-width="0.7" />
<text x="660.98" y="485.60" font-size="5.3" text-anchor="middle" fill="#1a1a1a" stroke="#1a1a1a" stroke-width="0.22" >CDK4</text>
<rect x="643.80" y="419.37" width="5.33" height="56.03" fill="#fff" stroke="#3f7d45" stroke-width="0.8"/>
<line x1="646.47" y1="412.99" x2="646.47" y2="425.74" stroke="#3f7d45" stroke-width="0.7" />
<line x1="645.17" y1="412.99" x2="647.77" y2="412.99" stroke="#3f7d45" stroke-width="0.7" />
<line x1="645.17" y1="425.74" x2="647.77" y2="425.74" stroke="#3f7d45" stroke-width="0.7" />
<circle cx="646.47" cy="422.87" r="0.75" fill="#2b6a33"/>
<circle cx="646.47" cy="418.41" r="0.75" fill="#2b6a33"/>
<circle cx="646.47" cy="414.90" r="0.75" fill="#2b6a33"/>
<rect x="651.05" y="420.73" width="5.33" height="54.67" fill="#fff" stroke="#d8473d" stroke-width="0.8"/>
<line x1="653.72" y1="407.98" x2="653.72" y2="433.49" stroke="#d8473d" stroke-width="0.7" />
<line x1="652.42" y1="407.98" x2="655.02" y2="407.98" stroke="#d8473d" stroke-width="0.7" />
<line x1="652.42" y1="433.49" x2="655.02" y2="433.49" stroke="#d8473d" stroke-width="0.7" />
<circle cx="653.72" cy="427.75" r="0.75" fill="#c7372e"/>
<circle cx="653.72" cy="418.82" r="0.75" fill="#c7372e"/>
<circle cx="653.72" cy="411.80" r="0.75" fill="#c7372e"/>
<rect x="658.31" y="431.67" width="5.33" height="43.73" fill="#fff" stroke="#8e97bd" stroke-width="0.8"/>
<line x1="660.98" y1="426.20" x2="660.98" y2="437.13" stroke="#8e97bd" stroke-width="0.7" />
<line x1="659.68" y1="426.20" x2="662.27" y2="426.20" stroke="#8e97bd" stroke-width="0.7" />
<line x1="659.68" y1="437.13" x2="662.27" y2="437.13" stroke="#8e97bd" stroke-width="0.7" />
<circle cx="660.98" cy="434.67" r="0.75" fill="#6f79a6"/>
<circle cx="660.98" cy="430.85" r="0.75" fill="#6f79a6"/>
<circle cx="660.98" cy="427.84" r="0.75" fill="#6f79a6"/>
<rect x="665.56" y="436.68" width="5.33" height="38.72" fill="#fff" stroke="#4865ae" stroke-width="0.8"/>
<line x1="668.23" y1="430.30" x2="668.23" y2="443.06" stroke="#4865ae" stroke-width="0.7" />
<line x1="666.93" y1="430.30" x2="669.53" y2="430.30" stroke="#4865ae" stroke-width="0.7" />
<line x1="666.93" y1="443.06" x2="669.53" y2="443.06" stroke="#4865ae" stroke-width="0.7" />
<circle cx="668.23" cy="440.19" r="0.75" fill="#2f4f9e"/>
<circle cx="668.23" cy="435.72" r="0.75" fill="#2f4f9e"/>
<circle cx="668.23" cy="432.21" r="0.75" fill="#2f4f9e"/>
<rect x="672.81" y="451.26" width="5.33" height="24.14" fill="#fff" stroke="#56c3e4" stroke-width="0.8"/>
<line x1="675.48" y1="446.70" x2="675.48" y2="455.81" stroke="#56c3e4" stroke-width="0.7" />
<line x1="674.18" y1="446.70" x2="676.78" y2="446.70" stroke="#56c3e4" stroke-width="0.7" />
<line x1="674.18" y1="455.81" x2="676.78" y2="455.81" stroke="#56c3e4" stroke-width="0.7" />
<circle cx="675.48" cy="453.76" r="0.75" fill="#3fb0d8"/>
<circle cx="675.48" cy="450.57" r="0.75" fill="#3fb0d8"/>
<circle cx="675.48" cy="448.07" r="0.75" fill="#3fb0d8"/>
<text x="593.98" y="442.71" font-size="6.0" text-anchor="middle" fill="#222" stroke="#222" stroke-width="0.22" letter-spacing="0.15">*</text>
<text x="634.73" y="453.19" font-size="6.0" text-anchor="middle" fill="#222" stroke="#222" stroke-width="0.22" letter-spacing="0.15">**</text>
<text x="675.48" y="445.90" font-size="6.0" text-anchor="middle" fill="#222" stroke="#222" stroke-width="0.22" letter-spacing="0.15">*</text>
<rect x="612.20" y="386.90" width="3.5" height="3.5" fill="#d4473d"/>
<text x="617.90" y="390.40" font-size="5.0" text-anchor="start" fill="#222" stroke="#222" stroke-width="0.12" >DMSO</text>
<circle cx="638.90" cy="388.65" r="1.8" fill="#24602c"/>
<text x="643.30" y="390.40" font-size="5.0" text-anchor="start" fill="#222" stroke="#222" stroke-width="0.12" >NVP-AUY922</text>
<path d="M612.20 397.80 L613.90 394.20 L615.60 397.80Z" fill="#5266a8"/>
<text x="617.90" y="397.60" font-size="5.0" text-anchor="start" fill="#222" stroke="#222" stroke-width="0.12" >20 μM</text>
<path d="M637.10 394.20 L640.70 394.20 L638.90 397.80Z" fill="#233f96"/>
<text x="642.30" y="397.60" font-size="5.0" text-anchor="start" fill="#222" stroke="#222" stroke-width="0.12" >40 μM</text>
<path d="M661.30 394.00 L663.20 396.00 L661.30 398.00 L659.40 396.00Z" fill="#55c2e8"/>
<text x="665.30" y="397.60" font-size="5.0" text-anchor="start" fill="#222" stroke="#222" stroke-width="0.12" >80 μM</text>
<text x="399.60" y="503.00" font-size="8.0" text-anchor="start" fill="#1a1a1a" stroke="#1a1a1a" stroke-width="0.22" >HCT116</text>
<line x1="395.80" y1="506.20" x2="395.80" y2="589.10" stroke="#222" stroke-width="0.9" />
<line x1="395.80" y1="589.10" x2="684.50" y2="589.10" stroke="#222" stroke-width="0.9" />
<line x1="393.20" y1="589.10" x2="395.80" y2="589.10" stroke="#333" stroke-width="0.7" />
<text x="391.80" y="590.75" font-size="4.7" text-anchor="end" fill="#333" stroke="#333" stroke-width="0.22" >0.0</text>
<line x1="393.20" y1="561.63" x2="395.80" y2="561.63" stroke="#333" stroke-width="0.7" />
<text x="391.80" y="563.28" font-size="4.7" text-anchor="end" fill="#333" stroke="#333" stroke-width="0.22" >0.6</text>
<line x1="393.20" y1="534.17" x2="395.80" y2="534.17" stroke="#333" stroke-width="0.7" />
<text x="391.80" y="535.82" font-size="4.7" text-anchor="end" fill="#333" stroke="#333" stroke-width="0.22" >1.2</text>
<line x1="393.20" y1="506.70" x2="395.80" y2="506.70" stroke="#333" stroke-width="0.7" />
<text x="391.80" y="508.35" font-size="4.7" text-anchor="end" fill="#333" stroke="#333" stroke-width="0.22" >1.8</text>
<text x="0.00" y="0.00" font-size="6.33" text-anchor="middle" fill="#1a1a1a" stroke="#1a1a1a" stroke-width="0.22" transform="translate(380.7 545.2) rotate(-90)">Relative Protein Expression</text>
<line x1="416.48" y1="589.10" x2="416.48" y2="592.10" stroke="#333" stroke-width="0.7" />
<text x="416.48" y="598.40" font-size="5.3" text-anchor="middle" fill="#1a1a1a" stroke="#1a1a1a" stroke-width="0.22" >Hsp90</text>
<rect x="399.30" y="544.24" width="5.33" height="44.86" fill="#fff" stroke="#3f7d45" stroke-width="0.8"/>
<line x1="401.97" y1="534.62" x2="401.97" y2="553.85" stroke="#3f7d45" stroke-width="0.7" />
<line x1="400.67" y1="534.62" x2="403.27" y2="534.62" stroke="#3f7d45" stroke-width="0.7" />
<line x1="400.67" y1="553.85" x2="403.27" y2="553.85" stroke="#3f7d45" stroke-width="0.7" />
<circle cx="401.97" cy="549.53" r="0.75" fill="#2b6a33"/>
<circle cx="401.97" cy="542.80" r="0.75" fill="#2b6a33"/>
<circle cx="401.97" cy="537.51" r="0.75" fill="#2b6a33"/>
<rect x="406.55" y="553.39" width="5.33" height="35.71" fill="#fff" stroke="#d8473d" stroke-width="0.8"/>
<line x1="409.22" y1="541.03" x2="409.22" y2="565.75" stroke="#d8473d" stroke-width="0.7" />
<line x1="407.92" y1="541.03" x2="410.52" y2="541.03" stroke="#d8473d" stroke-width="0.7" />
<line x1="407.92" y1="565.75" x2="410.52" y2="565.75" stroke="#d8473d" stroke-width="0.7" />
<circle cx="409.22" cy="560.19" r="0.75" fill="#c7372e"/>
<circle cx="409.22" cy="551.54" r="0.75" fill="#c7372e"/>
<circle cx="409.22" cy="544.74" r="0.75" fill="#c7372e"/>
<rect x="413.81" y="544.24" width="5.33" height="44.86" fill="#fff" stroke="#8e97bd" stroke-width="0.8"/>
<line x1="416.48" y1="523.64" x2="416.48" y2="564.84" stroke="#8e97bd" stroke-width="0.7" />
<line x1="415.18" y1="523.64" x2="417.78" y2="523.64" stroke="#8e97bd" stroke-width="0.7" />
<line x1="415.18" y1="564.84" x2="417.78" y2="564.84" stroke="#8e97bd" stroke-width="0.7" />
<circle cx="416.48" cy="555.57" r="0.75" fill="#6f79a6"/>
<circle cx="416.48" cy="541.15" r="0.75" fill="#6f79a6"/>
<circle cx="416.48" cy="529.82" r="0.75" fill="#6f79a6"/>
<rect x="421.06" y="542.86" width="5.33" height="46.24" fill="#fff" stroke="#4865ae" stroke-width="0.8"/>
<line x1="423.73" y1="523.64" x2="423.73" y2="562.09" stroke="#4865ae" stroke-width="0.7" />
<line x1="422.43" y1="523.64" x2="425.03" y2="523.64" stroke="#4865ae" stroke-width="0.7" />
<line x1="422.43" y1="562.09" x2="425.03" y2="562.09" stroke="#4865ae" stroke-width="0.7" />
<circle cx="423.73" cy="553.44" r="0.75" fill="#2f4f9e"/>
<circle cx="423.73" cy="539.98" r="0.75" fill="#2f4f9e"/>
<circle cx="423.73" cy="529.41" r="0.75" fill="#2f4f9e"/>
<rect x="428.31" y="552.48" width="5.33" height="36.62" fill="#fff" stroke="#56c3e4" stroke-width="0.8"/>
<line x1="430.98" y1="537.37" x2="430.98" y2="567.58" stroke="#56c3e4" stroke-width="0.7" />
<line x1="429.68" y1="537.37" x2="432.28" y2="537.37" stroke="#56c3e4" stroke-width="0.7" />
<line x1="429.68" y1="567.58" x2="432.28" y2="567.58" stroke="#56c3e4" stroke-width="0.7" />
<circle cx="430.98" cy="560.79" r="0.75" fill="#3fb0d8"/>
<circle cx="430.98" cy="550.21" r="0.75" fill="#3fb0d8"/>
<circle cx="430.98" cy="541.90" r="0.75" fill="#3fb0d8"/>
<line x1="457.23" y1="589.10" x2="457.23" y2="592.10" stroke="#333" stroke-width="0.7" />
<text x="457.23" y="598.40" font-size="5.3" text-anchor="middle" fill="#1a1a1a" stroke="#1a1a1a" stroke-width="0.22" >Hsp70</text>
<rect x="440.05" y="542.86" width="5.33" height="46.24" fill="#fff" stroke="#3f7d45" stroke-width="0.8"/>
<line x1="442.72" y1="534.62" x2="442.72" y2="551.10" stroke="#3f7d45" stroke-width="0.7" />
<line x1="441.42" y1="534.62" x2="444.02" y2="534.62" stroke="#3f7d45" stroke-width="0.7" />
<line x1="441.42" y1="551.10" x2="444.02" y2="551.10" stroke="#3f7d45" stroke-width="0.7" />
<circle cx="442.72" cy="547.40" r="0.75" fill="#2b6a33"/>
<circle cx="442.72" cy="541.63" r="0.75" fill="#2b6a33"/>
<circle cx="442.72" cy="537.10" r="0.75" fill="#2b6a33"/>
<rect x="447.30" y="560.26" width="5.33" height="28.84" fill="#fff" stroke="#d8473d" stroke-width="0.8"/>
<line x1="449.97" y1="559.34" x2="449.97" y2="561.18" stroke="#d8473d" stroke-width="0.7" />
<line x1="448.67" y1="559.34" x2="451.27" y2="559.34" stroke="#d8473d" stroke-width="0.7" />
<line x1="448.67" y1="561.18" x2="451.27" y2="561.18" stroke="#d8473d" stroke-width="0.7" />
<circle cx="449.97" cy="560.76" r="0.75" fill="#c7372e"/>
<circle cx="449.97" cy="560.12" r="0.75" fill="#c7372e"/>
<circle cx="449.97" cy="559.62" r="0.75" fill="#c7372e"/>
<rect x="454.56" y="560.26" width="5.33" height="28.84" fill="#fff" stroke="#8e97bd" stroke-width="0.8"/>
<line x1="457.23" y1="555.68" x2="457.23" y2="564.84" stroke="#8e97bd" stroke-width="0.7" />
<line x1="455.93" y1="555.68" x2="458.53" y2="555.68" stroke="#8e97bd" stroke-width="0.7" />
<line x1="455.93" y1="564.84" x2="458.53" y2="564.84" stroke="#8e97bd" stroke-width="0.7" />
<circle cx="457.23" cy="562.78" r="0.75" fill="#6f79a6"/>
<circle cx="457.23" cy="559.57" r="0.75" fill="#6f79a6"/>
<circle cx="457.23" cy="557.06" r="0.75" fill="#6f79a6"/>
<rect x="461.81" y="557.97" width="5.33" height="31.13" fill="#fff" stroke="#4865ae" stroke-width="0.8"/>
<line x1="464.48" y1="544.70" x2="464.48" y2="571.25" stroke="#4865ae" stroke-width="0.7" />
<line x1="463.18" y1="544.70" x2="465.78" y2="544.70" stroke="#4865ae" stroke-width="0.7" />
<line x1="463.18" y1="571.25" x2="465.78" y2="571.25" stroke="#4865ae" stroke-width="0.7" />
<circle cx="464.48" cy="565.27" r="0.75" fill="#2f4f9e"/>
<circle cx="464.48" cy="555.98" r="0.75" fill="#2f4f9e"/>
<circle cx="464.48" cy="548.68" r="0.75" fill="#2f4f9e"/>
<rect x="469.06" y="566.67" width="5.33" height="22.43" fill="#fff" stroke="#56c3e4" stroke-width="0.8"/>
<line x1="471.73" y1="565.75" x2="471.73" y2="567.58" stroke="#56c3e4" stroke-width="0.7" />
<line x1="470.43" y1="565.75" x2="473.03" y2="565.75" stroke="#56c3e4" stroke-width="0.7" />
<line x1="470.43" y1="567.58" x2="473.03" y2="567.58" stroke="#56c3e4" stroke-width="0.7" />
<circle cx="471.73" cy="567.17" r="0.75" fill="#3fb0d8"/>
<circle cx="471.73" cy="566.53" r="0.75" fill="#3fb0d8"/>
<circle cx="471.73" cy="566.03" r="0.75" fill="#3fb0d8"/>
<line x1="497.98" y1="589.10" x2="497.98" y2="592.10" stroke="#333" stroke-width="0.7" />
<text x="497.98" y="598.40" font-size="5.3" text-anchor="middle" fill="#1a1a1a" stroke="#1a1a1a" stroke-width="0.22" >HSF1</text>
<rect x="480.80" y="550.19" width="5.33" height="38.91" fill="#fff" stroke="#3f7d45" stroke-width="0.8"/>
<line x1="483.47" y1="548.36" x2="483.47" y2="552.02" stroke="#3f7d45" stroke-width="0.7" />
<line x1="482.17" y1="548.36" x2="484.77" y2="548.36" stroke="#3f7d45" stroke-width="0.7" />
<line x1="482.17" y1="552.02" x2="484.77" y2="552.02" stroke="#3f7d45" stroke-width="0.7" />
<circle cx="483.47" cy="551.20" r="0.75" fill="#2b6a33"/>
<circle cx="483.47" cy="549.91" r="0.75" fill="#2b6a33"/>
<circle cx="483.47" cy="548.91" r="0.75" fill="#2b6a33"/>
<rect x="488.05" y="552.94" width="5.33" height="36.16" fill="#fff" stroke="#d8473d" stroke-width="0.8"/>
<line x1="490.72" y1="549.73" x2="490.72" y2="556.14" stroke="#d8473d" stroke-width="0.7" />
<line x1="489.42" y1="549.73" x2="492.02" y2="549.73" stroke="#d8473d" stroke-width="0.7" />
<line x1="489.42" y1="556.14" x2="492.02" y2="556.14" stroke="#d8473d" stroke-width="0.7" />
<circle cx="490.72" cy="554.70" r="0.75" fill="#c7372e"/>
<circle cx="490.72" cy="552.45" r="0.75" fill="#c7372e"/>
<circle cx="490.72" cy="550.69" r="0.75" fill="#c7372e"/>
<rect x="495.31" y="546.98" width="5.33" height="42.12" fill="#fff" stroke="#8e97bd" stroke-width="0.8"/>
<line x1="497.98" y1="536.00" x2="497.98" y2="557.97" stroke="#8e97bd" stroke-width="0.7" />
<line x1="496.68" y1="536.00" x2="499.28" y2="536.00" stroke="#8e97bd" stroke-width="0.7" />
<line x1="496.68" y1="557.97" x2="499.28" y2="557.97" stroke="#8e97bd" stroke-width="0.7" />
<circle cx="497.98" cy="553.03" r="0.75" fill="#6f79a6"/>
<circle cx="497.98" cy="545.34" r="0.75" fill="#6f79a6"/>
<circle cx="497.98" cy="539.29" r="0.75" fill="#6f79a6"/>
<rect x="502.56" y="546.07" width="5.33" height="43.03" fill="#fff" stroke="#4865ae" stroke-width="0.8"/>
<line x1="505.23" y1="519.52" x2="505.23" y2="572.62" stroke="#4865ae" stroke-width="0.7" />
<line x1="503.93" y1="519.52" x2="506.53" y2="519.52" stroke="#4865ae" stroke-width="0.7" />
<line x1="503.93" y1="572.62" x2="506.53" y2="572.62" stroke="#4865ae" stroke-width="0.7" />
<circle cx="505.23" cy="560.67" r="0.75" fill="#2f4f9e"/>
<circle cx="505.23" cy="542.09" r="0.75" fill="#2f4f9e"/>
<circle cx="505.23" cy="527.48" r="0.75" fill="#2f4f9e"/>
<rect x="509.81" y="555.22" width="5.33" height="33.88" fill="#fff" stroke="#56c3e4" stroke-width="0.8"/>
<line x1="512.48" y1="530.05" x2="512.48" y2="580.40" stroke="#56c3e4" stroke-width="0.7" />
<line x1="511.18" y1="530.05" x2="513.78" y2="530.05" stroke="#56c3e4" stroke-width="0.7" />
<line x1="511.18" y1="580.40" x2="513.78" y2="580.40" stroke="#56c3e4" stroke-width="0.7" />
<circle cx="512.48" cy="569.07" r="0.75" fill="#3fb0d8"/>
<circle cx="512.48" cy="551.45" r="0.75" fill="#3fb0d8"/>
<circle cx="512.48" cy="537.60" r="0.75" fill="#3fb0d8"/>
<line x1="538.73" y1="589.10" x2="538.73" y2="592.10" stroke="#333" stroke-width="0.7" />
<text x="538.73" y="598.40" font-size="5.3" text-anchor="middle" fill="#1a1a1a" stroke="#1a1a1a" stroke-width="0.22" >Aha1</text>
<rect x="521.55" y="541.03" width="5.33" height="48.07" fill="#fff" stroke="#3f7d45" stroke-width="0.8"/>
<line x1="524.22" y1="527.30" x2="524.22" y2="554.77" stroke="#3f7d45" stroke-width="0.7" />
<line x1="522.92" y1="527.30" x2="525.52" y2="527.30" stroke="#3f7d45" stroke-width="0.7" />
<line x1="522.92" y1="554.77" x2="525.52" y2="554.77" stroke="#3f7d45" stroke-width="0.7" />
<circle cx="524.22" cy="548.59" r="0.75" fill="#2b6a33"/>
<circle cx="524.22" cy="538.97" r="0.75" fill="#2b6a33"/>
<circle cx="524.22" cy="531.42" r="0.75" fill="#2b6a33"/>
<rect x="528.80" y="547.67" width="5.33" height="41.43" fill="#fff" stroke="#d8473d" stroke-width="0.8"/>
<line x1="531.47" y1="542.64" x2="531.47" y2="552.71" stroke="#d8473d" stroke-width="0.7" />
<line x1="530.17" y1="542.64" x2="532.77" y2="542.64" stroke="#d8473d" stroke-width="0.7" />
<line x1="530.17" y1="552.71" x2="532.77" y2="552.71" stroke="#d8473d" stroke-width="0.7" />
<circle cx="531.47" cy="550.44" r="0.75" fill="#c7372e"/>
<circle cx="531.47" cy="546.92" r="0.75" fill="#c7372e"/>
<circle cx="531.47" cy="544.15" r="0.75" fill="#c7372e"/>
<rect x="536.06" y="542.86" width="5.33" height="46.24" fill="#fff" stroke="#8e97bd" stroke-width="0.8"/>
<line x1="538.73" y1="530.50" x2="538.73" y2="555.22" stroke="#8e97bd" stroke-width="0.7" />
<line x1="537.43" y1="530.50" x2="540.02" y2="530.50" stroke="#8e97bd" stroke-width="0.7" />
<line x1="537.43" y1="555.22" x2="540.02" y2="555.22" stroke="#8e97bd" stroke-width="0.7" />
<circle cx="538.73" cy="549.66" r="0.75" fill="#6f79a6"/>
<circle cx="538.73" cy="541.01" r="0.75" fill="#6f79a6"/>
<circle cx="538.73" cy="534.21" r="0.75" fill="#6f79a6"/>
<rect x="543.31" y="541.95" width="5.33" height="47.15" fill="#fff" stroke="#4865ae" stroke-width="0.8"/>
<line x1="545.98" y1="531.88" x2="545.98" y2="552.02" stroke="#4865ae" stroke-width="0.7" />
<line x1="544.68" y1="531.88" x2="547.28" y2="531.88" stroke="#4865ae" stroke-width="0.7" />
<line x1="544.68" y1="552.02" x2="547.28" y2="552.02" stroke="#4865ae" stroke-width="0.7" />
<circle cx="545.98" cy="547.49" r="0.75" fill="#2f4f9e"/>
<circle cx="545.98" cy="540.44" r="0.75" fill="#2f4f9e"/>
<circle cx="545.98" cy="534.90" r="0.75" fill="#2f4f9e"/>
<rect x="550.56" y="543.32" width="5.33" height="45.78" fill="#fff" stroke="#56c3e4" stroke-width="0.8"/>
<line x1="553.23" y1="536.91" x2="553.23" y2="549.73" stroke="#56c3e4" stroke-width="0.7" />
<line x1="551.93" y1="536.91" x2="554.53" y2="536.91" stroke="#56c3e4" stroke-width="0.7" />
<line x1="551.93" y1="549.73" x2="554.53" y2="549.73" stroke="#56c3e4" stroke-width="0.7" />
<circle cx="553.23" cy="546.85" r="0.75" fill="#3fb0d8"/>
<circle cx="553.23" cy="542.36" r="0.75" fill="#3fb0d8"/>
<circle cx="553.23" cy="538.84" r="0.75" fill="#3fb0d8"/>
<line x1="579.48" y1="589.10" x2="579.48" y2="592.10" stroke="#333" stroke-width="0.7" />
<text x="579.48" y="598.40" font-size="5.3" text-anchor="middle" fill="#1a1a1a" stroke="#1a1a1a" stroke-width="0.22" >AKT</text>
<rect x="562.30" y="571.70" width="5.33" height="17.40" fill="#fff" stroke="#3f7d45" stroke-width="0.8"/>
<line x1="564.97" y1="557.97" x2="564.97" y2="585.44" stroke="#3f7d45" stroke-width="0.7" />
<line x1="563.67" y1="557.97" x2="566.27" y2="557.97" stroke="#3f7d45" stroke-width="0.7" />
<line x1="563.67" y1="585.44" x2="566.27" y2="585.44" stroke="#3f7d45" stroke-width="0.7" />
<circle cx="564.97" cy="579.26" r="0.75" fill="#2b6a33"/>
<circle cx="564.97" cy="569.64" r="0.75" fill="#2b6a33"/>
<circle cx="564.97" cy="562.09" r="0.75" fill="#2b6a33"/>
<rect x="569.55" y="549.73" width="5.33" height="39.37" fill="#fff" stroke="#d8473d" stroke-width="0.8"/>
<line x1="572.22" y1="543.78" x2="572.22" y2="555.68" stroke="#d8473d" stroke-width="0.7" />
<line x1="570.92" y1="543.78" x2="573.52" y2="543.78" stroke="#d8473d" stroke-width="0.7" />
<line x1="570.92" y1="555.68" x2="573.52" y2="555.68" stroke="#d8473d" stroke-width="0.7" />
<circle cx="572.22" cy="553.00" r="0.75" fill="#c7372e"/>
<circle cx="572.22" cy="548.84" r="0.75" fill="#c7372e"/>
<circle cx="572.22" cy="545.57" r="0.75" fill="#c7372e"/>
<rect x="576.81" y="537.83" width="5.33" height="51.27" fill="#fff" stroke="#8e97bd" stroke-width="0.8"/>
<line x1="579.48" y1="523.64" x2="579.48" y2="552.02" stroke="#8e97bd" stroke-width="0.7" />
<line x1="578.18" y1="523.64" x2="580.77" y2="523.64" stroke="#8e97bd" stroke-width="0.7" />
<line x1="578.18" y1="552.02" x2="580.77" y2="552.02" stroke="#8e97bd" stroke-width="0.7" />
<circle cx="579.48" cy="545.63" r="0.75" fill="#6f79a6"/>
<circle cx="579.48" cy="535.70" r="0.75" fill="#6f79a6"/>
<circle cx="579.48" cy="527.90" r="0.75" fill="#6f79a6"/>
<rect x="584.06" y="544.70" width="5.33" height="44.40" fill="#fff" stroke="#4865ae" stroke-width="0.8"/>
<line x1="586.73" y1="532.34" x2="586.73" y2="557.06" stroke="#4865ae" stroke-width="0.7" />
<line x1="585.43" y1="532.34" x2="588.03" y2="532.34" stroke="#4865ae" stroke-width="0.7" />
<line x1="585.43" y1="557.06" x2="588.03" y2="557.06" stroke="#4865ae" stroke-width="0.7" />
<circle cx="586.73" cy="551.49" r="0.75" fill="#2f4f9e"/>
<circle cx="586.73" cy="542.84" r="0.75" fill="#2f4f9e"/>
<circle cx="586.73" cy="536.04" r="0.75" fill="#2f4f9e"/>
<rect x="591.31" y="569.87" width="5.33" height="19.23" fill="#fff" stroke="#56c3e4" stroke-width="0.8"/>
<line x1="593.98" y1="565.30" x2="593.98" y2="574.45" stroke="#56c3e4" stroke-width="0.7" />
<line x1="592.68" y1="565.30" x2="595.28" y2="565.30" stroke="#56c3e4" stroke-width="0.7" />
<line x1="592.68" y1="574.45" x2="595.28" y2="574.45" stroke="#56c3e4" stroke-width="0.7" />
<circle cx="593.98" cy="572.39" r="0.75" fill="#3fb0d8"/>
<circle cx="593.98" cy="569.19" r="0.75" fill="#3fb0d8"/>
<circle cx="593.98" cy="566.67" r="0.75" fill="#3fb0d8"/>
<line x1="620.23" y1="589.10" x2="620.23" y2="592.10" stroke="#333" stroke-width="0.7" />
<text x="620.23" y="598.40" font-size="5.3" text-anchor="middle" fill="#1a1a1a" stroke="#1a1a1a" stroke-width="0.22" >CDK2</text>
<rect x="603.05" y="555.22" width="5.33" height="33.88" fill="#fff" stroke="#3f7d45" stroke-width="0.8"/>
<line x1="605.72" y1="540.58" x2="605.72" y2="569.87" stroke="#3f7d45" stroke-width="0.7" />
<line x1="604.42" y1="540.58" x2="607.02" y2="540.58" stroke="#3f7d45" stroke-width="0.7" />
<line x1="604.42" y1="569.87" x2="607.02" y2="569.87" stroke="#3f7d45" stroke-width="0.7" />
<circle cx="605.72" cy="563.28" r="0.75" fill="#2b6a33"/>
<circle cx="605.72" cy="553.03" r="0.75" fill="#2b6a33"/>
<circle cx="605.72" cy="544.97" r="0.75" fill="#2b6a33"/>
<rect x="610.30" y="549.73" width="5.33" height="39.37" fill="#fff" stroke="#d8473d" stroke-width="0.8"/>
<line x1="612.97" y1="542.86" x2="612.97" y2="556.60" stroke="#d8473d" stroke-width="0.7" />
<line x1="611.67" y1="542.86" x2="614.27" y2="542.86" stroke="#d8473d" stroke-width="0.7" />
<line x1="611.67" y1="556.60" x2="614.27" y2="556.60" stroke="#d8473d" stroke-width="0.7" />
<circle cx="612.97" cy="553.51" r="0.75" fill="#c7372e"/>
<circle cx="612.97" cy="548.70" r="0.75" fill="#c7372e"/>
<circle cx="612.97" cy="544.92" r="0.75" fill="#c7372e"/>
<rect x="617.56" y="541.49" width="5.33" height="47.61" fill="#fff" stroke="#8e97bd" stroke-width="0.8"/>
<line x1="620.23" y1="532.34" x2="620.23" y2="550.65" stroke="#8e97bd" stroke-width="0.7" />
<line x1="618.93" y1="532.34" x2="621.52" y2="532.34" stroke="#8e97bd" stroke-width="0.7" />
<line x1="618.93" y1="550.65" x2="621.52" y2="550.65" stroke="#8e97bd" stroke-width="0.7" />
<circle cx="620.23" cy="546.53" r="0.75" fill="#6f79a6"/>
<circle cx="620.23" cy="540.12" r="0.75" fill="#6f79a6"/>
<circle cx="620.23" cy="535.08" r="0.75" fill="#6f79a6"/>
<rect x="624.81" y="545.15" width="5.33" height="43.95" fill="#fff" stroke="#4865ae" stroke-width="0.8"/>
<line x1="627.48" y1="529.13" x2="627.48" y2="561.18" stroke="#4865ae" stroke-width="0.7" />
<line x1="626.18" y1="529.13" x2="628.78" y2="529.13" stroke="#4865ae" stroke-width="0.7" />
<line x1="626.18" y1="561.18" x2="628.78" y2="561.18" stroke="#4865ae" stroke-width="0.7" />
<circle cx="627.48" cy="553.97" r="0.75" fill="#2f4f9e"/>
<circle cx="627.48" cy="542.75" r="0.75" fill="#2f4f9e"/>
<circle cx="627.48" cy="533.94" r="0.75" fill="#2f4f9e"/>
<rect x="632.06" y="561.86" width="5.33" height="27.24" fill="#fff" stroke="#56c3e4" stroke-width="0.8"/>
<line x1="634.73" y1="552.71" x2="634.73" y2="571.02" stroke="#56c3e4" stroke-width="0.7" />
<line x1="633.43" y1="552.71" x2="636.03" y2="552.71" stroke="#56c3e4" stroke-width="0.7" />
<line x1="633.43" y1="571.02" x2="636.03" y2="571.02" stroke="#56c3e4" stroke-width="0.7" />
<circle cx="634.73" cy="566.90" r="0.75" fill="#3fb0d8"/>
<circle cx="634.73" cy="560.49" r="0.75" fill="#3fb0d8"/>
<circle cx="634.73" cy="555.45" r="0.75" fill="#3fb0d8"/>
<line x1="660.98" y1="589.10" x2="660.98" y2="592.10" stroke="#333" stroke-width="0.7" />
<text x="660.98" y="598.40" font-size="5.3" text-anchor="middle" fill="#1a1a1a" stroke="#1a1a1a" stroke-width="0.22" >CDK4</text>
<rect x="643.80" y="572.16" width="5.33" height="16.94" fill="#fff" stroke="#3f7d45" stroke-width="0.8"/>
<line x1="646.47" y1="562.09" x2="646.47" y2="582.23" stroke="#3f7d45" stroke-width="0.7" />
<line x1="645.17" y1="562.09" x2="647.77" y2="562.09" stroke="#3f7d45" stroke-width="0.7" />
<line x1="645.17" y1="582.23" x2="647.77" y2="582.23" stroke="#3f7d45" stroke-width="0.7" />
<circle cx="646.47" cy="577.70" r="0.75" fill="#2b6a33"/>
<circle cx="646.47" cy="570.65" r="0.75" fill="#2b6a33"/>
<circle cx="646.47" cy="565.11" r="0.75" fill="#2b6a33"/>
<rect x="651.05" y="540.58" width="5.33" height="48.52" fill="#fff" stroke="#d8473d" stroke-width="0.8"/>
<line x1="653.72" y1="540.12" x2="653.72" y2="541.03" stroke="#d8473d" stroke-width="0.7" />
<line x1="652.42" y1="540.12" x2="655.02" y2="540.12" stroke="#d8473d" stroke-width="0.7" />
<line x1="652.42" y1="541.03" x2="655.02" y2="541.03" stroke="#d8473d" stroke-width="0.7" />
<circle cx="653.72" cy="540.83" r="0.75" fill="#c7372e"/>
<circle cx="653.72" cy="540.51" r="0.75" fill="#c7372e"/>
<circle cx="653.72" cy="540.26" r="0.75" fill="#c7372e"/>
<rect x="658.31" y="537.37" width="5.33" height="51.73" fill="#fff" stroke="#8e97bd" stroke-width="0.8"/>
<line x1="660.98" y1="528.22" x2="660.98" y2="546.53" stroke="#8e97bd" stroke-width="0.7" />
<line x1="659.68" y1="528.22" x2="662.27" y2="528.22" stroke="#8e97bd" stroke-width="0.7" />
<line x1="659.68" y1="546.53" x2="662.27" y2="546.53" stroke="#8e97bd" stroke-width="0.7" />
<circle cx="660.98" cy="542.41" r="0.75" fill="#6f79a6"/>
<circle cx="660.98" cy="536.00" r="0.75" fill="#6f79a6"/>
<circle cx="660.98" cy="530.96" r="0.75" fill="#6f79a6"/>
<rect x="665.56" y="536.91" width="5.33" height="52.19" fill="#fff" stroke="#4865ae" stroke-width="0.8"/>
<line x1="668.23" y1="521.35" x2="668.23" y2="552.48" stroke="#4865ae" stroke-width="0.7" />
<line x1="666.93" y1="521.35" x2="669.53" y2="521.35" stroke="#4865ae" stroke-width="0.7" />
<line x1="666.93" y1="552.48" x2="669.53" y2="552.48" stroke="#4865ae" stroke-width="0.7" />
<circle cx="668.23" cy="545.47" r="0.75" fill="#2f4f9e"/>
<circle cx="668.23" cy="534.58" r="0.75" fill="#2f4f9e"/>
<circle cx="668.23" cy="526.02" r="0.75" fill="#2f4f9e"/>
<rect x="672.81" y="567.13" width="5.33" height="21.97" fill="#fff" stroke="#56c3e4" stroke-width="0.8"/>
<line x1="675.48" y1="561.18" x2="675.48" y2="573.08" stroke="#56c3e4" stroke-width="0.7" />
<line x1="674.18" y1="561.18" x2="676.78" y2="561.18" stroke="#56c3e4" stroke-width="0.7" />
<line x1="674.18" y1="573.08" x2="676.78" y2="573.08" stroke="#56c3e4" stroke-width="0.7" />
<circle cx="675.48" cy="570.40" r="0.75" fill="#3fb0d8"/>
<circle cx="675.48" cy="566.23" r="0.75" fill="#3fb0d8"/>
<circle cx="675.48" cy="562.96" r="0.75" fill="#3fb0d8"/>
<text x="442.72" y="533.82" font-size="6.0" text-anchor="middle" fill="#222" stroke="#222" stroke-width="0.22" letter-spacing="0.15">*</text>
<text x="471.73" y="564.95" font-size="6.0" text-anchor="middle" fill="#222" stroke="#222" stroke-width="0.22" letter-spacing="0.15">*</text>
<text x="564.97" y="557.17" font-size="6.0" text-anchor="middle" fill="#222" stroke="#222" stroke-width="0.22" letter-spacing="0.15">*</text>
<text x="593.98" y="564.50" font-size="6.0" text-anchor="middle" fill="#222" stroke="#222" stroke-width="0.22" letter-spacing="0.15">**</text>
<text x="646.47" y="561.29" font-size="6.0" text-anchor="middle" fill="#222" stroke="#222" stroke-width="0.22" letter-spacing="0.15">**</text>
<text x="675.48" y="560.38" font-size="6.0" text-anchor="middle" fill="#222" stroke="#222" stroke-width="0.22" letter-spacing="0.15">**</text>
<rect x="610.70" y="502.10" width="3.5" height="3.5" fill="#d4473d"/>
<text x="616.40" y="505.60" font-size="5.0" text-anchor="start" fill="#222" stroke="#222" stroke-width="0.12" >DMSO</text>
<circle cx="637.40" cy="503.85" r="1.8" fill="#24602c"/>
<text x="641.80" y="505.60" font-size="5.0" text-anchor="start" fill="#222" stroke="#222" stroke-width="0.12" >NVP-AUY922</text>
<path d="M610.70 512.30 L612.40 508.70 L614.10 512.30Z" fill="#5266a8"/>
<text x="616.40" y="512.10" font-size="5.0" text-anchor="start" fill="#222" stroke="#222" stroke-width="0.12" >20 μM</text>
<path d="M635.60 508.70 L639.20 508.70 L637.40 512.30Z" fill="#233f96"/>
<text x="640.80" y="512.10" font-size="5.0" text-anchor="start" fill="#222" stroke="#222" stroke-width="0.12" >40 μM</text>
<path d="M659.80 508.50 L661.70 510.50 L659.80 512.50 L657.90 510.50Z" fill="#55c2e8"/>
<text x="663.80" y="512.10" font-size="5.0" text-anchor="start" fill="#222" stroke="#222" stroke-width="0.12" >60 μM</text>
<text x="401.30" y="625.50" font-size="8.0" text-anchor="start" fill="#1a1a1a" stroke="#1a1a1a" stroke-width="0.22" >HT-29</text>
<line x1="395.80" y1="626.90" x2="395.80" y2="709.30" stroke="#222" stroke-width="0.9" />
<line x1="395.80" y1="709.30" x2="684.50" y2="709.30" stroke="#222" stroke-width="0.9" />
<line x1="393.20" y1="709.30" x2="395.80" y2="709.30" stroke="#333" stroke-width="0.7" />
<text x="391.80" y="710.95" font-size="4.7" text-anchor="end" fill="#333" stroke="#333" stroke-width="0.22" >0.0</text>
<line x1="393.20" y1="682.00" x2="395.80" y2="682.00" stroke="#333" stroke-width="0.7" />
<text x="391.80" y="683.65" font-size="4.7" text-anchor="end" fill="#333" stroke="#333" stroke-width="0.22" >0.5</text>
<line x1="393.20" y1="654.70" x2="395.80" y2="654.70" stroke="#333" stroke-width="0.7" />
<text x="391.80" y="656.35" font-size="4.7" text-anchor="end" fill="#333" stroke="#333" stroke-width="0.22" >1.0</text>
<line x1="393.20" y1="627.40" x2="395.80" y2="627.40" stroke="#333" stroke-width="0.7" />
<text x="391.80" y="629.05" font-size="4.7" text-anchor="end" fill="#333" stroke="#333" stroke-width="0.22" >1.5</text>
<text x="0.00" y="0.00" font-size="6.33" text-anchor="middle" fill="#1a1a1a" stroke="#1a1a1a" stroke-width="0.22" transform="translate(380.7 666.3) rotate(-90)">Relative Protein Expression</text>
<line x1="416.48" y1="709.30" x2="416.48" y2="712.30" stroke="#333" stroke-width="0.7" />
<text x="416.48" y="719.10" font-size="5.3" text-anchor="middle" fill="#1a1a1a" stroke="#1a1a1a" stroke-width="0.22" >Hsp90</text>
<rect x="399.30" y="669.44" width="5.33" height="39.86" fill="#fff" stroke="#3f7d45" stroke-width="0.8"/>
<line x1="401.97" y1="656.34" x2="401.97" y2="682.55" stroke="#3f7d45" stroke-width="0.7" />
<line x1="400.67" y1="656.34" x2="403.27" y2="656.34" stroke="#3f7d45" stroke-width="0.7" />
<line x1="400.67" y1="682.55" x2="403.27" y2="682.55" stroke="#3f7d45" stroke-width="0.7" />
<circle cx="401.97" cy="676.65" r="0.75" fill="#2b6a33"/>
<circle cx="401.97" cy="667.48" r="0.75" fill="#2b6a33"/>
<circle cx="401.97" cy="660.27" r="0.75" fill="#2b6a33"/>
<rect x="406.55" y="673.81" width="5.33" height="35.49" fill="#fff" stroke="#d8473d" stroke-width="0.8"/>
<line x1="409.22" y1="667.26" x2="409.22" y2="680.36" stroke="#d8473d" stroke-width="0.7" />
<line x1="407.92" y1="667.26" x2="410.52" y2="667.26" stroke="#d8473d" stroke-width="0.7" />
<line x1="407.92" y1="680.36" x2="410.52" y2="680.36" stroke="#d8473d" stroke-width="0.7" />
<circle cx="409.22" cy="677.41" r="0.75" fill="#c7372e"/>
<circle cx="409.22" cy="672.83" r="0.75" fill="#c7372e"/>
<circle cx="409.22" cy="669.22" r="0.75" fill="#c7372e"/>
<rect x="413.81" y="671.08" width="5.33" height="38.22" fill="#fff" stroke="#8e97bd" stroke-width="0.8"/>
<line x1="416.48" y1="666.17" x2="416.48" y2="675.99" stroke="#8e97bd" stroke-width="0.7" />
<line x1="415.18" y1="666.17" x2="417.78" y2="666.17" stroke="#8e97bd" stroke-width="0.7" />
<line x1="415.18" y1="675.99" x2="417.78" y2="675.99" stroke="#8e97bd" stroke-width="0.7" />
<circle cx="416.48" cy="673.78" r="0.75" fill="#6f79a6"/>
<circle cx="416.48" cy="670.34" r="0.75" fill="#6f79a6"/>
<circle cx="416.48" cy="667.64" r="0.75" fill="#6f79a6"/>
<rect x="421.06" y="659.07" width="5.33" height="50.23" fill="#fff" stroke="#4865ae" stroke-width="0.8"/>
<line x1="423.73" y1="643.78" x2="423.73" y2="674.36" stroke="#4865ae" stroke-width="0.7" />
<line x1="422.43" y1="643.78" x2="425.03" y2="643.78" stroke="#4865ae" stroke-width="0.7" />
<line x1="422.43" y1="674.36" x2="425.03" y2="674.36" stroke="#4865ae" stroke-width="0.7" />
<circle cx="423.73" cy="667.48" r="0.75" fill="#2f4f9e"/>
<circle cx="423.73" cy="656.77" r="0.75" fill="#2f4f9e"/>
<circle cx="423.73" cy="648.37" r="0.75" fill="#2f4f9e"/>
<rect x="428.31" y="662.89" width="5.33" height="46.41" fill="#fff" stroke="#56c3e4" stroke-width="0.8"/>
<line x1="430.98" y1="641.05" x2="430.98" y2="684.73" stroke="#56c3e4" stroke-width="0.7" />
<line x1="429.68" y1="641.05" x2="432.28" y2="641.05" stroke="#56c3e4" stroke-width="0.7" />
<line x1="429.68" y1="684.73" x2="432.28" y2="684.73" stroke="#56c3e4" stroke-width="0.7" />
<circle cx="430.98" cy="674.90" r="0.75" fill="#3fb0d8"/>
<circle cx="430.98" cy="659.61" r="0.75" fill="#3fb0d8"/>
<circle cx="430.98" cy="647.60" r="0.75" fill="#3fb0d8"/>
<line x1="457.23" y1="709.30" x2="457.23" y2="712.30" stroke="#333" stroke-width="0.7" />
<text x="457.23" y="719.10" font-size="5.3" text-anchor="middle" fill="#1a1a1a" stroke="#1a1a1a" stroke-width="0.22" >Hsp70</text>
<rect x="440.05" y="655.79" width="5.33" height="53.51" fill="#fff" stroke="#3f7d45" stroke-width="0.8"/>
<line x1="442.72" y1="650.33" x2="442.72" y2="661.25" stroke="#3f7d45" stroke-width="0.7" />
<line x1="441.42" y1="650.33" x2="444.02" y2="650.33" stroke="#3f7d45" stroke-width="0.7" />
<line x1="441.42" y1="661.25" x2="444.02" y2="661.25" stroke="#3f7d45" stroke-width="0.7" />
<circle cx="442.72" cy="658.79" r="0.75" fill="#2b6a33"/>
<circle cx="442.72" cy="654.97" r="0.75" fill="#2b6a33"/>
<circle cx="442.72" cy="651.97" r="0.75" fill="#2b6a33"/>
<rect x="447.30" y="667.53" width="5.33" height="41.77" fill="#fff" stroke="#d8473d" stroke-width="0.8"/>
<line x1="449.97" y1="662.07" x2="449.97" y2="672.99" stroke="#d8473d" stroke-width="0.7" />
<line x1="448.67" y1="662.07" x2="451.27" y2="662.07" stroke="#d8473d" stroke-width="0.7" />
<line x1="448.67" y1="672.99" x2="451.27" y2="672.99" stroke="#d8473d" stroke-width="0.7" />
<circle cx="449.97" cy="670.53" r="0.75" fill="#c7372e"/>
<circle cx="449.97" cy="666.71" r="0.75" fill="#c7372e"/>
<circle cx="449.97" cy="663.71" r="0.75" fill="#c7372e"/>
<rect x="454.56" y="666.99" width="5.33" height="42.31" fill="#fff" stroke="#8e97bd" stroke-width="0.8"/>
<line x1="457.23" y1="660.98" x2="457.23" y2="672.99" stroke="#8e97bd" stroke-width="0.7" />
<line x1="455.93" y1="660.98" x2="458.53" y2="660.98" stroke="#8e97bd" stroke-width="0.7" />
<line x1="455.93" y1="672.99" x2="458.53" y2="672.99" stroke="#8e97bd" stroke-width="0.7" />
<circle cx="457.23" cy="670.29" r="0.75" fill="#6f79a6"/>
<circle cx="457.23" cy="666.08" r="0.75" fill="#6f79a6"/>
<circle cx="457.23" cy="662.78" r="0.75" fill="#6f79a6"/>
<rect x="461.81" y="665.62" width="5.33" height="43.68" fill="#fff" stroke="#4865ae" stroke-width="0.8"/>
<line x1="464.48" y1="658.52" x2="464.48" y2="672.72" stroke="#4865ae" stroke-width="0.7" />
<line x1="463.18" y1="658.52" x2="465.78" y2="658.52" stroke="#4865ae" stroke-width="0.7" />
<line x1="463.18" y1="672.72" x2="465.78" y2="672.72" stroke="#4865ae" stroke-width="0.7" />
<circle cx="464.48" cy="669.52" r="0.75" fill="#2f4f9e"/>
<circle cx="464.48" cy="664.56" r="0.75" fill="#2f4f9e"/>
<circle cx="464.48" cy="660.65" r="0.75" fill="#2f4f9e"/>
<rect x="469.06" y="680.09" width="5.33" height="29.21" fill="#fff" stroke="#56c3e4" stroke-width="0.8"/>
<line x1="471.73" y1="672.99" x2="471.73" y2="687.19" stroke="#56c3e4" stroke-width="0.7" />
<line x1="470.43" y1="672.99" x2="473.03" y2="672.99" stroke="#56c3e4" stroke-width="0.7" />
<line x1="470.43" y1="687.19" x2="473.03" y2="687.19" stroke="#56c3e4" stroke-width="0.7" />
<circle cx="471.73" cy="683.99" r="0.75" fill="#3fb0d8"/>
<circle cx="471.73" cy="679.02" r="0.75" fill="#3fb0d8"/>
<circle cx="471.73" cy="675.12" r="0.75" fill="#3fb0d8"/>
<line x1="497.98" y1="709.30" x2="497.98" y2="712.30" stroke="#333" stroke-width="0.7" />
<text x="497.98" y="719.10" font-size="5.3" text-anchor="middle" fill="#1a1a1a" stroke="#1a1a1a" stroke-width="0.22" >HSF1</text>
<rect x="480.80" y="657.43" width="5.33" height="51.87" fill="#fff" stroke="#3f7d45" stroke-width="0.8"/>
<line x1="483.47" y1="649.24" x2="483.47" y2="665.62" stroke="#3f7d45" stroke-width="0.7" />
<line x1="482.17" y1="649.24" x2="484.77" y2="649.24" stroke="#3f7d45" stroke-width="0.7" />
<line x1="482.17" y1="665.62" x2="484.77" y2="665.62" stroke="#3f7d45" stroke-width="0.7" />
<circle cx="483.47" cy="661.93" r="0.75" fill="#2b6a33"/>
<circle cx="483.47" cy="656.20" r="0.75" fill="#2b6a33"/>
<circle cx="483.47" cy="651.70" r="0.75" fill="#2b6a33"/>
<rect x="488.05" y="664.53" width="5.33" height="44.77" fill="#fff" stroke="#d8473d" stroke-width="0.8"/>
<line x1="490.72" y1="662.62" x2="490.72" y2="666.44" stroke="#d8473d" stroke-width="0.7" />
<line x1="489.42" y1="662.62" x2="492.02" y2="662.62" stroke="#d8473d" stroke-width="0.7" />
<line x1="489.42" y1="666.44" x2="492.02" y2="666.44" stroke="#d8473d" stroke-width="0.7" />
<circle cx="490.72" cy="665.58" r="0.75" fill="#c7372e"/>
<circle cx="490.72" cy="664.24" r="0.75" fill="#c7372e"/>
<circle cx="490.72" cy="663.19" r="0.75" fill="#c7372e"/>
<rect x="495.31" y="671.08" width="5.33" height="38.22" fill="#fff" stroke="#8e97bd" stroke-width="0.8"/>
<line x1="497.98" y1="663.44" x2="497.98" y2="678.72" stroke="#8e97bd" stroke-width="0.7" />
<line x1="496.68" y1="663.44" x2="499.28" y2="663.44" stroke="#8e97bd" stroke-width="0.7" />
<line x1="496.68" y1="678.72" x2="499.28" y2="678.72" stroke="#8e97bd" stroke-width="0.7" />
<circle cx="497.98" cy="675.28" r="0.75" fill="#6f79a6"/>
<circle cx="497.98" cy="669.93" r="0.75" fill="#6f79a6"/>
<circle cx="497.98" cy="665.73" r="0.75" fill="#6f79a6"/>
<rect x="502.56" y="659.61" width="5.33" height="49.69" fill="#fff" stroke="#4865ae" stroke-width="0.8"/>
<line x1="505.23" y1="655.25" x2="505.23" y2="663.98" stroke="#4865ae" stroke-width="0.7" />
<line x1="503.93" y1="655.25" x2="506.53" y2="655.25" stroke="#4865ae" stroke-width="0.7" />
<line x1="503.93" y1="663.98" x2="506.53" y2="663.98" stroke="#4865ae" stroke-width="0.7" />
<circle cx="505.23" cy="662.02" r="0.75" fill="#2f4f9e"/>
<circle cx="505.23" cy="658.96" r="0.75" fill="#2f4f9e"/>
<circle cx="505.23" cy="656.56" r="0.75" fill="#2f4f9e"/>
<rect x="509.81" y="677.09" width="5.33" height="32.21" fill="#fff" stroke="#56c3e4" stroke-width="0.8"/>
<line x1="512.48" y1="672.99" x2="512.48" y2="681.18" stroke="#56c3e4" stroke-width="0.7" />
<line x1="511.18" y1="672.99" x2="513.78" y2="672.99" stroke="#56c3e4" stroke-width="0.7" />
<line x1="511.18" y1="681.18" x2="513.78" y2="681.18" stroke="#56c3e4" stroke-width="0.7" />
<circle cx="512.48" cy="679.34" r="0.75" fill="#3fb0d8"/>
<circle cx="512.48" cy="676.47" r="0.75" fill="#3fb0d8"/>
<circle cx="512.48" cy="674.22" r="0.75" fill="#3fb0d8"/>
<line x1="538.73" y1="709.30" x2="538.73" y2="712.30" stroke="#333" stroke-width="0.7" />
<text x="538.73" y="719.10" font-size="5.3" text-anchor="middle" fill="#1a1a1a" stroke="#1a1a1a" stroke-width="0.22" >Aha1</text>
<rect x="521.55" y="659.07" width="5.33" height="50.23" fill="#fff" stroke="#3f7d45" stroke-width="0.8"/>
<line x1="524.22" y1="648.69" x2="524.22" y2="669.44" stroke="#3f7d45" stroke-width="0.7" />
<line x1="522.92" y1="648.69" x2="525.52" y2="648.69" stroke="#3f7d45" stroke-width="0.7" />
<line x1="522.92" y1="669.44" x2="525.52" y2="669.44" stroke="#3f7d45" stroke-width="0.7" />
<circle cx="524.22" cy="664.77" r="0.75" fill="#2b6a33"/>
<circle cx="524.22" cy="657.51" r="0.75" fill="#2b6a33"/>
<circle cx="524.22" cy="651.81" r="0.75" fill="#2b6a33"/>
<rect x="528.80" y="665.35" width="5.33" height="43.95" fill="#fff" stroke="#d8473d" stroke-width="0.8"/>
<line x1="531.47" y1="658.25" x2="531.47" y2="672.44" stroke="#d8473d" stroke-width="0.7" />
<line x1="530.17" y1="658.25" x2="532.77" y2="658.25" stroke="#d8473d" stroke-width="0.7" />
<line x1="530.17" y1="672.44" x2="532.77" y2="672.44" stroke="#d8473d" stroke-width="0.7" />
<circle cx="531.47" cy="669.25" r="0.75" fill="#c7372e"/>
<circle cx="531.47" cy="664.28" r="0.75" fill="#c7372e"/>
<circle cx="531.47" cy="660.38" r="0.75" fill="#c7372e"/>
<rect x="536.06" y="667.26" width="5.33" height="42.04" fill="#fff" stroke="#8e97bd" stroke-width="0.8"/>
<line x1="538.73" y1="658.52" x2="538.73" y2="675.99" stroke="#8e97bd" stroke-width="0.7" />
<line x1="537.43" y1="658.52" x2="540.02" y2="658.52" stroke="#8e97bd" stroke-width="0.7" />
<line x1="537.43" y1="675.99" x2="540.02" y2="675.99" stroke="#8e97bd" stroke-width="0.7" />
<circle cx="538.73" cy="672.06" r="0.75" fill="#6f79a6"/>
<circle cx="538.73" cy="665.95" r="0.75" fill="#6f79a6"/>
<circle cx="538.73" cy="661.14" r="0.75" fill="#6f79a6"/>
<rect x="543.31" y="667.26" width="5.33" height="42.04" fill="#fff" stroke="#4865ae" stroke-width="0.8"/>
<line x1="545.98" y1="662.34" x2="545.98" y2="672.17" stroke="#4865ae" stroke-width="0.7" />
<line x1="544.68" y1="662.34" x2="547.28" y2="662.34" stroke="#4865ae" stroke-width="0.7" />
<line x1="544.68" y1="672.17" x2="547.28" y2="672.17" stroke="#4865ae" stroke-width="0.7" />
<circle cx="545.98" cy="669.96" r="0.75" fill="#2f4f9e"/>
<circle cx="545.98" cy="666.52" r="0.75" fill="#2f4f9e"/>
<circle cx="545.98" cy="663.82" r="0.75" fill="#2f4f9e"/>
<rect x="550.56" y="667.80" width="5.33" height="41.50" fill="#fff" stroke="#56c3e4" stroke-width="0.8"/>
<line x1="553.23" y1="661.80" x2="553.23" y2="673.81" stroke="#56c3e4" stroke-width="0.7" />
<line x1="551.93" y1="661.80" x2="554.53" y2="661.80" stroke="#56c3e4" stroke-width="0.7" />
<line x1="551.93" y1="673.81" x2="554.53" y2="673.81" stroke="#56c3e4" stroke-width="0.7" />
<circle cx="553.23" cy="671.11" r="0.75" fill="#3fb0d8"/>
<circle cx="553.23" cy="666.90" r="0.75" fill="#3fb0d8"/>
<circle cx="553.23" cy="663.60" r="0.75" fill="#3fb0d8"/>
<line x1="579.48" y1="709.30" x2="579.48" y2="712.30" stroke="#333" stroke-width="0.7" />
<text x="579.48" y="719.10" font-size="5.3" text-anchor="middle" fill="#1a1a1a" stroke="#1a1a1a" stroke-width="0.22" >AKT</text>
<rect x="562.30" y="660.71" width="5.33" height="48.59" fill="#fff" stroke="#3f7d45" stroke-width="0.8"/>
<line x1="564.97" y1="654.15" x2="564.97" y2="667.26" stroke="#3f7d45" stroke-width="0.7" />
<line x1="563.67" y1="654.15" x2="566.27" y2="654.15" stroke="#3f7d45" stroke-width="0.7" />
<line x1="563.67" y1="667.26" x2="566.27" y2="667.26" stroke="#3f7d45" stroke-width="0.7" />
<circle cx="564.97" cy="664.31" r="0.75" fill="#2b6a33"/>
<circle cx="564.97" cy="659.72" r="0.75" fill="#2b6a33"/>
<circle cx="564.97" cy="656.12" r="0.75" fill="#2b6a33"/>
<rect x="569.55" y="667.80" width="5.33" height="41.50" fill="#fff" stroke="#d8473d" stroke-width="0.8"/>
<line x1="572.22" y1="665.35" x2="572.22" y2="670.26" stroke="#d8473d" stroke-width="0.7" />
<line x1="570.92" y1="665.35" x2="573.52" y2="665.35" stroke="#d8473d" stroke-width="0.7" />
<line x1="570.92" y1="670.26" x2="573.52" y2="670.26" stroke="#d8473d" stroke-width="0.7" />
<circle cx="572.22" cy="669.16" r="0.75" fill="#c7372e"/>
<circle cx="572.22" cy="667.44" r="0.75" fill="#c7372e"/>
<circle cx="572.22" cy="666.08" r="0.75" fill="#c7372e"/>
<rect x="576.81" y="671.35" width="5.33" height="37.95" fill="#fff" stroke="#8e97bd" stroke-width="0.8"/>
<line x1="579.48" y1="665.89" x2="579.48" y2="676.81" stroke="#8e97bd" stroke-width="0.7" />
<line x1="578.18" y1="665.89" x2="580.77" y2="665.89" stroke="#8e97bd" stroke-width="0.7" />
<line x1="578.18" y1="676.81" x2="580.77" y2="676.81" stroke="#8e97bd" stroke-width="0.7" />
<circle cx="579.48" cy="674.36" r="0.75" fill="#6f79a6"/>
<circle cx="579.48" cy="670.53" r="0.75" fill="#6f79a6"/>
<circle cx="579.48" cy="667.53" r="0.75" fill="#6f79a6"/>
<rect x="584.06" y="667.80" width="5.33" height="41.50" fill="#fff" stroke="#4865ae" stroke-width="0.8"/>
<line x1="586.73" y1="661.80" x2="586.73" y2="673.81" stroke="#4865ae" stroke-width="0.7" />
<line x1="585.43" y1="661.80" x2="588.03" y2="661.80" stroke="#4865ae" stroke-width="0.7" />
<line x1="585.43" y1="673.81" x2="588.03" y2="673.81" stroke="#4865ae" stroke-width="0.7" />
<circle cx="586.73" cy="671.11" r="0.75" fill="#2f4f9e"/>
<circle cx="586.73" cy="666.90" r="0.75" fill="#2f4f9e"/>
<circle cx="586.73" cy="663.60" r="0.75" fill="#2f4f9e"/>
<rect x="591.31" y="687.46" width="5.33" height="21.84" fill="#fff" stroke="#56c3e4" stroke-width="0.8"/>
<line x1="593.98" y1="680.91" x2="593.98" y2="694.01" stroke="#56c3e4" stroke-width="0.7" />
<line x1="592.68" y1="680.91" x2="595.28" y2="680.91" stroke="#56c3e4" stroke-width="0.7" />
<line x1="592.68" y1="694.01" x2="595.28" y2="694.01" stroke="#56c3e4" stroke-width="0.7" />
<circle cx="593.98" cy="691.06" r="0.75" fill="#3fb0d8"/>
<circle cx="593.98" cy="686.48" r="0.75" fill="#3fb0d8"/>
<circle cx="593.98" cy="682.87" r="0.75" fill="#3fb0d8"/>
<line x1="620.23" y1="709.30" x2="620.23" y2="712.30" stroke="#333" stroke-width="0.7" />
<text x="620.23" y="719.10" font-size="5.3" text-anchor="middle" fill="#1a1a1a" stroke="#1a1a1a" stroke-width="0.22" >CDK2</text>
<rect x="603.05" y="663.44" width="5.33" height="45.86" fill="#fff" stroke="#3f7d45" stroke-width="0.8"/>
<line x1="605.72" y1="660.16" x2="605.72" y2="666.71" stroke="#3f7d45" stroke-width="0.7" />
<line x1="604.42" y1="660.16" x2="607.02" y2="660.16" stroke="#3f7d45" stroke-width="0.7" />
<line x1="604.42" y1="666.71" x2="607.02" y2="666.71" stroke="#3f7d45" stroke-width="0.7" />
<circle cx="605.72" cy="665.24" r="0.75" fill="#2b6a33"/>
<circle cx="605.72" cy="662.94" r="0.75" fill="#2b6a33"/>
<circle cx="605.72" cy="661.14" r="0.75" fill="#2b6a33"/>
<rect x="610.30" y="665.35" width="5.33" height="43.95" fill="#fff" stroke="#d8473d" stroke-width="0.8"/>
<line x1="612.97" y1="654.43" x2="612.97" y2="676.27" stroke="#d8473d" stroke-width="0.7" />
<line x1="611.67" y1="654.43" x2="614.27" y2="654.43" stroke="#d8473d" stroke-width="0.7" />
<line x1="611.67" y1="676.27" x2="614.27" y2="676.27" stroke="#d8473d" stroke-width="0.7" />
<circle cx="612.97" cy="671.35" r="0.75" fill="#c7372e"/>
<circle cx="612.97" cy="663.71" r="0.75" fill="#c7372e"/>
<circle cx="612.97" cy="657.70" r="0.75" fill="#c7372e"/>
<rect x="617.56" y="672.17" width="5.33" height="37.13" fill="#fff" stroke="#8e97bd" stroke-width="0.8"/>
<line x1="620.23" y1="657.98" x2="620.23" y2="686.37" stroke="#8e97bd" stroke-width="0.7" />
<line x1="618.93" y1="657.98" x2="621.52" y2="657.98" stroke="#8e97bd" stroke-width="0.7" />
<line x1="618.93" y1="686.37" x2="621.52" y2="686.37" stroke="#8e97bd" stroke-width="0.7" />
<circle cx="620.23" cy="679.98" r="0.75" fill="#6f79a6"/>
<circle cx="620.23" cy="670.04" r="0.75" fill="#6f79a6"/>
<circle cx="620.23" cy="662.23" r="0.75" fill="#6f79a6"/>
<rect x="624.81" y="676.54" width="5.33" height="32.76" fill="#fff" stroke="#4865ae" stroke-width="0.8"/>
<line x1="627.48" y1="658.52" x2="627.48" y2="694.56" stroke="#4865ae" stroke-width="0.7" />
<line x1="626.18" y1="658.52" x2="628.78" y2="658.52" stroke="#4865ae" stroke-width="0.7" />
<line x1="626.18" y1="694.56" x2="628.78" y2="694.56" stroke="#4865ae" stroke-width="0.7" />
<circle cx="627.48" cy="686.45" r="0.75" fill="#2f4f9e"/>
<circle cx="627.48" cy="673.84" r="0.75" fill="#2f4f9e"/>
<circle cx="627.48" cy="663.93" r="0.75" fill="#2f4f9e"/>
<rect x="632.06" y="687.46" width="5.33" height="21.84" fill="#fff" stroke="#56c3e4" stroke-width="0.8"/>
<line x1="634.73" y1="679.27" x2="634.73" y2="695.65" stroke="#56c3e4" stroke-width="0.7" />
<line x1="633.43" y1="679.27" x2="636.03" y2="679.27" stroke="#56c3e4" stroke-width="0.7" />
<line x1="633.43" y1="695.65" x2="636.03" y2="695.65" stroke="#56c3e4" stroke-width="0.7" />
<circle cx="634.73" cy="691.96" r="0.75" fill="#3fb0d8"/>
<circle cx="634.73" cy="686.23" r="0.75" fill="#3fb0d8"/>
<circle cx="634.73" cy="681.73" r="0.75" fill="#3fb0d8"/>
<line x1="660.98" y1="709.30" x2="660.98" y2="712.30" stroke="#333" stroke-width="0.7" />
<text x="660.98" y="719.10" font-size="5.3" text-anchor="middle" fill="#1a1a1a" stroke="#1a1a1a" stroke-width="0.22" >CDK4</text>
<rect x="643.80" y="658.52" width="5.33" height="50.78" fill="#fff" stroke="#3f7d45" stroke-width="0.8"/>
<line x1="646.47" y1="657.43" x2="646.47" y2="659.61" stroke="#3f7d45" stroke-width="0.7" />
<line x1="645.17" y1="657.43" x2="647.77" y2="657.43" stroke="#3f7d45" stroke-width="0.7" />
<line x1="645.17" y1="659.61" x2="647.77" y2="659.61" stroke="#3f7d45" stroke-width="0.7" />
<circle cx="646.47" cy="659.12" r="0.75" fill="#2b6a33"/>
<circle cx="646.47" cy="658.36" r="0.75" fill="#2b6a33"/>
<circle cx="646.47" cy="657.76" r="0.75" fill="#2b6a33"/>
<rect x="651.05" y="667.26" width="5.33" height="42.04" fill="#fff" stroke="#d8473d" stroke-width="0.8"/>
<line x1="653.72" y1="661.80" x2="653.72" y2="672.72" stroke="#d8473d" stroke-width="0.7" />
<line x1="652.42" y1="661.80" x2="655.02" y2="661.80" stroke="#d8473d" stroke-width="0.7" />
<line x1="652.42" y1="672.72" x2="655.02" y2="672.72" stroke="#d8473d" stroke-width="0.7" />
<circle cx="653.72" cy="670.26" r="0.75" fill="#c7372e"/>
<circle cx="653.72" cy="666.44" r="0.75" fill="#c7372e"/>
<circle cx="653.72" cy="663.44" r="0.75" fill="#c7372e"/>
<rect x="658.31" y="663.44" width="5.33" height="45.86" fill="#fff" stroke="#8e97bd" stroke-width="0.8"/>
<line x1="660.98" y1="648.69" x2="660.98" y2="678.18" stroke="#8e97bd" stroke-width="0.7" />
<line x1="659.68" y1="648.69" x2="662.27" y2="648.69" stroke="#8e97bd" stroke-width="0.7" />
<line x1="659.68" y1="678.18" x2="662.27" y2="678.18" stroke="#8e97bd" stroke-width="0.7" />
<circle cx="660.98" cy="671.54" r="0.75" fill="#6f79a6"/>
<circle cx="660.98" cy="661.22" r="0.75" fill="#6f79a6"/>
<circle cx="660.98" cy="653.12" r="0.75" fill="#6f79a6"/>
<rect x="665.56" y="674.90" width="5.33" height="34.40" fill="#fff" stroke="#4865ae" stroke-width="0.8"/>
<line x1="668.23" y1="659.07" x2="668.23" y2="690.74" stroke="#4865ae" stroke-width="0.7" />
<line x1="666.93" y1="659.07" x2="669.53" y2="659.07" stroke="#4865ae" stroke-width="0.7" />
<line x1="666.93" y1="690.74" x2="669.53" y2="690.74" stroke="#4865ae" stroke-width="0.7" />
<circle cx="668.23" cy="683.61" r="0.75" fill="#2f4f9e"/>
<circle cx="668.23" cy="672.53" r="0.75" fill="#2f4f9e"/>
<circle cx="668.23" cy="663.82" r="0.75" fill="#2f4f9e"/>
<rect x="672.81" y="700.29" width="5.33" height="9.01" fill="#fff" stroke="#56c3e4" stroke-width="0.8"/>
<line x1="675.48" y1="693.74" x2="675.48" y2="706.84" stroke="#56c3e4" stroke-width="0.7" />
<line x1="674.18" y1="693.74" x2="676.78" y2="693.74" stroke="#56c3e4" stroke-width="0.7" />
<line x1="674.18" y1="706.84" x2="676.78" y2="706.84" stroke="#56c3e4" stroke-width="0.7" />
<circle cx="675.48" cy="703.89" r="0.75" fill="#3fb0d8"/>
<circle cx="675.48" cy="699.31" r="0.75" fill="#3fb0d8"/>
<circle cx="675.48" cy="695.70" r="0.75" fill="#3fb0d8"/>
<text x="442.72" y="649.53" font-size="6.0" text-anchor="middle" fill="#222" stroke="#222" stroke-width="0.22" letter-spacing="0.15">*</text>
<text x="471.73" y="672.19" font-size="6.0" text-anchor="middle" fill="#222" stroke="#222" stroke-width="0.22" letter-spacing="0.15">*</text>
<text x="512.48" y="672.19" font-size="6.0" text-anchor="middle" fill="#222" stroke="#222" stroke-width="0.22" letter-spacing="0.15">**</text>
<text x="593.98" y="680.11" font-size="6.0" text-anchor="middle" fill="#222" stroke="#222" stroke-width="0.22" letter-spacing="0.15">**</text>
<text x="634.73" y="678.47" font-size="6.0" text-anchor="middle" fill="#222" stroke="#222" stroke-width="0.22" letter-spacing="0.15">*</text>
<text x="675.48" y="692.94" font-size="6.0" text-anchor="middle" fill="#222" stroke="#222" stroke-width="0.22" letter-spacing="0.15">**</text>
<rect x="612.20" y="626.10" width="3.5" height="3.5" fill="#d4473d"/>
<text x="617.90" y="629.60" font-size="5.0" text-anchor="start" fill="#222" stroke="#222" stroke-width="0.12" >DMSO</text>
<circle cx="638.90" cy="627.85" r="1.8" fill="#24602c"/>
<text x="643.30" y="629.60" font-size="5.0" text-anchor="start" fill="#222" stroke="#222" stroke-width="0.12" >NVP-AUY922</text>
<path d="M612.20 637.10 L613.90 633.50 L615.60 637.10Z" fill="#5266a8"/>
<text x="617.90" y="636.90" font-size="5.0" text-anchor="start" fill="#222" stroke="#222" stroke-width="0.12" >20 μM</text>
<path d="M637.10 633.50 L640.70 633.50 L638.90 637.10Z" fill="#233f96"/>
<text x="642.30" y="636.90" font-size="5.0" text-anchor="start" fill="#222" stroke="#222" stroke-width="0.12" >40 μM</text>
<path d="M661.30 633.30 L663.20 635.30 L661.30 637.30 L659.40 635.30Z" fill="#55c2e8"/>
<text x="665.30" y="636.90" font-size="5.0" text-anchor="start" fill="#222" stroke="#222" stroke-width="0.12" >80 μM</text>
</g>
</svg></body></html>
